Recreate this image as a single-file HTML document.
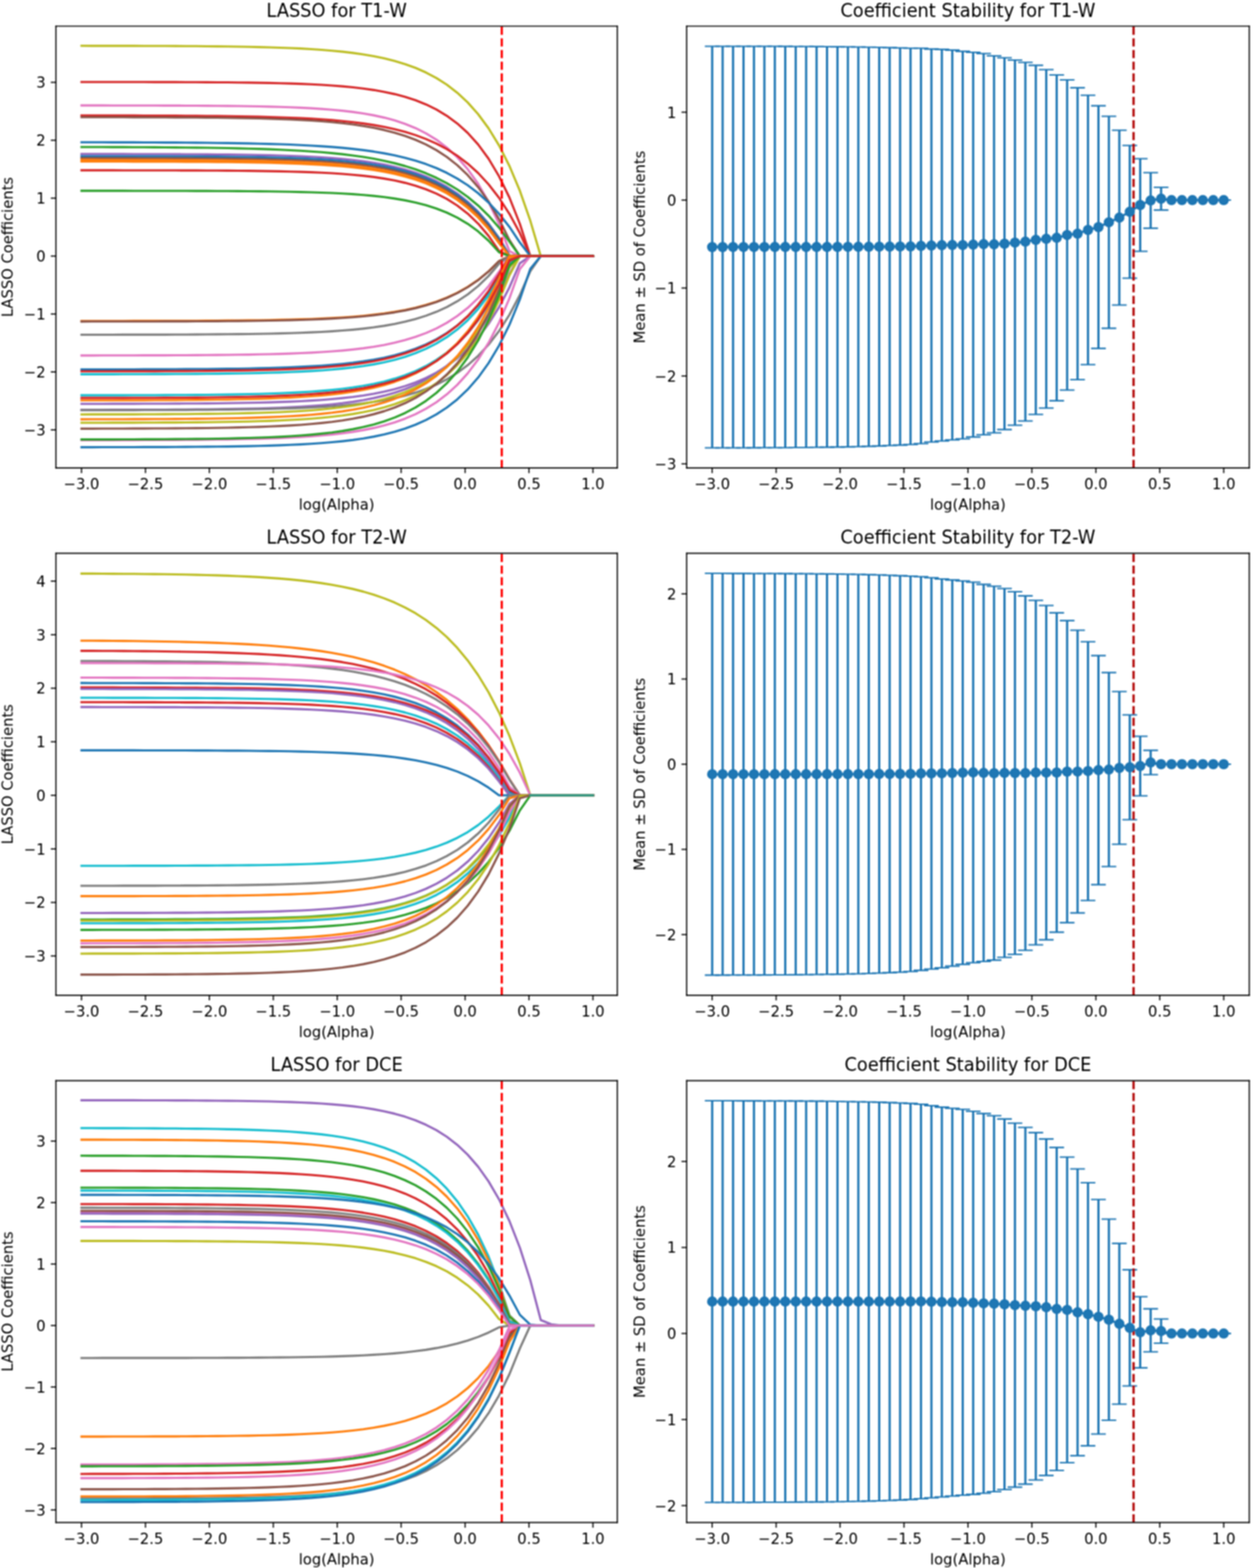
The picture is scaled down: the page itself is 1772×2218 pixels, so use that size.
<!DOCTYPE html>
<html><head><meta charset="utf-8"><title>LASSO coefficient paths</title><style>html,body{margin:0;padding:0;background:#fff;}svg{display:block;}</style></head><body>
<svg xmlns="http://www.w3.org/2000/svg" width="1772" height="2218" viewBox="0 0 1772 2218"><defs><filter id="soft" x="0" y="0" width="1772" height="2218" filterUnits="userSpaceOnUse" color-interpolation-filters="sRGB"><feGaussianBlur in="SourceGraphic" stdDeviation="1" result="b1"/><feGaussianBlur in="SourceGraphic" stdDeviation="1.5" result="b2"/><feComposite in="b1" in2="b2" operator="arithmetic" k1="0" k2="1.6" k3="-0.6" k4="0"/></filter></defs><rect width="1772" height="2218" fill="#ffffff"/><g filter="url(#soft)"><svg x="0" y="0" xmlns:xlink="http://www.w3.org/1999/xlink" width="1772" height="2218" viewBox="0 0 850.56 1064.64" xmlns="http://www.w3.org/2000/svg" version="1.1">
 <defs>
  <style type="text/css">*{stroke-linejoin: round; stroke-linecap: butt}</style>
 </defs>
 <g id="figure_1">
  <g id="patch_1">
   <path d="M 0 1064.64 
L 850.56 1064.64 
L 850.56 0 
L 0 0 
z
" style="fill: #ffffff"/>
  </g>
  <g id="axes_1">
   <g id="patch_2">
    <path d="M 37.99 317.73 
L 419.04 317.73 
L 419.04 17.76 
L 37.99 17.76 
z
" style="fill: #ffffff"/>
   </g>
   <g id="matplotlib.axis_1">
    <g id="xtick_1">
     <g id="line2d_1">
      <defs>
       <path id="m1504cfccaf" d="M 0 0 
L 0 3.5 
" style="stroke: #000000; stroke-width: 0.8"/>
      </defs>
      <g>
       <use xlink:href="#m1504cfccaf" x="55.34" y="317.73" style="stroke: #000000; stroke-width: 0.8"/>
      </g>
     </g>
     <g id="text_1">
      <text style="font-size: 10px; font-family: 'DejaVu Sans', 'Liberation Sans', sans-serif; text-anchor: middle" x="55.34" y="332.33" transform="rotate(-0 55.34 332.33)">−3.0</text>
     </g>
    </g>
    <g id="xtick_2">
     <g id="line2d_2">
      <g>
       <use xlink:href="#m1504cfccaf" x="98.73" y="317.73" style="stroke: #000000; stroke-width: 0.8"/>
      </g>
     </g>
     <g id="text_2">
      <text style="font-size: 10px; font-family: 'DejaVu Sans', 'Liberation Sans', sans-serif; text-anchor: middle" x="98.73" y="332.33" transform="rotate(-0 98.73 332.33)">−2.5</text>
     </g>
    </g>
    <g id="xtick_3">
     <g id="line2d_3">
      <g>
       <use xlink:href="#m1504cfccaf" x="142.13" y="317.73" style="stroke: #000000; stroke-width: 0.8"/>
      </g>
     </g>
     <g id="text_3">
      <text style="font-size: 10px; font-family: 'DejaVu Sans', 'Liberation Sans', sans-serif; text-anchor: middle" x="142.13" y="332.33" transform="rotate(-0 142.13 332.33)">−2.0</text>
     </g>
    </g>
    <g id="xtick_4">
     <g id="line2d_4">
      <g>
       <use xlink:href="#m1504cfccaf" x="185.52" y="317.73" style="stroke: #000000; stroke-width: 0.8"/>
      </g>
     </g>
     <g id="text_4">
      <text style="font-size: 10px; font-family: 'DejaVu Sans', 'Liberation Sans', sans-serif; text-anchor: middle" x="185.52" y="332.33" transform="rotate(-0 185.52 332.33)">−1.5</text>
     </g>
    </g>
    <g id="xtick_5">
     <g id="line2d_5">
      <g>
       <use xlink:href="#m1504cfccaf" x="228.92" y="317.73" style="stroke: #000000; stroke-width: 0.8"/>
      </g>
     </g>
     <g id="text_5">
      <text style="font-size: 10px; font-family: 'DejaVu Sans', 'Liberation Sans', sans-serif; text-anchor: middle" x="228.92" y="332.33" transform="rotate(-0 228.92 332.33)">−1.0</text>
     </g>
    </g>
    <g id="xtick_6">
     <g id="line2d_6">
      <g>
       <use xlink:href="#m1504cfccaf" x="272.31" y="317.73" style="stroke: #000000; stroke-width: 0.8"/>
      </g>
     </g>
     <g id="text_6">
      <text style="font-size: 10px; font-family: 'DejaVu Sans', 'Liberation Sans', sans-serif; text-anchor: middle" x="272.31" y="332.33" transform="rotate(-0 272.31 332.33)">−0.5</text>
     </g>
    </g>
    <g id="xtick_7">
     <g id="line2d_7">
      <g>
       <use xlink:href="#m1504cfccaf" x="315.71" y="317.73" style="stroke: #000000; stroke-width: 0.8"/>
      </g>
     </g>
     <g id="text_7">
      <text style="font-size: 10px; font-family: 'DejaVu Sans', 'Liberation Sans', sans-serif; text-anchor: middle" x="315.71" y="332.33" transform="rotate(-0 315.71 332.33)">0.0</text>
     </g>
    </g>
    <g id="xtick_8">
     <g id="line2d_8">
      <g>
       <use xlink:href="#m1504cfccaf" x="359.10" y="317.73" style="stroke: #000000; stroke-width: 0.8"/>
      </g>
     </g>
     <g id="text_8">
      <text style="font-size: 10px; font-family: 'DejaVu Sans', 'Liberation Sans', sans-serif; text-anchor: middle" x="359.10" y="332.33" transform="rotate(-0 359.10 332.33)">0.5</text>
     </g>
    </g>
    <g id="xtick_9">
     <g id="line2d_9">
      <g>
       <use xlink:href="#m1504cfccaf" x="402.50" y="317.73" style="stroke: #000000; stroke-width: 0.8"/>
      </g>
     </g>
     <g id="text_9">
      <text style="font-size: 10px; font-family: 'DejaVu Sans', 'Liberation Sans', sans-serif; text-anchor: middle" x="402.50" y="332.33" transform="rotate(-0 402.50 332.33)">1.0</text>
     </g>
    </g>
    <g id="text_10">
     <text style="font-size: 10px; font-family: 'DejaVu Sans', 'Liberation Sans', sans-serif; text-anchor: middle" x="228.51" y="346.01" transform="rotate(-0 228.51 346.01)">log(Alpha)</text>
    </g>
   </g>
   <g id="matplotlib.axis_2">
    <g id="ytick_1">
     <g id="line2d_10">
      <defs>
       <path id="m5d545ce8f8" d="M 0 0 
L -3.5 0 
" style="stroke: #000000; stroke-width: 0.8"/>
      </defs>
      <g>
       <use xlink:href="#m5d545ce8f8" x="37.99" y="291.88" style="stroke: #000000; stroke-width: 0.8"/>
      </g>
     </g>
     <g id="text_11">
      <text style="font-size: 10px; font-family: 'DejaVu Sans', 'Liberation Sans', sans-serif; text-anchor: end" x="30.99" y="295.68" transform="rotate(-0 30.99 295.68)">−3</text>
     </g>
    </g>
    <g id="ytick_2">
     <g id="line2d_11">
      <g>
       <use xlink:href="#m5d545ce8f8" x="37.99" y="252.55" style="stroke: #000000; stroke-width: 0.8"/>
      </g>
     </g>
     <g id="text_12">
      <text style="font-size: 10px; font-family: 'DejaVu Sans', 'Liberation Sans', sans-serif; text-anchor: end" x="30.99" y="256.35" transform="rotate(-0 30.99 256.35)">−2</text>
     </g>
    </g>
    <g id="ytick_3">
     <g id="line2d_12">
      <g>
       <use xlink:href="#m5d545ce8f8" x="37.99" y="213.23" style="stroke: #000000; stroke-width: 0.8"/>
      </g>
     </g>
     <g id="text_13">
      <text style="font-size: 10px; font-family: 'DejaVu Sans', 'Liberation Sans', sans-serif; text-anchor: end" x="30.99" y="217.03" transform="rotate(-0 30.99 217.03)">−1</text>
     </g>
    </g>
    <g id="ytick_4">
     <g id="line2d_13">
      <g>
       <use xlink:href="#m5d545ce8f8" x="37.99" y="173.90" style="stroke: #000000; stroke-width: 0.8"/>
      </g>
     </g>
     <g id="text_14">
      <text style="font-size: 10px; font-family: 'DejaVu Sans', 'Liberation Sans', sans-serif; text-anchor: end" x="30.99" y="177.70" transform="rotate(-0 30.99 177.70)">0</text>
     </g>
    </g>
    <g id="ytick_5">
     <g id="line2d_14">
      <g>
       <use xlink:href="#m5d545ce8f8" x="37.99" y="134.57" style="stroke: #000000; stroke-width: 0.8"/>
      </g>
     </g>
     <g id="text_15">
      <text style="font-size: 10px; font-family: 'DejaVu Sans', 'Liberation Sans', sans-serif; text-anchor: end" x="30.99" y="138.37" transform="rotate(-0 30.99 138.37)">1</text>
     </g>
    </g>
    <g id="ytick_6">
     <g id="line2d_15">
      <g>
       <use xlink:href="#m5d545ce8f8" x="37.99" y="95.25" style="stroke: #000000; stroke-width: 0.8"/>
      </g>
     </g>
     <g id="text_16">
      <text style="font-size: 10px; font-family: 'DejaVu Sans', 'Liberation Sans', sans-serif; text-anchor: end" x="30.99" y="99.04" transform="rotate(-0 30.99 99.04)">2</text>
     </g>
    </g>
    <g id="ytick_7">
     <g id="line2d_16">
      <g>
       <use xlink:href="#m5d545ce8f8" x="37.99" y="55.92" style="stroke: #000000; stroke-width: 0.8"/>
      </g>
     </g>
     <g id="text_17">
      <text style="font-size: 10px; font-family: 'DejaVu Sans', 'Liberation Sans', sans-serif; text-anchor: end" x="30.99" y="59.72" transform="rotate(-0 30.99 59.72)">3</text>
     </g>
    </g>
    <g id="text_18">
     <text style="font-size: 10px; font-family: 'DejaVu Sans', 'Liberation Sans', sans-serif; text-anchor: middle" x="8.62" y="167.74" transform="rotate(-90 8.62 167.74)">LASSO Coefficients</text>
    </g>
   </g>
   <g id="line2d_17">
    <path d="M 55.34 31.10 
L 62.42 31.11 
L 69.51 31.12 
L 76.59 31.13 
L 83.68 31.14 
L 90.76 31.16 
L 97.85 31.18 
L 104.93 31.20 
L 112.02 31.23 
L 119.10 31.26 
L 126.19 31.30 
L 133.27 31.35 
L 140.36 31.41 
L 147.44 31.49 
L 154.53 31.57 
L 161.61 31.68 
L 168.70 31.81 
L 175.78 31.96 
L 182.87 32.15 
L 189.95 32.37 
L 197.04 32.64 
L 204.12 32.96 
L 211.21 33.36 
L 218.29 33.83 
L 225.38 34.41 
L 232.46 35.10 
L 239.55 35.93 
L 246.63 36.94 
L 253.72 38.15 
L 260.80 39.62 
L 267.89 41.39 
L 274.97 43.52 
L 282.06 46.10 
L 289.14 49.21 
L 296.23 52.96 
L 303.31 57.49 
L 310.40 62.95 
L 317.48 69.54 
L 324.57 77.50 
L 331.65 87.11 
L 338.73 98.69 
L 345.82 112.68 
L 352.90 129.56 
L 359.99 149.93 
L 367.07 173.90 
L 374.16 173.90 
L 381.24 173.90 
L 388.33 173.90 
L 395.41 173.90 
L 402.50 173.90 
" clip-path="url(#p4a0992211f)" style="fill: none; stroke: #bcbd22; stroke-width: 1.5; stroke-linecap: square"/>
   </g>
   <g id="line2d_18">
    <path d="M 55.34 55.66 
L 62.42 55.66 
L 69.51 55.67 
L 76.59 55.68 
L 83.68 55.68 
L 90.76 55.69 
L 97.85 55.70 
L 104.93 55.72 
L 112.02 55.73 
L 119.10 55.75 
L 126.19 55.78 
L 133.27 55.81 
L 140.36 55.85 
L 147.44 55.90 
L 154.53 55.95 
L 161.61 56.02 
L 168.70 56.11 
L 175.78 56.22 
L 182.87 56.35 
L 189.95 56.51 
L 197.04 56.71 
L 204.12 56.95 
L 211.21 57.24 
L 218.29 57.61 
L 225.38 58.06 
L 232.46 58.60 
L 239.55 59.28 
L 246.63 60.10 
L 253.72 61.12 
L 260.80 62.36 
L 267.89 63.89 
L 274.97 65.77 
L 282.06 68.07 
L 289.14 70.89 
L 296.23 74.36 
L 303.31 78.62 
L 310.40 83.84 
L 317.48 90.25 
L 324.57 98.12 
L 331.65 107.78 
L 338.73 119.63 
L 345.82 134.18 
L 352.90 152.04 
L 359.99 173.90 
L 367.07 173.90 
L 374.16 173.90 
L 381.24 173.90 
L 388.33 173.90 
L 395.41 173.90 
L 402.50 173.90 
" clip-path="url(#p4a0992211f)" style="fill: none; stroke: #d62728; stroke-width: 1.5; stroke-linecap: square"/>
   </g>
   <g id="line2d_19">
    <path d="M 55.34 71.59 
L 62.42 71.60 
L 69.51 71.60 
L 76.59 71.61 
L 83.68 71.62 
L 90.76 71.63 
L 97.85 71.64 
L 104.93 71.66 
L 112.02 71.68 
L 119.10 71.70 
L 126.19 71.73 
L 133.27 71.77 
L 140.36 71.82 
L 147.44 71.87 
L 154.53 71.94 
L 161.61 72.03 
L 168.70 72.13 
L 175.78 72.26 
L 182.87 72.42 
L 189.95 72.62 
L 197.04 72.86 
L 204.12 73.15 
L 211.21 73.52 
L 218.29 73.97 
L 225.38 74.52 
L 232.46 75.19 
L 239.55 76.02 
L 246.63 77.05 
L 253.72 78.30 
L 260.80 79.85 
L 267.89 81.75 
L 274.97 84.09 
L 282.06 86.97 
L 289.14 90.51 
L 296.23 94.85 
L 303.31 100.20 
L 310.40 106.78 
L 317.48 114.87 
L 324.57 124.81 
L 331.65 137.04 
L 338.73 152.08 
L 345.82 170.57 
L 352.90 173.90 
L 359.99 173.90 
L 367.07 173.90 
L 374.16 173.90 
L 381.24 173.90 
L 388.33 173.90 
L 395.41 173.90 
L 402.50 173.90 
" clip-path="url(#p4a0992211f)" style="fill: none; stroke: #e377c2; stroke-width: 1.5; stroke-linecap: square"/>
   </g>
   <g id="line2d_20">
    <path d="M 55.34 78.38 
L 62.42 78.39 
L 69.51 78.40 
L 76.59 78.41 
L 83.68 78.42 
L 90.76 78.44 
L 97.85 78.46 
L 104.93 78.49 
L 112.02 78.52 
L 119.10 78.56 
L 126.19 78.60 
L 133.27 78.65 
L 140.36 78.71 
L 147.44 78.79 
L 154.53 78.87 
L 161.61 78.98 
L 168.70 79.10 
L 175.78 79.26 
L 182.87 79.44 
L 189.95 79.65 
L 197.04 79.91 
L 204.12 80.22 
L 211.21 80.58 
L 218.29 81.02 
L 225.38 81.55 
L 232.46 82.18 
L 239.55 82.93 
L 246.63 83.83 
L 253.72 84.90 
L 260.80 86.18 
L 267.89 87.72 
L 274.97 89.55 
L 282.06 91.74 
L 289.14 94.37 
L 296.23 97.50 
L 303.31 101.25 
L 310.40 105.73 
L 317.48 111.08 
L 324.57 117.49 
L 331.65 125.14 
L 338.73 134.29 
L 345.82 145.23 
L 352.90 158.31 
L 359.99 173.90 
L 367.07 173.90 
L 374.16 173.90 
L 381.24 173.90 
L 388.33 173.90 
L 395.41 173.90 
L 402.50 173.90 
" clip-path="url(#p4a0992211f)" style="fill: none; stroke: #d62728; stroke-width: 1.5; stroke-linecap: square"/>
   </g>
   <g id="line2d_21">
    <path d="M 55.34 79.55 
L 62.42 79.56 
L 69.51 79.57 
L 76.59 79.58 
L 83.68 79.59 
L 90.76 79.61 
L 97.85 79.63 
L 104.93 79.65 
L 112.02 79.68 
L 119.10 79.72 
L 126.19 79.76 
L 133.27 79.81 
L 140.36 79.87 
L 147.44 79.95 
L 154.53 80.04 
L 161.61 80.14 
L 168.70 80.27 
L 175.78 80.43 
L 182.87 80.62 
L 189.95 80.85 
L 197.04 81.13 
L 204.12 81.46 
L 211.21 81.86 
L 218.29 82.35 
L 225.38 82.93 
L 232.46 83.64 
L 239.55 84.50 
L 246.63 85.53 
L 253.72 86.77 
L 260.80 88.27 
L 267.89 90.08 
L 274.97 92.26 
L 282.06 94.90 
L 289.14 98.08 
L 296.23 101.92 
L 303.31 106.56 
L 310.40 112.15 
L 317.48 118.90 
L 324.57 127.04 
L 331.65 136.87 
L 338.73 148.73 
L 345.82 163.04 
L 352.90 173.90 
L 359.99 173.90 
L 367.07 173.90 
L 374.16 173.90 
L 381.24 173.90 
L 388.33 173.90 
L 395.41 173.90 
L 402.50 173.90 
" clip-path="url(#p4a0992211f)" style="fill: none; stroke: #8c564b; stroke-width: 1.5; stroke-linecap: square"/>
   </g>
   <g id="line2d_22">
    <path d="M 55.34 96.60 
L 62.42 96.61 
L 69.51 96.62 
L 76.59 96.64 
L 83.68 96.65 
L 90.76 96.67 
L 97.85 96.70 
L 104.93 96.73 
L 112.02 96.76 
L 119.10 96.80 
L 126.19 96.85 
L 133.27 96.90 
L 140.36 96.97 
L 147.44 97.05 
L 154.53 97.14 
L 161.61 97.25 
L 168.70 97.38 
L 175.78 97.54 
L 182.87 97.72 
L 189.95 97.93 
L 197.04 98.19 
L 204.12 98.49 
L 211.21 98.85 
L 218.29 99.28 
L 225.38 99.78 
L 232.46 100.38 
L 239.55 101.09 
L 246.63 101.93 
L 253.72 102.92 
L 260.80 104.10 
L 267.89 105.49 
L 274.97 107.14 
L 282.06 109.09 
L 289.14 111.40 
L 296.23 114.14 
L 303.31 117.38 
L 310.40 121.23 
L 317.48 125.78 
L 324.57 131.16 
L 331.65 137.54 
L 338.73 145.10 
L 345.82 154.05 
L 352.90 164.65 
L 359.99 173.90 
L 367.07 173.90 
L 374.16 173.90 
L 381.24 173.90 
L 388.33 173.90 
L 395.41 173.90 
L 402.50 173.90 
" clip-path="url(#p4a0992211f)" style="fill: none; stroke: #1f77b4; stroke-width: 1.5; stroke-linecap: square"/>
   </g>
   <g id="line2d_23">
    <path d="M 55.34 99.82 
L 62.42 99.84 
L 69.51 99.86 
L 76.59 99.88 
L 83.68 99.90 
L 90.76 99.93 
L 97.85 99.97 
L 104.93 100.01 
L 112.02 100.06 
L 119.10 100.12 
L 126.19 100.18 
L 133.27 100.26 
L 140.36 100.35 
L 147.44 100.46 
L 154.53 100.59 
L 161.61 100.74 
L 168.70 100.91 
L 175.78 101.12 
L 182.87 101.36 
L 189.95 101.64 
L 197.04 101.97 
L 204.12 102.36 
L 211.21 102.82 
L 218.29 103.35 
L 225.38 103.98 
L 232.46 104.72 
L 239.55 105.58 
L 246.63 106.59 
L 253.72 107.78 
L 260.80 109.18 
L 267.89 110.82 
L 274.97 112.74 
L 282.06 114.99 
L 289.14 117.64 
L 296.23 120.74 
L 303.31 124.38 
L 310.40 128.65 
L 317.48 133.66 
L 324.57 139.54 
L 331.65 146.43 
L 338.73 154.52 
L 345.82 164.02 
L 352.90 173.90 
L 359.99 173.90 
L 367.07 173.90 
L 374.16 173.90 
L 381.24 173.90 
L 388.33 173.90 
L 395.41 173.90 
L 402.50 173.90 
" clip-path="url(#p4a0992211f)" style="fill: none; stroke: #2ca02c; stroke-width: 1.5; stroke-linecap: square"/>
   </g>
   <g id="line2d_24">
    <path d="M 55.34 104.56 
L 62.42 104.56 
L 69.51 104.57 
L 76.59 104.58 
L 83.68 104.59 
L 90.76 104.61 
L 97.85 104.62 
L 104.93 104.64 
L 112.02 104.67 
L 119.10 104.69 
L 126.19 104.73 
L 133.27 104.77 
L 140.36 104.82 
L 147.44 104.88 
L 154.53 104.96 
L 161.61 105.05 
L 168.70 105.15 
L 175.78 105.28 
L 182.87 105.44 
L 189.95 105.63 
L 197.04 105.86 
L 204.12 106.13 
L 211.21 106.46 
L 218.29 106.86 
L 225.38 107.35 
L 232.46 107.93 
L 239.55 108.63 
L 246.63 109.48 
L 253.72 110.51 
L 260.80 111.75 
L 267.89 113.24 
L 274.97 115.04 
L 282.06 117.22 
L 289.14 119.84 
L 296.23 123.01 
L 303.31 126.83 
L 310.40 131.44 
L 317.48 137.01 
L 324.57 143.72 
L 331.65 151.83 
L 338.73 161.61 
L 345.82 173.41 
L 352.90 173.90 
L 359.99 173.90 
L 367.07 173.90 
L 374.16 173.90 
L 381.24 173.90 
L 388.33 173.90 
L 395.41 173.90 
L 402.50 173.90 
" clip-path="url(#p4a0992211f)" style="fill: none; stroke: #9467bd; stroke-width: 1.5; stroke-linecap: square"/>
   </g>
   <g id="line2d_25">
    <path d="M 55.34 106.05 
L 62.42 106.06 
L 69.51 106.07 
L 76.59 106.07 
L 83.68 106.09 
L 90.76 106.10 
L 97.85 106.11 
L 104.93 106.13 
L 112.02 106.16 
L 119.10 106.19 
L 126.19 106.22 
L 133.27 106.26 
L 140.36 106.31 
L 147.44 106.37 
L 154.53 106.44 
L 161.61 106.53 
L 168.70 106.63 
L 175.78 106.76 
L 182.87 106.91 
L 189.95 107.10 
L 197.04 107.32 
L 204.12 107.59 
L 211.21 107.92 
L 218.29 108.31 
L 225.38 108.78 
L 232.46 109.35 
L 239.55 110.04 
L 246.63 110.87 
L 253.72 111.87 
L 260.80 113.09 
L 267.89 114.55 
L 274.97 116.31 
L 282.06 118.44 
L 289.14 121.00 
L 296.23 124.10 
L 303.31 127.84 
L 310.40 132.35 
L 317.48 137.80 
L 324.57 144.37 
L 331.65 152.30 
L 338.73 161.87 
L 345.82 173.42 
L 352.90 173.90 
L 359.99 173.90 
L 367.07 173.90 
L 374.16 173.90 
L 381.24 173.90 
L 388.33 173.90 
L 395.41 173.90 
L 402.50 173.90 
" clip-path="url(#p4a0992211f)" style="fill: none; stroke: #1f77b4; stroke-width: 1.5; stroke-linecap: square"/>
   </g>
   <g id="line2d_26">
    <path d="M 55.34 107.31 
L 62.42 107.32 
L 69.51 107.32 
L 76.59 107.33 
L 83.68 107.34 
L 90.76 107.36 
L 97.85 107.37 
L 104.93 107.39 
L 112.02 107.42 
L 119.10 107.44 
L 126.19 107.48 
L 133.27 107.52 
L 140.36 107.57 
L 147.44 107.63 
L 154.53 107.70 
L 161.61 107.79 
L 168.70 107.90 
L 175.78 108.02 
L 182.87 108.18 
L 189.95 108.36 
L 197.04 108.59 
L 204.12 108.86 
L 211.21 109.18 
L 218.29 109.58 
L 225.38 110.05 
L 232.46 110.62 
L 239.55 111.32 
L 246.63 112.15 
L 253.72 113.16 
L 260.80 114.37 
L 267.89 115.84 
L 274.97 117.61 
L 282.06 119.75 
L 289.14 122.33 
L 296.23 125.44 
L 303.31 129.19 
L 310.40 133.73 
L 317.48 139.20 
L 324.57 145.80 
L 331.65 153.76 
L 338.73 163.37 
L 345.82 173.90 
L 352.90 173.90 
L 359.99 173.90 
L 367.07 173.90 
L 374.16 173.90 
L 381.24 173.90 
L 388.33 173.90 
L 395.41 173.90 
L 402.50 173.90 
" clip-path="url(#p4a0992211f)" style="fill: none; stroke: #8c564b; stroke-width: 1.5; stroke-linecap: square"/>
   </g>
   <g id="line2d_27">
    <path d="M 55.34 108.57 
L 62.42 108.57 
L 69.51 108.58 
L 76.59 108.59 
L 83.68 108.60 
L 90.76 108.62 
L 97.85 108.63 
L 104.93 108.65 
L 112.02 108.68 
L 119.10 108.70 
L 126.19 108.74 
L 133.27 108.78 
L 140.36 108.83 
L 147.44 108.89 
L 154.53 108.96 
L 161.61 109.05 
L 168.70 109.16 
L 175.78 109.28 
L 182.87 109.44 
L 189.95 109.63 
L 197.04 109.85 
L 204.12 110.12 
L 211.21 110.45 
L 218.29 110.84 
L 225.38 111.32 
L 232.46 111.90 
L 239.55 112.59 
L 246.63 113.43 
L 253.72 114.44 
L 260.80 115.66 
L 267.89 117.13 
L 274.97 118.91 
L 282.06 121.06 
L 289.14 123.65 
L 296.23 126.77 
L 303.31 130.54 
L 310.40 135.09 
L 317.48 140.58 
L 324.57 147.21 
L 331.65 155.20 
L 338.73 164.85 
L 345.82 173.90 
L 352.90 173.90 
L 359.99 173.90 
L 367.07 173.90 
L 374.16 173.90 
L 381.24 173.90 
L 388.33 173.90 
L 395.41 173.90 
L 402.50 173.90 
" clip-path="url(#p4a0992211f)" style="fill: none; stroke: #ff7f0e; stroke-width: 1.5; stroke-linecap: square"/>
   </g>
   <g id="line2d_28">
    <path d="M 55.34 109.67 
L 62.42 109.68 
L 69.51 109.68 
L 76.59 109.69 
L 83.68 109.70 
L 90.76 109.72 
L 97.85 109.73 
L 104.93 109.75 
L 112.02 109.77 
L 119.10 109.80 
L 126.19 109.84 
L 133.27 109.88 
L 140.36 109.93 
L 147.44 109.99 
L 154.53 110.06 
L 161.61 110.14 
L 168.70 110.25 
L 175.78 110.37 
L 182.87 110.52 
L 189.95 110.71 
L 197.04 110.93 
L 204.12 111.20 
L 211.21 111.52 
L 218.29 111.91 
L 225.38 112.38 
L 232.46 112.94 
L 239.55 113.62 
L 246.63 114.45 
L 253.72 115.44 
L 260.80 116.64 
L 267.89 118.09 
L 274.97 119.84 
L 282.06 121.95 
L 289.14 124.49 
L 296.23 127.56 
L 303.31 131.27 
L 310.40 135.74 
L 317.48 141.14 
L 324.57 147.66 
L 331.65 155.52 
L 338.73 165.01 
L 345.82 173.90 
L 352.90 173.90 
L 359.99 173.90 
L 367.07 173.90 
L 374.16 173.90 
L 381.24 173.90 
L 388.33 173.90 
L 395.41 173.90 
L 402.50 173.90 
" clip-path="url(#p4a0992211f)" style="fill: none; stroke: #ff7f0e; stroke-width: 1.5; stroke-linecap: square"/>
   </g>
   <g id="line2d_29">
    <path d="M 55.34 115.63 
L 62.42 115.63 
L 69.51 115.64 
L 76.59 115.64 
L 83.68 115.65 
L 90.76 115.66 
L 97.85 115.67 
L 104.93 115.68 
L 112.02 115.69 
L 119.10 115.71 
L 126.19 115.73 
L 133.27 115.75 
L 140.36 115.78 
L 147.44 115.82 
L 154.53 115.87 
L 161.61 115.93 
L 168.70 116.00 
L 175.78 116.09 
L 182.87 116.20 
L 189.95 116.33 
L 197.04 116.49 
L 204.12 116.69 
L 211.21 116.94 
L 218.29 117.25 
L 225.38 117.62 
L 232.46 118.08 
L 239.55 118.65 
L 246.63 119.34 
L 253.72 120.20 
L 260.80 121.25 
L 267.89 122.54 
L 274.97 124.13 
L 282.06 126.09 
L 289.14 128.49 
L 296.23 131.45 
L 303.31 135.09 
L 310.40 139.56 
L 317.48 145.06 
L 324.57 151.82 
L 331.65 160.14 
L 338.73 170.37 
L 345.82 173.90 
L 352.90 173.90 
L 359.99 173.90 
L 367.07 173.90 
L 374.16 173.90 
L 381.24 173.90 
L 388.33 173.90 
L 395.41 173.90 
L 402.50 173.90 
" clip-path="url(#p4a0992211f)" style="fill: none; stroke: #d62728; stroke-width: 1.5; stroke-linecap: square"/>
   </g>
   <g id="line2d_30">
    <path d="M 55.34 129.55 
L 62.42 129.55 
L 69.51 129.55 
L 76.59 129.56 
L 83.68 129.56 
L 90.76 129.57 
L 97.85 129.58 
L 104.93 129.58 
L 112.02 129.59 
L 119.10 129.61 
L 126.19 129.62 
L 133.27 129.64 
L 140.36 129.67 
L 147.44 129.70 
L 154.53 129.73 
L 161.61 129.78 
L 168.70 129.83 
L 175.78 129.90 
L 182.87 129.98 
L 189.95 130.08 
L 197.04 130.21 
L 204.12 130.36 
L 211.21 130.55 
L 218.29 130.78 
L 225.38 131.06 
L 232.46 131.41 
L 239.55 131.84 
L 246.63 132.37 
L 253.72 133.02 
L 260.80 133.82 
L 267.89 134.81 
L 274.97 136.02 
L 282.06 137.51 
L 289.14 139.34 
L 296.23 141.59 
L 303.31 144.36 
L 310.40 147.76 
L 317.48 151.95 
L 324.57 157.10 
L 331.65 163.43 
L 338.73 171.21 
L 345.82 173.90 
L 352.90 173.90 
L 359.99 173.90 
L 367.07 173.90 
L 374.16 173.90 
L 381.24 173.90 
L 388.33 173.90 
L 395.41 173.90 
L 402.50 173.90 
" clip-path="url(#p4a0992211f)" style="fill: none; stroke: #2ca02c; stroke-width: 1.5; stroke-linecap: square"/>
   </g>
   <g id="line2d_31">
    <path d="M 55.34 217.92 
L 62.42 217.92 
L 69.51 217.91 
L 76.59 217.91 
L 83.68 217.90 
L 90.76 217.89 
L 97.85 217.88 
L 104.93 217.86 
L 112.02 217.85 
L 119.10 217.83 
L 126.19 217.80 
L 133.27 217.77 
L 140.36 217.74 
L 147.44 217.69 
L 154.53 217.64 
L 161.61 217.58 
L 168.70 217.50 
L 175.78 217.41 
L 182.87 217.30 
L 189.95 217.16 
L 197.04 217.00 
L 204.12 216.80 
L 211.21 216.57 
L 218.29 216.28 
L 225.38 215.94 
L 232.46 215.52 
L 239.55 215.02 
L 246.63 214.41 
L 253.72 213.68 
L 260.80 212.80 
L 267.89 211.74 
L 274.97 210.46 
L 282.06 208.91 
L 289.14 207.04 
L 296.23 204.78 
L 303.31 202.06 
L 310.40 198.77 
L 317.48 194.81 
L 324.57 190.02 
L 331.65 184.25 
L 338.73 177.28 
L 345.82 173.90 
L 352.90 173.90 
L 359.99 173.90 
L 367.07 173.90 
L 374.16 173.90 
L 381.24 173.90 
L 388.33 173.90 
L 395.41 173.90 
L 402.50 173.90 
" clip-path="url(#p4a0992211f)" style="fill: none; stroke: #ff7f0e; stroke-width: 1.5; stroke-linecap: square"/>
   </g>
   <g id="line2d_32">
    <path d="M 55.34 218.32 
L 62.42 218.31 
L 69.51 218.31 
L 76.59 218.30 
L 83.68 218.29 
L 90.76 218.28 
L 97.85 218.27 
L 104.93 218.26 
L 112.02 218.24 
L 119.10 218.22 
L 126.19 218.19 
L 133.27 218.16 
L 140.36 218.13 
L 147.44 218.08 
L 154.53 218.03 
L 161.61 217.97 
L 168.70 217.89 
L 175.78 217.80 
L 182.87 217.68 
L 189.95 217.55 
L 197.04 217.38 
L 204.12 217.19 
L 211.21 216.95 
L 218.29 216.66 
L 225.38 216.31 
L 232.46 215.89 
L 239.55 215.39 
L 246.63 214.78 
L 253.72 214.04 
L 260.80 213.15 
L 267.89 212.08 
L 274.97 210.78 
L 282.06 209.22 
L 289.14 207.33 
L 296.23 205.06 
L 303.31 202.31 
L 310.40 199.00 
L 317.48 195.00 
L 324.57 190.17 
L 331.65 184.34 
L 338.73 177.31 
L 345.82 173.90 
L 352.90 173.90 
L 359.99 173.90 
L 367.07 173.90 
L 374.16 173.90 
L 381.24 173.90 
L 388.33 173.90 
L 395.41 173.90 
L 402.50 173.90 
" clip-path="url(#p4a0992211f)" style="fill: none; stroke: #8c564b; stroke-width: 1.5; stroke-linecap: square"/>
   </g>
   <g id="line2d_33">
    <path d="M 55.34 227.28 
L 62.42 227.27 
L 69.51 227.27 
L 76.59 227.26 
L 83.68 227.25 
L 90.76 227.24 
L 97.85 227.23 
L 104.93 227.21 
L 112.02 227.19 
L 119.10 227.16 
L 126.19 227.13 
L 133.27 227.10 
L 140.36 227.06 
L 147.44 227.00 
L 154.53 226.94 
L 161.61 226.87 
L 168.70 226.78 
L 175.78 226.67 
L 182.87 226.54 
L 189.95 226.38 
L 197.04 226.18 
L 204.12 225.95 
L 211.21 225.67 
L 218.29 225.33 
L 225.38 224.92 
L 232.46 224.43 
L 239.55 223.84 
L 246.63 223.12 
L 253.72 222.26 
L 260.80 221.21 
L 267.89 219.95 
L 274.97 218.43 
L 282.06 216.59 
L 289.14 214.38 
L 296.23 211.71 
L 303.31 208.48 
L 310.40 204.59 
L 317.48 199.89 
L 324.57 194.22 
L 331.65 187.38 
L 338.73 179.12 
L 345.82 173.90 
L 352.90 173.90 
L 359.99 173.90 
L 367.07 173.90 
L 374.16 173.90 
L 381.24 173.90 
L 388.33 173.90 
L 395.41 173.90 
L 402.50 173.90 
" clip-path="url(#p4a0992211f)" style="fill: none; stroke: #7f7f7f; stroke-width: 1.5; stroke-linecap: square"/>
   </g>
   <g id="line2d_34">
    <path d="M 55.34 241.35 
L 62.42 241.35 
L 69.51 241.34 
L 76.59 241.33 
L 83.68 241.32 
L 90.76 241.31 
L 97.85 241.29 
L 104.93 241.27 
L 112.02 241.25 
L 119.10 241.22 
L 126.19 241.18 
L 133.27 241.14 
L 140.36 241.09 
L 147.44 241.03 
L 154.53 240.96 
L 161.61 240.87 
L 168.70 240.76 
L 175.78 240.63 
L 182.87 240.48 
L 189.95 240.29 
L 197.04 240.06 
L 204.12 239.79 
L 211.21 239.46 
L 218.29 239.06 
L 225.38 238.58 
L 232.46 238.00 
L 239.55 237.30 
L 246.63 236.45 
L 253.72 235.43 
L 260.80 234.20 
L 267.89 232.71 
L 274.97 230.92 
L 282.06 228.75 
L 289.14 226.14 
L 296.23 222.99 
L 303.31 219.19 
L 310.40 214.59 
L 317.48 209.05 
L 324.57 202.37 
L 331.65 194.30 
L 338.73 184.56 
L 345.82 173.90 
L 352.90 173.90 
L 359.99 173.90 
L 367.07 173.90 
L 374.16 173.90 
L 381.24 173.90 
L 388.33 173.90 
L 395.41 173.90 
L 402.50 173.90 
" clip-path="url(#p4a0992211f)" style="fill: none; stroke: #e377c2; stroke-width: 1.5; stroke-linecap: square"/>
   </g>
   <g id="line2d_35">
    <path d="M 55.34 250.83 
L 62.42 250.82 
L 69.51 250.81 
L 76.59 250.80 
L 83.68 250.79 
L 90.76 250.77 
L 97.85 250.76 
L 104.93 250.73 
L 112.02 250.71 
L 119.10 250.68 
L 126.19 250.64 
L 133.27 250.59 
L 140.36 250.53 
L 147.44 250.47 
L 154.53 250.39 
L 161.61 250.29 
L 168.70 250.17 
L 175.78 250.02 
L 182.87 249.85 
L 189.95 249.64 
L 197.04 249.39 
L 204.12 249.08 
L 211.21 248.71 
L 218.29 248.27 
L 225.38 247.73 
L 232.46 247.09 
L 239.55 246.31 
L 246.63 245.36 
L 253.72 244.23 
L 260.80 242.85 
L 267.89 241.20 
L 274.97 239.20 
L 282.06 236.79 
L 289.14 233.87 
L 296.23 230.36 
L 303.31 226.12 
L 310.40 221.01 
L 317.48 214.83 
L 324.57 207.38 
L 331.65 198.39 
L 338.73 187.54 
L 345.82 174.44 
L 352.90 173.90 
L 359.99 173.90 
L 367.07 173.90 
L 374.16 173.90 
L 381.24 173.90 
L 388.33 173.90 
L 395.41 173.90 
L 402.50 173.90 
" clip-path="url(#p4a0992211f)" style="fill: none; stroke: #1f77b4; stroke-width: 1.5; stroke-linecap: square"/>
   </g>
   <g id="line2d_36">
    <path d="M 55.34 252.13 
L 62.42 252.12 
L 69.51 252.11 
L 76.59 252.10 
L 83.68 252.08 
L 90.76 252.07 
L 97.85 252.05 
L 104.93 252.03 
L 112.02 252.00 
L 119.10 251.97 
L 126.19 251.93 
L 133.27 251.88 
L 140.36 251.82 
L 147.44 251.75 
L 154.53 251.66 
L 161.61 251.56 
L 168.70 251.44 
L 175.78 251.29 
L 182.87 251.11 
L 189.95 250.89 
L 197.04 250.63 
L 204.12 250.31 
L 211.21 249.92 
L 218.29 249.46 
L 225.38 248.90 
L 232.46 248.23 
L 239.55 247.42 
L 246.63 246.44 
L 253.72 245.25 
L 260.80 243.83 
L 267.89 242.10 
L 274.97 240.02 
L 282.06 237.51 
L 289.14 234.48 
L 296.23 230.83 
L 303.31 226.42 
L 310.40 221.09 
L 317.48 214.67 
L 324.57 206.91 
L 331.65 197.56 
L 338.73 186.27 
L 345.82 173.90 
L 352.90 173.90 
L 359.99 173.90 
L 367.07 173.90 
L 374.16 173.90 
L 381.24 173.90 
L 388.33 173.90 
L 395.41 173.90 
L 402.50 173.90 
" clip-path="url(#p4a0992211f)" style="fill: none; stroke: #d62728; stroke-width: 1.5; stroke-linecap: square"/>
   </g>
   <g id="line2d_37">
    <path d="M 55.34 254.09 
L 62.42 254.08 
L 69.51 254.08 
L 76.59 254.07 
L 83.68 254.05 
L 90.76 254.04 
L 97.85 254.02 
L 104.93 254.00 
L 112.02 253.97 
L 119.10 253.94 
L 126.19 253.90 
L 133.27 253.85 
L 140.36 253.79 
L 147.44 253.72 
L 154.53 253.64 
L 161.61 253.54 
L 168.70 253.42 
L 175.78 253.27 
L 182.87 253.10 
L 189.95 252.88 
L 197.04 252.62 
L 204.12 252.31 
L 211.21 251.94 
L 218.29 251.49 
L 225.38 250.94 
L 232.46 250.28 
L 239.55 249.48 
L 246.63 248.52 
L 253.72 247.37 
L 260.80 245.97 
L 267.89 244.28 
L 274.97 242.24 
L 282.06 239.79 
L 289.14 236.82 
L 296.23 233.24 
L 303.31 228.92 
L 310.40 223.71 
L 317.48 217.42 
L 324.57 209.83 
L 331.65 200.67 
L 338.73 189.62 
L 345.82 176.28 
L 352.90 173.90 
L 359.99 173.90 
L 367.07 173.90 
L 374.16 173.90 
L 381.24 173.90 
L 388.33 173.90 
L 395.41 173.90 
L 402.50 173.90 
" clip-path="url(#p4a0992211f)" style="fill: none; stroke: #17becf; stroke-width: 1.5; stroke-linecap: square"/>
   </g>
   <g id="line2d_38">
    <path d="M 55.34 268.40 
L 62.42 268.39 
L 69.51 268.38 
L 76.59 268.37 
L 83.68 268.36 
L 90.76 268.34 
L 97.85 268.32 
L 104.93 268.29 
L 112.02 268.26 
L 119.10 268.22 
L 126.19 268.18 
L 133.27 268.12 
L 140.36 268.06 
L 147.44 267.98 
L 154.53 267.88 
L 161.61 267.77 
L 168.70 267.63 
L 175.78 267.46 
L 182.87 267.25 
L 189.95 267.01 
L 197.04 266.71 
L 204.12 266.35 
L 211.21 265.92 
L 218.29 265.40 
L 225.38 264.77 
L 232.46 264.01 
L 239.55 263.10 
L 246.63 261.99 
L 253.72 260.66 
L 260.80 259.05 
L 267.89 257.10 
L 274.97 254.76 
L 282.06 251.93 
L 289.14 248.51 
L 296.23 244.39 
L 303.31 239.42 
L 310.40 233.42 
L 317.48 226.17 
L 324.57 217.43 
L 331.65 206.88 
L 338.73 194.15 
L 345.82 178.79 
L 352.90 173.90 
L 359.99 173.90 
L 367.07 173.90 
L 374.16 173.90 
L 381.24 173.90 
L 388.33 173.90 
L 395.41 173.90 
L 402.50 173.90 
" clip-path="url(#p4a0992211f)" style="fill: none; stroke: #17becf; stroke-width: 1.5; stroke-linecap: square"/>
   </g>
   <g id="line2d_39">
    <path d="M 55.34 271.82 
L 62.42 271.81 
L 69.51 271.80 
L 76.59 271.79 
L 83.68 271.77 
L 90.76 271.75 
L 97.85 271.73 
L 104.93 271.70 
L 112.02 271.66 
L 119.10 271.62 
L 126.19 271.57 
L 133.27 271.51 
L 140.36 271.44 
L 147.44 271.35 
L 154.53 271.24 
L 161.61 271.11 
L 168.70 270.96 
L 175.78 270.77 
L 182.87 270.54 
L 189.95 270.27 
L 197.04 269.94 
L 204.12 269.54 
L 211.21 269.06 
L 218.29 268.49 
L 225.38 267.79 
L 232.46 266.94 
L 239.55 265.93 
L 246.63 264.70 
L 253.72 263.22 
L 260.80 261.43 
L 267.89 259.27 
L 274.97 256.67 
L 282.06 253.53 
L 289.14 249.74 
L 296.23 245.16 
L 303.31 239.64 
L 310.40 232.97 
L 317.48 224.93 
L 324.57 215.23 
L 331.65 203.51 
L 338.73 189.38 
L 345.82 173.90 
L 352.90 173.90 
L 359.99 173.90 
L 367.07 173.90 
L 374.16 173.90 
L 381.24 173.90 
L 388.33 173.90 
L 395.41 173.90 
L 402.50 173.90 
" clip-path="url(#p4a0992211f)" style="fill: none; stroke: #ff7f0e; stroke-width: 1.5; stroke-linecap: square"/>
   </g>
   <g id="line2d_40">
    <path d="M 55.34 274.19 
L 62.42 274.18 
L 69.51 274.17 
L 76.59 274.16 
L 83.68 274.15 
L 90.76 274.13 
L 97.85 274.11 
L 104.93 274.09 
L 112.02 274.06 
L 119.10 274.03 
L 126.19 273.99 
L 133.27 273.94 
L 140.36 273.88 
L 147.44 273.81 
L 154.53 273.73 
L 161.61 273.63 
L 168.70 273.50 
L 175.78 273.35 
L 182.87 273.17 
L 189.95 272.96 
L 197.04 272.70 
L 204.12 272.38 
L 211.21 272.00 
L 218.29 271.54 
L 225.38 270.98 
L 232.46 270.31 
L 239.55 269.50 
L 246.63 268.53 
L 253.72 267.35 
L 260.80 265.93 
L 267.89 264.21 
L 274.97 262.14 
L 282.06 259.65 
L 289.14 256.63 
L 296.23 253.00 
L 303.31 248.61 
L 310.40 243.31 
L 317.48 236.91 
L 324.57 229.20 
L 331.65 219.89 
L 338.73 208.65 
L 345.82 195.09 
L 352.90 178.73 
L 359.99 173.90 
L 367.07 173.90 
L 374.16 173.90 
L 381.24 173.90 
L 388.33 173.90 
L 395.41 173.90 
L 402.50 173.90 
" clip-path="url(#p4a0992211f)" style="fill: none; stroke: #9467bd; stroke-width: 1.5; stroke-linecap: square"/>
   </g>
   <g id="line2d_41">
    <path d="M 55.34 278.27 
L 62.42 278.26 
L 69.51 278.25 
L 76.59 278.24 
L 83.68 278.23 
L 90.76 278.21 
L 97.85 278.18 
L 104.93 278.16 
L 112.02 278.13 
L 119.10 278.09 
L 126.19 278.04 
L 133.27 277.98 
L 140.36 277.92 
L 147.44 277.83 
L 154.53 277.74 
L 161.61 277.62 
L 168.70 277.47 
L 175.78 277.30 
L 182.87 277.09 
L 189.95 276.84 
L 197.04 276.53 
L 204.12 276.16 
L 211.21 275.72 
L 218.29 275.18 
L 225.38 274.53 
L 232.46 273.75 
L 239.55 272.80 
L 246.63 271.66 
L 253.72 270.29 
L 260.80 268.63 
L 267.89 266.63 
L 274.97 264.21 
L 282.06 261.29 
L 289.14 257.77 
L 296.23 253.52 
L 303.31 248.40 
L 310.40 242.21 
L 317.48 234.75 
L 324.57 225.74 
L 331.65 214.86 
L 338.73 201.74 
L 345.82 185.91 
L 352.90 173.90 
L 359.99 173.90 
L 367.07 173.90 
L 374.16 173.90 
L 381.24 173.90 
L 388.33 173.90 
L 395.41 173.90 
L 402.50 173.90 
" clip-path="url(#p4a0992211f)" style="fill: none; stroke: #9467bd; stroke-width: 1.5; stroke-linecap: square"/>
   </g>
   <g id="line2d_42">
    <path d="M 55.34 278.48 
L 62.42 278.47 
L 69.51 278.47 
L 76.59 278.46 
L 83.68 278.45 
L 90.76 278.44 
L 97.85 278.42 
L 104.93 278.40 
L 112.02 278.38 
L 119.10 278.35 
L 126.19 278.32 
L 133.27 278.28 
L 140.36 278.23 
L 147.44 278.17 
L 154.53 278.11 
L 161.61 278.02 
L 168.70 277.92 
L 175.78 277.80 
L 182.87 277.65 
L 189.95 277.47 
L 197.04 277.26 
L 204.12 277.00 
L 211.21 276.69 
L 218.29 276.31 
L 225.38 275.86 
L 232.46 275.31 
L 239.55 274.65 
L 246.63 273.85 
L 253.72 272.88 
L 260.80 271.72 
L 267.89 270.31 
L 274.97 268.62 
L 282.06 266.58 
L 289.14 264.11 
L 296.23 261.13 
L 303.31 257.53 
L 310.40 253.20 
L 317.48 247.96 
L 324.57 241.64 
L 331.65 234.02 
L 338.73 224.82 
L 345.82 213.72 
L 352.90 200.32 
L 359.99 184.15 
L 367.07 173.90 
L 374.16 173.90 
L 381.24 173.90 
L 388.33 173.90 
L 395.41 173.90 
L 402.50 173.90 
" clip-path="url(#p4a0992211f)" style="fill: none; stroke: #7f7f7f; stroke-width: 1.5; stroke-linecap: square"/>
   </g>
   <g id="line2d_43">
    <path d="M 55.34 281.38 
L 62.42 281.37 
L 69.51 281.35 
L 76.59 281.34 
L 83.68 281.33 
L 90.76 281.31 
L 97.85 281.28 
L 104.93 281.25 
L 112.02 281.22 
L 119.10 281.18 
L 126.19 281.13 
L 133.27 281.07 
L 140.36 280.99 
L 147.44 280.90 
L 154.53 280.80 
L 161.61 280.67 
L 168.70 280.51 
L 175.78 280.33 
L 182.87 280.10 
L 189.95 279.83 
L 197.04 279.50 
L 204.12 279.10 
L 211.21 278.62 
L 218.29 278.04 
L 225.38 277.34 
L 232.46 276.50 
L 239.55 275.48 
L 246.63 274.25 
L 253.72 272.77 
L 260.80 270.98 
L 267.89 268.82 
L 274.97 266.21 
L 282.06 263.07 
L 289.14 259.27 
L 296.23 254.69 
L 303.31 249.16 
L 310.40 242.49 
L 317.48 234.44 
L 324.57 224.73 
L 331.65 213.00 
L 338.73 198.85 
L 345.82 181.78 
L 352.90 173.90 
L 359.99 173.90 
L 367.07 173.90 
L 374.16 173.90 
L 381.24 173.90 
L 388.33 173.90 
L 395.41 173.90 
L 402.50 173.90 
" clip-path="url(#p4a0992211f)" style="fill: none; stroke: #bcbd22; stroke-width: 1.5; stroke-linecap: square"/>
   </g>
   <g id="line2d_44">
    <path d="M 55.34 284.67 
L 62.42 284.66 
L 69.51 284.65 
L 76.59 284.64 
L 83.68 284.62 
L 90.76 284.60 
L 97.85 284.57 
L 104.93 284.54 
L 112.02 284.50 
L 119.10 284.45 
L 126.19 284.40 
L 133.27 284.33 
L 140.36 284.25 
L 147.44 284.15 
L 154.53 284.04 
L 161.61 283.89 
L 168.70 283.72 
L 175.78 283.51 
L 182.87 283.26 
L 189.95 282.96 
L 197.04 282.60 
L 204.12 282.16 
L 211.21 281.63 
L 218.29 280.99 
L 225.38 280.22 
L 232.46 279.29 
L 239.55 278.16 
L 246.63 276.80 
L 253.72 275.17 
L 260.80 273.19 
L 267.89 270.80 
L 274.97 267.93 
L 282.06 264.45 
L 289.14 260.26 
L 296.23 255.20 
L 303.31 249.10 
L 310.40 241.73 
L 317.48 232.84 
L 324.57 222.11 
L 331.65 209.16 
L 338.73 193.54 
L 345.82 174.68 
L 352.90 173.90 
L 359.99 173.90 
L 367.07 173.90 
L 374.16 173.90 
L 381.24 173.90 
L 388.33 173.90 
L 395.41 173.90 
L 402.50 173.90 
" clip-path="url(#p4a0992211f)" style="fill: none; stroke: #ff7f0e; stroke-width: 1.5; stroke-linecap: square"/>
   </g>
   <g id="line2d_45">
    <path d="M 55.34 287.04 
L 62.42 287.03 
L 69.51 287.02 
L 76.59 287.00 
L 83.68 286.99 
L 90.76 286.97 
L 97.85 286.94 
L 104.93 286.92 
L 112.02 286.88 
L 119.10 286.84 
L 126.19 286.79 
L 133.27 286.73 
L 140.36 286.65 
L 147.44 286.56 
L 154.53 286.46 
L 161.61 286.33 
L 168.70 286.17 
L 175.78 285.98 
L 182.87 285.76 
L 189.95 285.48 
L 197.04 285.15 
L 204.12 284.75 
L 211.21 284.27 
L 218.29 283.68 
L 225.38 282.98 
L 232.46 282.13 
L 239.55 281.11 
L 246.63 279.87 
L 253.72 278.38 
L 260.80 276.58 
L 267.89 274.41 
L 274.97 271.79 
L 282.06 268.63 
L 289.14 264.82 
L 296.23 260.21 
L 303.31 254.65 
L 310.40 247.95 
L 317.48 239.86 
L 324.57 230.09 
L 331.65 218.30 
L 338.73 204.08 
L 345.82 186.92 
L 352.90 173.90 
L 359.99 173.90 
L 367.07 173.90 
L 374.16 173.90 
L 381.24 173.90 
L 388.33 173.90 
L 395.41 173.90 
L 402.50 173.90 
" clip-path="url(#p4a0992211f)" style="fill: none; stroke: #bcbd22; stroke-width: 1.5; stroke-linecap: square"/>
   </g>
   <g id="line2d_46">
    <path d="M 55.34 291.04 
L 62.42 291.03 
L 69.51 291.02 
L 76.59 291.00 
L 83.68 290.99 
L 90.76 290.96 
L 97.85 290.94 
L 104.93 290.90 
L 112.02 290.86 
L 119.10 290.82 
L 126.19 290.76 
L 133.27 290.69 
L 140.36 290.61 
L 147.44 290.51 
L 154.53 290.38 
L 161.61 290.24 
L 168.70 290.06 
L 175.78 289.85 
L 182.87 289.59 
L 189.95 289.28 
L 197.04 288.90 
L 204.12 288.45 
L 211.21 287.90 
L 218.29 287.24 
L 225.38 286.44 
L 232.46 285.47 
L 239.55 284.31 
L 246.63 282.91 
L 253.72 281.22 
L 260.80 279.18 
L 267.89 276.71 
L 274.97 273.74 
L 282.06 270.15 
L 289.14 265.81 
L 296.23 260.59 
L 303.31 254.28 
L 310.40 246.66 
L 317.48 237.48 
L 324.57 226.39 
L 331.65 213.01 
L 338.73 196.86 
L 345.82 177.37 
L 352.90 173.90 
L 359.99 173.90 
L 367.07 173.90 
L 374.16 173.90 
L 381.24 173.90 
L 388.33 173.90 
L 395.41 173.90 
L 402.50 173.90 
" clip-path="url(#p4a0992211f)" style="fill: none; stroke: #8c564b; stroke-width: 1.5; stroke-linecap: square"/>
   </g>
   <g id="line2d_47">
    <path d="M 55.34 298.92 
L 62.42 298.91 
L 69.51 298.90 
L 76.59 298.88 
L 83.68 298.87 
L 90.76 298.85 
L 97.85 298.83 
L 104.93 298.80 
L 112.02 298.77 
L 119.10 298.72 
L 126.19 298.68 
L 133.27 298.62 
L 140.36 298.55 
L 147.44 298.46 
L 154.53 298.36 
L 161.61 298.23 
L 168.70 298.08 
L 175.78 297.90 
L 182.87 297.68 
L 189.95 297.42 
L 197.04 297.10 
L 204.12 296.71 
L 211.21 296.25 
L 218.29 295.69 
L 225.38 295.01 
L 232.46 294.20 
L 239.55 293.21 
L 246.63 292.02 
L 253.72 290.59 
L 260.80 288.86 
L 267.89 286.77 
L 274.97 284.25 
L 282.06 281.20 
L 289.14 277.53 
L 296.23 273.10 
L 303.31 267.75 
L 310.40 261.30 
L 317.48 253.51 
L 324.57 244.11 
L 331.65 232.77 
L 338.73 219.08 
L 345.82 202.56 
L 352.90 182.63 
L 359.99 173.90 
L 367.07 173.90 
L 374.16 173.90 
L 381.24 173.90 
L 388.33 173.90 
L 395.41 173.90 
L 402.50 173.90 
" clip-path="url(#p4a0992211f)" style="fill: none; stroke: #e377c2; stroke-width: 1.5; stroke-linecap: square"/>
   </g>
   <g id="line2d_48">
    <path d="M 55.34 298.40 
L 62.42 298.38 
L 69.51 298.37 
L 76.59 298.36 
L 83.68 298.34 
L 90.76 298.31 
L 97.85 298.28 
L 104.93 298.25 
L 112.02 298.21 
L 119.10 298.16 
L 126.19 298.10 
L 133.27 298.03 
L 140.36 297.94 
L 147.44 297.84 
L 154.53 297.71 
L 161.61 297.56 
L 168.70 297.37 
L 175.78 297.15 
L 182.87 296.88 
L 189.95 296.56 
L 197.04 296.17 
L 204.12 295.70 
L 211.21 295.13 
L 218.29 294.44 
L 225.38 293.61 
L 232.46 292.61 
L 239.55 291.41 
L 246.63 289.95 
L 253.72 288.19 
L 260.80 286.07 
L 267.89 283.51 
L 274.97 280.42 
L 282.06 276.69 
L 289.14 272.19 
L 296.23 266.76 
L 303.31 260.21 
L 310.40 252.30 
L 317.48 242.76 
L 324.57 231.25 
L 331.65 217.35 
L 338.73 200.58 
L 345.82 180.34 
L 352.90 173.90 
L 359.99 173.90 
L 367.07 173.90 
L 374.16 173.90 
L 381.24 173.90 
L 388.33 173.90 
L 395.41 173.90 
L 402.50 173.90 
" clip-path="url(#p4a0992211f)" style="fill: none; stroke: #2ca02c; stroke-width: 1.5; stroke-linecap: square"/>
   </g>
   <g id="line2d_49">
    <path d="M 55.34 303.64 
L 62.42 303.63 
L 69.51 303.62 
L 76.59 303.61 
L 83.68 303.60 
L 90.76 303.58 
L 97.85 303.56 
L 104.93 303.54 
L 112.02 303.51 
L 119.10 303.48 
L 126.19 303.43 
L 133.27 303.38 
L 140.36 303.32 
L 147.44 303.25 
L 154.53 303.16 
L 161.61 303.05 
L 168.70 302.92 
L 175.78 302.77 
L 182.87 302.58 
L 189.95 302.35 
L 197.04 302.07 
L 204.12 301.74 
L 211.21 301.34 
L 218.29 300.86 
L 225.38 300.27 
L 232.46 299.57 
L 239.55 298.72 
L 246.63 297.69 
L 253.72 296.45 
L 260.80 294.96 
L 267.89 293.16 
L 274.97 290.98 
L 282.06 288.35 
L 289.14 285.18 
L 296.23 281.36 
L 303.31 276.74 
L 310.40 271.17 
L 317.48 264.45 
L 324.57 256.34 
L 331.65 246.55 
L 338.73 234.73 
L 345.82 220.48 
L 352.90 203.27 
L 359.99 182.50 
L 367.07 173.90 
L 374.16 173.90 
L 381.24 173.90 
L 388.33 173.90 
L 395.41 173.90 
L 402.50 173.90 
" clip-path="url(#p4a0992211f)" style="fill: none; stroke: #1f77b4; stroke-width: 1.5; stroke-linecap: square"/>
   </g>
   <g id="line2d_50">
    <path d="M 55.34 270.21 
L 62.42 270.20 
L 69.51 270.19 
L 76.59 270.18 
L 83.68 270.16 
L 90.76 270.14 
L 97.85 270.12 
L 104.93 270.09 
L 112.02 270.06 
L 119.10 270.02 
L 126.19 269.98 
L 133.27 269.92 
L 140.36 269.85 
L 147.44 269.77 
L 154.53 269.67 
L 161.61 269.55 
L 168.70 269.40 
L 175.78 269.22 
L 182.87 269.01 
L 189.95 268.76 
L 197.04 268.45 
L 204.12 268.07 
L 211.21 267.62 
L 218.29 267.08 
L 225.38 266.42 
L 232.46 265.63 
L 239.55 264.68 
L 246.63 263.52 
L 253.72 262.13 
L 260.80 260.45 
L 267.89 258.43 
L 274.97 255.98 
L 282.06 253.03 
L 289.14 249.47 
L 296.23 245.17 
L 303.31 239.98 
L 310.40 233.72 
L 317.48 226.17 
L 324.57 217.05 
L 331.65 206.05 
L 338.73 192.78 
L 345.82 176.75 
L 352.90 173.90 
L 359.99 173.90 
L 367.07 173.90 
L 374.16 173.90 
L 381.24 173.90 
L 388.33 173.90 
L 395.41 173.90 
L 402.50 173.90 
" clip-path="url(#p4a0992211f)" style="fill: none; stroke: #d62728; stroke-width: 1.5; stroke-linecap: square"/>
   </g>
   <g id="line2d_51">
    <path d="M 340.62 317.73 
L 340.62 17.76 
" clip-path="url(#p4a0992211f)" style="fill: none; stroke-dasharray: 5.55,2.4; stroke-dashoffset: 0; stroke: #ff0000; stroke-width: 1.5"/>
   </g>
   <g id="patch_3">
    <path d="M 37.99 317.73 
L 37.99 17.76 
" style="fill: none; stroke: #000000; stroke-width: 0.8; stroke-linejoin: miter; stroke-linecap: square"/>
   </g>
   <g id="patch_4">
    <path d="M 419.04 317.73 
L 419.04 17.76 
" style="fill: none; stroke: #000000; stroke-width: 0.8; stroke-linejoin: miter; stroke-linecap: square"/>
   </g>
   <g id="patch_5">
    <path d="M 37.99 317.73 
L 419.04 317.73 
" style="fill: none; stroke: #000000; stroke-width: 0.8; stroke-linejoin: miter; stroke-linecap: square"/>
   </g>
   <g id="patch_6">
    <path d="M 37.99 17.76 
L 419.04 17.76 
" style="fill: none; stroke: #000000; stroke-width: 0.8; stroke-linejoin: miter; stroke-linecap: square"/>
   </g>
   <g id="text_19">
    <text style="font-size: 12px; font-family: 'DejaVu Sans', 'Liberation Sans', sans-serif; text-anchor: middle" x="228.51" y="11.76" transform="matrix(1.0070 0 0 1.0600 -1.600 -1.138)">LASSO for T1-W</text>
   </g>
  </g>
  <g id="axes_2">
   <g id="patch_7">
    <path d="M 466.12 317.73 
L 848.01 317.73 
L 848.01 17.76 
L 466.12 17.76 
z
" style="fill: #ffffff"/>
   </g>
   <g id="matplotlib.axis_3">
    <g id="xtick_10">
     <g id="line2d_52">
      <g>
       <use xlink:href="#m1504cfccaf" x="483.45" y="317.73" style="stroke: #000000; stroke-width: 0.8"/>
      </g>
     </g>
     <g id="text_20">
      <text style="font-size: 10px; font-family: 'DejaVu Sans', 'Liberation Sans', sans-serif; text-anchor: middle" x="483.45" y="332.33" transform="rotate(-0 483.45 332.33)">−3.0</text>
     </g>
    </g>
    <g id="xtick_11">
     <g id="line2d_53">
      <g>
       <use xlink:href="#m1504cfccaf" x="526.85" y="317.73" style="stroke: #000000; stroke-width: 0.8"/>
      </g>
     </g>
     <g id="text_21">
      <text style="font-size: 10px; font-family: 'DejaVu Sans', 'Liberation Sans', sans-serif; text-anchor: middle" x="526.85" y="332.33" transform="rotate(-0 526.85 332.33)">−2.5</text>
     </g>
    </g>
    <g id="xtick_12">
     <g id="line2d_54">
      <g>
       <use xlink:href="#m1504cfccaf" x="570.26" y="317.73" style="stroke: #000000; stroke-width: 0.8"/>
      </g>
     </g>
     <g id="text_22">
      <text style="font-size: 10px; font-family: 'DejaVu Sans', 'Liberation Sans', sans-serif; text-anchor: middle" x="570.26" y="332.33" transform="rotate(-0 570.26 332.33)">−2.0</text>
     </g>
    </g>
    <g id="xtick_13">
     <g id="line2d_55">
      <g>
       <use xlink:href="#m1504cfccaf" x="613.66" y="317.73" style="stroke: #000000; stroke-width: 0.8"/>
      </g>
     </g>
     <g id="text_23">
      <text style="font-size: 10px; font-family: 'DejaVu Sans', 'Liberation Sans', sans-serif; text-anchor: middle" x="613.66" y="332.33" transform="rotate(-0 613.66 332.33)">−1.5</text>
     </g>
    </g>
    <g id="xtick_14">
     <g id="line2d_56">
      <g>
       <use xlink:href="#m1504cfccaf" x="657.07" y="317.73" style="stroke: #000000; stroke-width: 0.8"/>
      </g>
     </g>
     <g id="text_24">
      <text style="font-size: 10px; font-family: 'DejaVu Sans', 'Liberation Sans', sans-serif; text-anchor: middle" x="657.07" y="332.33" transform="rotate(-0 657.07 332.33)">−1.0</text>
     </g>
    </g>
    <g id="xtick_15">
     <g id="line2d_57">
      <g>
       <use xlink:href="#m1504cfccaf" x="700.47" y="317.73" style="stroke: #000000; stroke-width: 0.8"/>
      </g>
     </g>
     <g id="text_25">
      <text style="font-size: 10px; font-family: 'DejaVu Sans', 'Liberation Sans', sans-serif; text-anchor: middle" x="700.47" y="332.33" transform="rotate(-0 700.47 332.33)">−0.5</text>
     </g>
    </g>
    <g id="xtick_16">
     <g id="line2d_58">
      <g>
       <use xlink:href="#m1504cfccaf" x="743.88" y="317.73" style="stroke: #000000; stroke-width: 0.8"/>
      </g>
     </g>
     <g id="text_26">
      <text style="font-size: 10px; font-family: 'DejaVu Sans', 'Liberation Sans', sans-serif; text-anchor: middle" x="743.88" y="332.33" transform="rotate(-0 743.88 332.33)">0.0</text>
     </g>
    </g>
    <g id="xtick_17">
     <g id="line2d_59">
      <g>
       <use xlink:href="#m1504cfccaf" x="787.28" y="317.73" style="stroke: #000000; stroke-width: 0.8"/>
      </g>
     </g>
     <g id="text_27">
      <text style="font-size: 10px; font-family: 'DejaVu Sans', 'Liberation Sans', sans-serif; text-anchor: middle" x="787.28" y="332.33" transform="rotate(-0 787.28 332.33)">0.5</text>
     </g>
    </g>
    <g id="xtick_18">
     <g id="line2d_60">
      <g>
       <use xlink:href="#m1504cfccaf" x="830.68" y="317.73" style="stroke: #000000; stroke-width: 0.8"/>
      </g>
     </g>
     <g id="text_28">
      <text style="font-size: 10px; font-family: 'DejaVu Sans', 'Liberation Sans', sans-serif; text-anchor: middle" x="830.68" y="332.33" transform="rotate(-0 830.68 332.33)">1.0</text>
     </g>
    </g>
    <g id="text_29">
     <text style="font-size: 10px; font-family: 'DejaVu Sans', 'Liberation Sans', sans-serif; text-anchor: middle" x="657.07" y="346.01" transform="rotate(-0 657.07 346.01)">log(Alpha)</text>
    </g>
   </g>
   <g id="matplotlib.axis_4">
    <g id="ytick_8">
     <g id="line2d_61">
      <g>
       <use xlink:href="#m5d545ce8f8" x="466.12" y="314.97" style="stroke: #000000; stroke-width: 0.8"/>
      </g>
     </g>
     <g id="text_30">
      <text style="font-size: 10px; font-family: 'DejaVu Sans', 'Liberation Sans', sans-serif; text-anchor: end" x="459.12" y="318.77" transform="rotate(-0 459.12 318.77)">−3</text>
     </g>
    </g>
    <g id="ytick_9">
     <g id="line2d_62">
      <g>
       <use xlink:href="#m5d545ce8f8" x="466.12" y="255.27" style="stroke: #000000; stroke-width: 0.8"/>
      </g>
     </g>
     <g id="text_31">
      <text style="font-size: 10px; font-family: 'DejaVu Sans', 'Liberation Sans', sans-serif; text-anchor: end" x="459.12" y="259.07" transform="rotate(-0 459.12 259.07)">−2</text>
     </g>
    </g>
    <g id="ytick_10">
     <g id="line2d_63">
      <g>
       <use xlink:href="#m5d545ce8f8" x="466.12" y="195.57" style="stroke: #000000; stroke-width: 0.8"/>
      </g>
     </g>
     <g id="text_32">
      <text style="font-size: 10px; font-family: 'DejaVu Sans', 'Liberation Sans', sans-serif; text-anchor: end" x="459.12" y="199.37" transform="rotate(-0 459.12 199.37)">−1</text>
     </g>
    </g>
    <g id="ytick_11">
     <g id="line2d_64">
      <g>
       <use xlink:href="#m5d545ce8f8" x="466.12" y="135.87" style="stroke: #000000; stroke-width: 0.8"/>
      </g>
     </g>
     <g id="text_33">
      <text style="font-size: 10px; font-family: 'DejaVu Sans', 'Liberation Sans', sans-serif; text-anchor: end" x="459.12" y="139.67" transform="rotate(-0 459.12 139.67)">0</text>
     </g>
    </g>
    <g id="ytick_12">
     <g id="line2d_65">
      <g>
       <use xlink:href="#m5d545ce8f8" x="466.12" y="76.17" style="stroke: #000000; stroke-width: 0.8"/>
      </g>
     </g>
     <g id="text_34">
      <text style="font-size: 10px; font-family: 'DejaVu Sans', 'Liberation Sans', sans-serif; text-anchor: end" x="459.12" y="79.97" transform="rotate(-0 459.12 79.97)">1</text>
     </g>
    </g>
    <g id="text_35">
     <text style="font-size: 10px; font-family: 'DejaVu Sans', 'Liberation Sans', sans-serif; text-anchor: middle" x="437.63" y="167.74" transform="rotate(-90 437.63 167.74)">Mean ± SD of Coefficients</text>
    </g>
   </g>
   <g id="LineCollection_1">
    <path d="M 483.45 304.10 
L 483.45 31.40 
" clip-path="url(#pb48d941c94)" style="fill: none; stroke: #1f77b4; stroke-width: 1.5"/>
    <path d="M 490.54 304.09 
L 490.54 31.40 
" clip-path="url(#pb48d941c94)" style="fill: none; stroke: #1f77b4; stroke-width: 1.5"/>
    <path d="M 497.62 304.07 
L 497.62 31.41 
" clip-path="url(#pb48d941c94)" style="fill: none; stroke: #1f77b4; stroke-width: 1.5"/>
    <path d="M 504.71 304.05 
L 504.71 31.43 
" clip-path="url(#pb48d941c94)" style="fill: none; stroke: #1f77b4; stroke-width: 1.5"/>
    <path d="M 511.80 304.03 
L 511.80 31.44 
" clip-path="url(#pb48d941c94)" style="fill: none; stroke: #1f77b4; stroke-width: 1.5"/>
    <path d="M 518.88 304.00 
L 518.88 31.46 
" clip-path="url(#pb48d941c94)" style="fill: none; stroke: #1f77b4; stroke-width: 1.5"/>
    <path d="M 525.97 303.96 
L 525.97 31.48 
" clip-path="url(#pb48d941c94)" style="fill: none; stroke: #1f77b4; stroke-width: 1.5"/>
    <path d="M 533.05 303.92 
L 533.05 31.50 
" clip-path="url(#pb48d941c94)" style="fill: none; stroke: #1f77b4; stroke-width: 1.5"/>
    <path d="M 540.14 303.87 
L 540.14 31.54 
" clip-path="url(#pb48d941c94)" style="fill: none; stroke: #1f77b4; stroke-width: 1.5"/>
    <path d="M 547.23 303.81 
L 547.23 31.57 
" clip-path="url(#pb48d941c94)" style="fill: none; stroke: #1f77b4; stroke-width: 1.5"/>
    <path d="M 554.31 303.74 
L 554.31 31.62 
" clip-path="url(#pb48d941c94)" style="fill: none; stroke: #1f77b4; stroke-width: 1.5"/>
    <path d="M 561.40 303.65 
L 561.40 31.67 
" clip-path="url(#pb48d941c94)" style="fill: none; stroke: #1f77b4; stroke-width: 1.5"/>
    <path d="M 568.49 303.54 
L 568.49 31.74 
" clip-path="url(#pb48d941c94)" style="fill: none; stroke: #1f77b4; stroke-width: 1.5"/>
    <path d="M 575.57 303.41 
L 575.57 31.81 
" clip-path="url(#pb48d941c94)" style="fill: none; stroke: #1f77b4; stroke-width: 1.5"/>
    <path d="M 582.66 303.26 
L 582.66 31.91 
" clip-path="url(#pb48d941c94)" style="fill: none; stroke: #1f77b4; stroke-width: 1.5"/>
    <path d="M 589.75 303.07 
L 589.75 32.02 
" clip-path="url(#pb48d941c94)" style="fill: none; stroke: #1f77b4; stroke-width: 1.5"/>
    <path d="M 596.83 302.84 
L 596.83 32.16 
" clip-path="url(#pb48d941c94)" style="fill: none; stroke: #1f77b4; stroke-width: 1.5"/>
    <path d="M 603.92 302.56 
L 603.92 32.33 
" clip-path="url(#pb48d941c94)" style="fill: none; stroke: #1f77b4; stroke-width: 1.5"/>
    <path d="M 611.01 302.23 
L 611.01 32.53 
" clip-path="url(#pb48d941c94)" style="fill: none; stroke: #1f77b4; stroke-width: 1.5"/>
    <path d="M 618.09 301.83 
L 618.09 32.77 
" clip-path="url(#pb48d941c94)" style="fill: none; stroke: #1f77b4; stroke-width: 1.5"/>
    <path d="M 625.18 301.24 
L 625.18 32.77 
" clip-path="url(#pb48d941c94)" style="fill: none; stroke: #1f77b4; stroke-width: 1.5"/>
    <path d="M 632.26 300.16 
L 632.26 33.31 
" clip-path="url(#pb48d941c94)" style="fill: none; stroke: #1f77b4; stroke-width: 1.5"/>
    <path d="M 639.35 299.39 
L 639.35 33.55 
" clip-path="url(#pb48d941c94)" style="fill: none; stroke: #1f77b4; stroke-width: 1.5"/>
    <path d="M 646.44 298.67 
L 646.44 34.02 
" clip-path="url(#pb48d941c94)" style="fill: none; stroke: #1f77b4; stroke-width: 1.5"/>
    <path d="M 653.52 297.95 
L 653.52 34.86 
" clip-path="url(#pb48d941c94)" style="fill: none; stroke: #1f77b4; stroke-width: 1.5"/>
    <path d="M 660.61 296.70 
L 660.61 35.52 
" clip-path="url(#pb48d941c94)" style="fill: none; stroke: #1f77b4; stroke-width: 1.5"/>
    <path d="M 667.70 295.21 
L 667.70 36.35 
" clip-path="url(#pb48d941c94)" style="fill: none; stroke: #1f77b4; stroke-width: 1.5"/>
    <path d="M 674.78 293.89 
L 674.78 37.90 
" clip-path="url(#pb48d941c94)" style="fill: none; stroke: #1f77b4; stroke-width: 1.5"/>
    <path d="M 681.87 291.68 
L 681.87 39.28 
" clip-path="url(#pb48d941c94)" style="fill: none; stroke: #1f77b4; stroke-width: 1.5"/>
    <path d="M 688.96 288.70 
L 688.96 40.77 
" clip-path="url(#pb48d941c94)" style="fill: none; stroke: #1f77b4; stroke-width: 1.5"/>
    <path d="M 696.04 285.83 
L 696.04 42.32 
" clip-path="url(#pb48d941c94)" style="fill: none; stroke: #1f77b4; stroke-width: 1.5"/>
    <path d="M 703.13 281.42 
L 703.13 44.35 
" clip-path="url(#pb48d941c94)" style="fill: none; stroke: #1f77b4; stroke-width: 1.5"/>
    <path d="M 710.22 277.12 
L 710.22 47.28 
" clip-path="url(#pb48d941c94)" style="fill: none; stroke: #1f77b4; stroke-width: 1.5"/>
    <path d="M 717.30 272.10 
L 717.30 50.86 
" clip-path="url(#pb48d941c94)" style="fill: none; stroke: #1f77b4; stroke-width: 1.5"/>
    <path d="M 724.39 264.88 
L 724.39 54.26 
" clip-path="url(#pb48d941c94)" style="fill: none; stroke: #1f77b4; stroke-width: 1.5"/>
    <path d="M 731.47 257.78 
L 731.47 59.57 
" clip-path="url(#pb48d941c94)" style="fill: none; stroke: #1f77b4; stroke-width: 1.5"/>
    <path d="M 738.56 247.57 
L 738.56 64.65 
" clip-path="url(#pb48d941c94)" style="fill: none; stroke: #1f77b4; stroke-width: 1.5"/>
    <path d="M 745.65 236.58 
L 745.65 71.81 
" clip-path="url(#pb48d941c94)" style="fill: none; stroke: #1f77b4; stroke-width: 1.5"/>
    <path d="M 752.73 222.91 
L 752.73 78.98 
" clip-path="url(#pb48d941c94)" style="fill: none; stroke: #1f77b4; stroke-width: 1.5"/>
    <path d="M 759.82 207.09 
L 759.82 88.47 
" clip-path="url(#pb48d941c94)" style="fill: none; stroke: #1f77b4; stroke-width: 1.5"/>
    <path d="M 766.91 188.88 
L 766.91 98.74 
" clip-path="url(#pb48d941c94)" style="fill: none; stroke: #1f77b4; stroke-width: 1.5"/>
    <path d="M 773.99 170.67 
L 773.99 107.75 
" clip-path="url(#pb48d941c94)" style="fill: none; stroke: #1f77b4; stroke-width: 1.5"/>
    <path d="M 781.08 154.97 
L 781.08 117.24 
" clip-path="url(#pb48d941c94)" style="fill: none; stroke: #1f77b4; stroke-width: 1.5"/>
    <path d="M 788.17 142.62 
L 788.17 127.21 
" clip-path="url(#pb48d941c94)" style="fill: none; stroke: #1f77b4; stroke-width: 1.5"/>
    <path d="M 795.25 135.87 
L 795.25 135.87 
" clip-path="url(#pb48d941c94)" style="fill: none; stroke: #1f77b4; stroke-width: 1.5"/>
    <path d="M 802.34 135.87 
L 802.34 135.87 
" clip-path="url(#pb48d941c94)" style="fill: none; stroke: #1f77b4; stroke-width: 1.5"/>
    <path d="M 809.42 135.87 
L 809.42 135.87 
" clip-path="url(#pb48d941c94)" style="fill: none; stroke: #1f77b4; stroke-width: 1.5"/>
    <path d="M 816.51 135.87 
L 816.51 135.87 
" clip-path="url(#pb48d941c94)" style="fill: none; stroke: #1f77b4; stroke-width: 1.5"/>
    <path d="M 823.60 135.87 
L 823.60 135.87 
" clip-path="url(#pb48d941c94)" style="fill: none; stroke: #1f77b4; stroke-width: 1.5"/>
    <path d="M 830.68 135.87 
L 830.68 135.87 
" clip-path="url(#pb48d941c94)" style="fill: none; stroke: #1f77b4; stroke-width: 1.5"/>
   </g>
   <g id="line2d_66">
    <defs>
     <path id="mc7c5441340" d="M 5 0 
L -5 -0 
" style="stroke: #1f77b4"/>
    </defs>
    <g clip-path="url(#pb48d941c94)">
     <use xlink:href="#mc7c5441340" x="483.45" y="304.10" style="fill: #1f77b4; stroke: #1f77b4"/>
     <use xlink:href="#mc7c5441340" x="490.54" y="304.09" style="fill: #1f77b4; stroke: #1f77b4"/>
     <use xlink:href="#mc7c5441340" x="497.62" y="304.07" style="fill: #1f77b4; stroke: #1f77b4"/>
     <use xlink:href="#mc7c5441340" x="504.71" y="304.05" style="fill: #1f77b4; stroke: #1f77b4"/>
     <use xlink:href="#mc7c5441340" x="511.80" y="304.03" style="fill: #1f77b4; stroke: #1f77b4"/>
     <use xlink:href="#mc7c5441340" x="518.88" y="304.00" style="fill: #1f77b4; stroke: #1f77b4"/>
     <use xlink:href="#mc7c5441340" x="525.97" y="303.96" style="fill: #1f77b4; stroke: #1f77b4"/>
     <use xlink:href="#mc7c5441340" x="533.05" y="303.92" style="fill: #1f77b4; stroke: #1f77b4"/>
     <use xlink:href="#mc7c5441340" x="540.14" y="303.87" style="fill: #1f77b4; stroke: #1f77b4"/>
     <use xlink:href="#mc7c5441340" x="547.23" y="303.81" style="fill: #1f77b4; stroke: #1f77b4"/>
     <use xlink:href="#mc7c5441340" x="554.31" y="303.74" style="fill: #1f77b4; stroke: #1f77b4"/>
     <use xlink:href="#mc7c5441340" x="561.40" y="303.65" style="fill: #1f77b4; stroke: #1f77b4"/>
     <use xlink:href="#mc7c5441340" x="568.49" y="303.54" style="fill: #1f77b4; stroke: #1f77b4"/>
     <use xlink:href="#mc7c5441340" x="575.57" y="303.41" style="fill: #1f77b4; stroke: #1f77b4"/>
     <use xlink:href="#mc7c5441340" x="582.66" y="303.26" style="fill: #1f77b4; stroke: #1f77b4"/>
     <use xlink:href="#mc7c5441340" x="589.75" y="303.07" style="fill: #1f77b4; stroke: #1f77b4"/>
     <use xlink:href="#mc7c5441340" x="596.83" y="302.84" style="fill: #1f77b4; stroke: #1f77b4"/>
     <use xlink:href="#mc7c5441340" x="603.92" y="302.56" style="fill: #1f77b4; stroke: #1f77b4"/>
     <use xlink:href="#mc7c5441340" x="611.01" y="302.23" style="fill: #1f77b4; stroke: #1f77b4"/>
     <use xlink:href="#mc7c5441340" x="618.09" y="301.83" style="fill: #1f77b4; stroke: #1f77b4"/>
     <use xlink:href="#mc7c5441340" x="625.18" y="301.24" style="fill: #1f77b4; stroke: #1f77b4"/>
     <use xlink:href="#mc7c5441340" x="632.26" y="300.16" style="fill: #1f77b4; stroke: #1f77b4"/>
     <use xlink:href="#mc7c5441340" x="639.35" y="299.39" style="fill: #1f77b4; stroke: #1f77b4"/>
     <use xlink:href="#mc7c5441340" x="646.44" y="298.67" style="fill: #1f77b4; stroke: #1f77b4"/>
     <use xlink:href="#mc7c5441340" x="653.52" y="297.95" style="fill: #1f77b4; stroke: #1f77b4"/>
     <use xlink:href="#mc7c5441340" x="660.61" y="296.70" style="fill: #1f77b4; stroke: #1f77b4"/>
     <use xlink:href="#mc7c5441340" x="667.70" y="295.21" style="fill: #1f77b4; stroke: #1f77b4"/>
     <use xlink:href="#mc7c5441340" x="674.78" y="293.89" style="fill: #1f77b4; stroke: #1f77b4"/>
     <use xlink:href="#mc7c5441340" x="681.87" y="291.68" style="fill: #1f77b4; stroke: #1f77b4"/>
     <use xlink:href="#mc7c5441340" x="688.96" y="288.70" style="fill: #1f77b4; stroke: #1f77b4"/>
     <use xlink:href="#mc7c5441340" x="696.04" y="285.83" style="fill: #1f77b4; stroke: #1f77b4"/>
     <use xlink:href="#mc7c5441340" x="703.13" y="281.42" style="fill: #1f77b4; stroke: #1f77b4"/>
     <use xlink:href="#mc7c5441340" x="710.22" y="277.12" style="fill: #1f77b4; stroke: #1f77b4"/>
     <use xlink:href="#mc7c5441340" x="717.30" y="272.10" style="fill: #1f77b4; stroke: #1f77b4"/>
     <use xlink:href="#mc7c5441340" x="724.39" y="264.88" style="fill: #1f77b4; stroke: #1f77b4"/>
     <use xlink:href="#mc7c5441340" x="731.47" y="257.78" style="fill: #1f77b4; stroke: #1f77b4"/>
     <use xlink:href="#mc7c5441340" x="738.56" y="247.57" style="fill: #1f77b4; stroke: #1f77b4"/>
     <use xlink:href="#mc7c5441340" x="745.65" y="236.58" style="fill: #1f77b4; stroke: #1f77b4"/>
     <use xlink:href="#mc7c5441340" x="752.73" y="222.91" style="fill: #1f77b4; stroke: #1f77b4"/>
     <use xlink:href="#mc7c5441340" x="759.82" y="207.09" style="fill: #1f77b4; stroke: #1f77b4"/>
     <use xlink:href="#mc7c5441340" x="766.91" y="188.88" style="fill: #1f77b4; stroke: #1f77b4"/>
     <use xlink:href="#mc7c5441340" x="773.99" y="170.67" style="fill: #1f77b4; stroke: #1f77b4"/>
     <use xlink:href="#mc7c5441340" x="781.08" y="154.97" style="fill: #1f77b4; stroke: #1f77b4"/>
     <use xlink:href="#mc7c5441340" x="788.17" y="142.62" style="fill: #1f77b4; stroke: #1f77b4"/>
     <use xlink:href="#mc7c5441340" x="795.25" y="135.87" style="fill: #1f77b4; stroke: #1f77b4"/>
     <use xlink:href="#mc7c5441340" x="802.34" y="135.87" style="fill: #1f77b4; stroke: #1f77b4"/>
     <use xlink:href="#mc7c5441340" x="809.42" y="135.87" style="fill: #1f77b4; stroke: #1f77b4"/>
     <use xlink:href="#mc7c5441340" x="816.51" y="135.87" style="fill: #1f77b4; stroke: #1f77b4"/>
     <use xlink:href="#mc7c5441340" x="823.60" y="135.87" style="fill: #1f77b4; stroke: #1f77b4"/>
     <use xlink:href="#mc7c5441340" x="830.68" y="135.87" style="fill: #1f77b4; stroke: #1f77b4"/>
    </g>
   </g>
   <g id="line2d_67">
    <g clip-path="url(#pb48d941c94)">
     <use xlink:href="#mc7c5441340" x="483.45" y="31.40" style="fill: #1f77b4; stroke: #1f77b4"/>
     <use xlink:href="#mc7c5441340" x="490.54" y="31.40" style="fill: #1f77b4; stroke: #1f77b4"/>
     <use xlink:href="#mc7c5441340" x="497.62" y="31.41" style="fill: #1f77b4; stroke: #1f77b4"/>
     <use xlink:href="#mc7c5441340" x="504.71" y="31.43" style="fill: #1f77b4; stroke: #1f77b4"/>
     <use xlink:href="#mc7c5441340" x="511.80" y="31.44" style="fill: #1f77b4; stroke: #1f77b4"/>
     <use xlink:href="#mc7c5441340" x="518.88" y="31.46" style="fill: #1f77b4; stroke: #1f77b4"/>
     <use xlink:href="#mc7c5441340" x="525.97" y="31.48" style="fill: #1f77b4; stroke: #1f77b4"/>
     <use xlink:href="#mc7c5441340" x="533.05" y="31.50" style="fill: #1f77b4; stroke: #1f77b4"/>
     <use xlink:href="#mc7c5441340" x="540.14" y="31.54" style="fill: #1f77b4; stroke: #1f77b4"/>
     <use xlink:href="#mc7c5441340" x="547.23" y="31.57" style="fill: #1f77b4; stroke: #1f77b4"/>
     <use xlink:href="#mc7c5441340" x="554.31" y="31.62" style="fill: #1f77b4; stroke: #1f77b4"/>
     <use xlink:href="#mc7c5441340" x="561.40" y="31.67" style="fill: #1f77b4; stroke: #1f77b4"/>
     <use xlink:href="#mc7c5441340" x="568.49" y="31.74" style="fill: #1f77b4; stroke: #1f77b4"/>
     <use xlink:href="#mc7c5441340" x="575.57" y="31.81" style="fill: #1f77b4; stroke: #1f77b4"/>
     <use xlink:href="#mc7c5441340" x="582.66" y="31.91" style="fill: #1f77b4; stroke: #1f77b4"/>
     <use xlink:href="#mc7c5441340" x="589.75" y="32.02" style="fill: #1f77b4; stroke: #1f77b4"/>
     <use xlink:href="#mc7c5441340" x="596.83" y="32.16" style="fill: #1f77b4; stroke: #1f77b4"/>
     <use xlink:href="#mc7c5441340" x="603.92" y="32.33" style="fill: #1f77b4; stroke: #1f77b4"/>
     <use xlink:href="#mc7c5441340" x="611.01" y="32.53" style="fill: #1f77b4; stroke: #1f77b4"/>
     <use xlink:href="#mc7c5441340" x="618.09" y="32.77" style="fill: #1f77b4; stroke: #1f77b4"/>
     <use xlink:href="#mc7c5441340" x="625.18" y="32.77" style="fill: #1f77b4; stroke: #1f77b4"/>
     <use xlink:href="#mc7c5441340" x="632.26" y="33.31" style="fill: #1f77b4; stroke: #1f77b4"/>
     <use xlink:href="#mc7c5441340" x="639.35" y="33.55" style="fill: #1f77b4; stroke: #1f77b4"/>
     <use xlink:href="#mc7c5441340" x="646.44" y="34.02" style="fill: #1f77b4; stroke: #1f77b4"/>
     <use xlink:href="#mc7c5441340" x="653.52" y="34.86" style="fill: #1f77b4; stroke: #1f77b4"/>
     <use xlink:href="#mc7c5441340" x="660.61" y="35.52" style="fill: #1f77b4; stroke: #1f77b4"/>
     <use xlink:href="#mc7c5441340" x="667.70" y="36.35" style="fill: #1f77b4; stroke: #1f77b4"/>
     <use xlink:href="#mc7c5441340" x="674.78" y="37.90" style="fill: #1f77b4; stroke: #1f77b4"/>
     <use xlink:href="#mc7c5441340" x="681.87" y="39.28" style="fill: #1f77b4; stroke: #1f77b4"/>
     <use xlink:href="#mc7c5441340" x="688.96" y="40.77" style="fill: #1f77b4; stroke: #1f77b4"/>
     <use xlink:href="#mc7c5441340" x="696.04" y="42.32" style="fill: #1f77b4; stroke: #1f77b4"/>
     <use xlink:href="#mc7c5441340" x="703.13" y="44.35" style="fill: #1f77b4; stroke: #1f77b4"/>
     <use xlink:href="#mc7c5441340" x="710.22" y="47.28" style="fill: #1f77b4; stroke: #1f77b4"/>
     <use xlink:href="#mc7c5441340" x="717.30" y="50.86" style="fill: #1f77b4; stroke: #1f77b4"/>
     <use xlink:href="#mc7c5441340" x="724.39" y="54.26" style="fill: #1f77b4; stroke: #1f77b4"/>
     <use xlink:href="#mc7c5441340" x="731.47" y="59.57" style="fill: #1f77b4; stroke: #1f77b4"/>
     <use xlink:href="#mc7c5441340" x="738.56" y="64.65" style="fill: #1f77b4; stroke: #1f77b4"/>
     <use xlink:href="#mc7c5441340" x="745.65" y="71.81" style="fill: #1f77b4; stroke: #1f77b4"/>
     <use xlink:href="#mc7c5441340" x="752.73" y="78.98" style="fill: #1f77b4; stroke: #1f77b4"/>
     <use xlink:href="#mc7c5441340" x="759.82" y="88.47" style="fill: #1f77b4; stroke: #1f77b4"/>
     <use xlink:href="#mc7c5441340" x="766.91" y="98.74" style="fill: #1f77b4; stroke: #1f77b4"/>
     <use xlink:href="#mc7c5441340" x="773.99" y="107.75" style="fill: #1f77b4; stroke: #1f77b4"/>
     <use xlink:href="#mc7c5441340" x="781.08" y="117.24" style="fill: #1f77b4; stroke: #1f77b4"/>
     <use xlink:href="#mc7c5441340" x="788.17" y="127.21" style="fill: #1f77b4; stroke: #1f77b4"/>
     <use xlink:href="#mc7c5441340" x="795.25" y="135.87" style="fill: #1f77b4; stroke: #1f77b4"/>
     <use xlink:href="#mc7c5441340" x="802.34" y="135.87" style="fill: #1f77b4; stroke: #1f77b4"/>
     <use xlink:href="#mc7c5441340" x="809.42" y="135.87" style="fill: #1f77b4; stroke: #1f77b4"/>
     <use xlink:href="#mc7c5441340" x="816.51" y="135.87" style="fill: #1f77b4; stroke: #1f77b4"/>
     <use xlink:href="#mc7c5441340" x="823.60" y="135.87" style="fill: #1f77b4; stroke: #1f77b4"/>
     <use xlink:href="#mc7c5441340" x="830.68" y="135.87" style="fill: #1f77b4; stroke: #1f77b4"/>
    </g>
   </g>
   <g id="line2d_68">
    <path d="M 769.48 317.73 
L 769.48 17.76 
" clip-path="url(#pb48d941c94)" style="fill: none; stroke-dasharray: 5.55,2.4; stroke-dashoffset: 0; stroke: #b00000; stroke-width: 1.5"/>
   </g>
   <g id="line2d_69">
    <path d="M 483.45 167.75 
L 490.54 167.75 
L 497.62 167.74 
L 504.71 167.74 
L 511.80 167.73 
L 518.88 167.73 
L 525.97 167.72 
L 533.05 167.71 
L 540.14 167.70 
L 547.23 167.69 
L 554.31 167.68 
L 561.40 167.66 
L 568.49 167.64 
L 575.57 167.61 
L 582.66 167.58 
L 589.75 167.54 
L 596.83 167.50 
L 603.92 167.45 
L 611.01 167.38 
L 618.09 167.30 
L 625.18 167.00 
L 632.26 166.73 
L 639.35 166.47 
L 646.44 166.35 
L 653.52 166.41 
L 660.61 166.11 
L 667.70 165.78 
L 674.78 165.90 
L 681.87 165.48 
L 688.96 164.73 
L 696.04 164.08 
L 703.13 162.88 
L 710.22 162.20 
L 717.30 161.48 
L 724.39 159.57 
L 731.47 158.67 
L 738.56 156.11 
L 745.65 154.20 
L 752.73 150.94 
L 759.82 147.78 
L 766.91 143.81 
L 773.99 139.21 
L 781.08 136.11 
L 788.17 134.91 
L 795.25 135.87 
L 802.34 135.87 
L 809.42 135.87 
L 816.51 135.87 
L 823.60 135.87 
L 830.68 135.87 
" clip-path="url(#pb48d941c94)" style="fill: none; stroke: #1f77b4; stroke-width: 1.5; stroke-linecap: square"/>
    <defs>
     <path id="mf14c53ed57" d="M 0 3 
C 0.79 3 1.55 2.68 2.12 2.12 
C 2.68 1.55 3 0.79 3 0 
C 3 -0.79 2.68 -1.55 2.12 -2.12 
C 1.55 -2.68 0.79 -3 0 -3 
C -0.79 -3 -1.55 -2.68 -2.12 -2.12 
C -2.68 -1.55 -3 -0.79 -3 0 
C -3 0.79 -2.68 1.55 -2.12 2.12 
C -1.55 2.68 -0.79 3 0 3 
z
" style="stroke: #1f77b4"/>
    </defs>
    <g clip-path="url(#pb48d941c94)">
     <use xlink:href="#mf14c53ed57" x="483.45" y="167.75" style="fill: #1f77b4; stroke: #1f77b4"/>
     <use xlink:href="#mf14c53ed57" x="490.54" y="167.75" style="fill: #1f77b4; stroke: #1f77b4"/>
     <use xlink:href="#mf14c53ed57" x="497.62" y="167.74" style="fill: #1f77b4; stroke: #1f77b4"/>
     <use xlink:href="#mf14c53ed57" x="504.71" y="167.74" style="fill: #1f77b4; stroke: #1f77b4"/>
     <use xlink:href="#mf14c53ed57" x="511.80" y="167.73" style="fill: #1f77b4; stroke: #1f77b4"/>
     <use xlink:href="#mf14c53ed57" x="518.88" y="167.73" style="fill: #1f77b4; stroke: #1f77b4"/>
     <use xlink:href="#mf14c53ed57" x="525.97" y="167.72" style="fill: #1f77b4; stroke: #1f77b4"/>
     <use xlink:href="#mf14c53ed57" x="533.05" y="167.71" style="fill: #1f77b4; stroke: #1f77b4"/>
     <use xlink:href="#mf14c53ed57" x="540.14" y="167.70" style="fill: #1f77b4; stroke: #1f77b4"/>
     <use xlink:href="#mf14c53ed57" x="547.23" y="167.69" style="fill: #1f77b4; stroke: #1f77b4"/>
     <use xlink:href="#mf14c53ed57" x="554.31" y="167.68" style="fill: #1f77b4; stroke: #1f77b4"/>
     <use xlink:href="#mf14c53ed57" x="561.40" y="167.66" style="fill: #1f77b4; stroke: #1f77b4"/>
     <use xlink:href="#mf14c53ed57" x="568.49" y="167.64" style="fill: #1f77b4; stroke: #1f77b4"/>
     <use xlink:href="#mf14c53ed57" x="575.57" y="167.61" style="fill: #1f77b4; stroke: #1f77b4"/>
     <use xlink:href="#mf14c53ed57" x="582.66" y="167.58" style="fill: #1f77b4; stroke: #1f77b4"/>
     <use xlink:href="#mf14c53ed57" x="589.75" y="167.54" style="fill: #1f77b4; stroke: #1f77b4"/>
     <use xlink:href="#mf14c53ed57" x="596.83" y="167.50" style="fill: #1f77b4; stroke: #1f77b4"/>
     <use xlink:href="#mf14c53ed57" x="603.92" y="167.45" style="fill: #1f77b4; stroke: #1f77b4"/>
     <use xlink:href="#mf14c53ed57" x="611.01" y="167.38" style="fill: #1f77b4; stroke: #1f77b4"/>
     <use xlink:href="#mf14c53ed57" x="618.09" y="167.30" style="fill: #1f77b4; stroke: #1f77b4"/>
     <use xlink:href="#mf14c53ed57" x="625.18" y="167.00" style="fill: #1f77b4; stroke: #1f77b4"/>
     <use xlink:href="#mf14c53ed57" x="632.26" y="166.73" style="fill: #1f77b4; stroke: #1f77b4"/>
     <use xlink:href="#mf14c53ed57" x="639.35" y="166.47" style="fill: #1f77b4; stroke: #1f77b4"/>
     <use xlink:href="#mf14c53ed57" x="646.44" y="166.35" style="fill: #1f77b4; stroke: #1f77b4"/>
     <use xlink:href="#mf14c53ed57" x="653.52" y="166.41" style="fill: #1f77b4; stroke: #1f77b4"/>
     <use xlink:href="#mf14c53ed57" x="660.61" y="166.11" style="fill: #1f77b4; stroke: #1f77b4"/>
     <use xlink:href="#mf14c53ed57" x="667.70" y="165.78" style="fill: #1f77b4; stroke: #1f77b4"/>
     <use xlink:href="#mf14c53ed57" x="674.78" y="165.90" style="fill: #1f77b4; stroke: #1f77b4"/>
     <use xlink:href="#mf14c53ed57" x="681.87" y="165.48" style="fill: #1f77b4; stroke: #1f77b4"/>
     <use xlink:href="#mf14c53ed57" x="688.96" y="164.73" style="fill: #1f77b4; stroke: #1f77b4"/>
     <use xlink:href="#mf14c53ed57" x="696.04" y="164.08" style="fill: #1f77b4; stroke: #1f77b4"/>
     <use xlink:href="#mf14c53ed57" x="703.13" y="162.88" style="fill: #1f77b4; stroke: #1f77b4"/>
     <use xlink:href="#mf14c53ed57" x="710.22" y="162.20" style="fill: #1f77b4; stroke: #1f77b4"/>
     <use xlink:href="#mf14c53ed57" x="717.30" y="161.48" style="fill: #1f77b4; stroke: #1f77b4"/>
     <use xlink:href="#mf14c53ed57" x="724.39" y="159.57" style="fill: #1f77b4; stroke: #1f77b4"/>
     <use xlink:href="#mf14c53ed57" x="731.47" y="158.67" style="fill: #1f77b4; stroke: #1f77b4"/>
     <use xlink:href="#mf14c53ed57" x="738.56" y="156.11" style="fill: #1f77b4; stroke: #1f77b4"/>
     <use xlink:href="#mf14c53ed57" x="745.65" y="154.20" style="fill: #1f77b4; stroke: #1f77b4"/>
     <use xlink:href="#mf14c53ed57" x="752.73" y="150.94" style="fill: #1f77b4; stroke: #1f77b4"/>
     <use xlink:href="#mf14c53ed57" x="759.82" y="147.78" style="fill: #1f77b4; stroke: #1f77b4"/>
     <use xlink:href="#mf14c53ed57" x="766.91" y="143.81" style="fill: #1f77b4; stroke: #1f77b4"/>
     <use xlink:href="#mf14c53ed57" x="773.99" y="139.21" style="fill: #1f77b4; stroke: #1f77b4"/>
     <use xlink:href="#mf14c53ed57" x="781.08" y="136.11" style="fill: #1f77b4; stroke: #1f77b4"/>
     <use xlink:href="#mf14c53ed57" x="788.17" y="134.91" style="fill: #1f77b4; stroke: #1f77b4"/>
     <use xlink:href="#mf14c53ed57" x="795.25" y="135.87" style="fill: #1f77b4; stroke: #1f77b4"/>
     <use xlink:href="#mf14c53ed57" x="802.34" y="135.87" style="fill: #1f77b4; stroke: #1f77b4"/>
     <use xlink:href="#mf14c53ed57" x="809.42" y="135.87" style="fill: #1f77b4; stroke: #1f77b4"/>
     <use xlink:href="#mf14c53ed57" x="816.51" y="135.87" style="fill: #1f77b4; stroke: #1f77b4"/>
     <use xlink:href="#mf14c53ed57" x="823.60" y="135.87" style="fill: #1f77b4; stroke: #1f77b4"/>
     <use xlink:href="#mf14c53ed57" x="830.68" y="135.87" style="fill: #1f77b4; stroke: #1f77b4"/>
    </g>
   </g>
   <g id="patch_8">
    <path d="M 466.12 317.73 
L 466.12 17.76 
" style="fill: none; stroke: #000000; stroke-width: 0.8; stroke-linejoin: miter; stroke-linecap: square"/>
   </g>
   <g id="patch_9">
    <path d="M 848.01 317.73 
L 848.01 17.76 
" style="fill: none; stroke: #000000; stroke-width: 0.8; stroke-linejoin: miter; stroke-linecap: square"/>
   </g>
   <g id="patch_10">
    <path d="M 466.12 317.73 
L 848.01 317.73 
" style="fill: none; stroke: #000000; stroke-width: 0.8; stroke-linejoin: miter; stroke-linecap: square"/>
   </g>
   <g id="patch_11">
    <path d="M 466.12 17.76 
L 848.01 17.76 
" style="fill: none; stroke: #000000; stroke-width: 0.8; stroke-linejoin: miter; stroke-linecap: square"/>
   </g>
   <g id="text_36">
    <text style="font-size: 12px; font-family: 'DejaVu Sans', 'Liberation Sans', sans-serif; text-anchor: middle" x="657.07" y="11.76" transform="matrix(1.0070 0 0 1.0600 -4.599 -1.138)">Coefficient Stability for T1-W</text>
   </g>
  </g>
  <g id="axes_3">
   <g id="patch_12">
    <path d="M 37.99 675.74 
L 419.04 675.74 
L 419.04 375.67 
L 37.99 375.67 
z
" style="fill: #ffffff"/>
   </g>
   <g id="matplotlib.axis_5">
    <g id="xtick_19">
     <g id="line2d_70">
      <g>
       <use xlink:href="#m1504cfccaf" x="55.34" y="675.74" style="stroke: #000000; stroke-width: 0.8"/>
      </g>
     </g>
     <g id="text_37">
      <text style="font-size: 10px; font-family: 'DejaVu Sans', 'Liberation Sans', sans-serif; text-anchor: middle" x="55.34" y="690.34" transform="rotate(-0 55.34 690.34)">−3.0</text>
     </g>
    </g>
    <g id="xtick_20">
     <g id="line2d_71">
      <g>
       <use xlink:href="#m1504cfccaf" x="98.73" y="675.74" style="stroke: #000000; stroke-width: 0.8"/>
      </g>
     </g>
     <g id="text_38">
      <text style="font-size: 10px; font-family: 'DejaVu Sans', 'Liberation Sans', sans-serif; text-anchor: middle" x="98.73" y="690.34" transform="rotate(-0 98.73 690.34)">−2.5</text>
     </g>
    </g>
    <g id="xtick_21">
     <g id="line2d_72">
      <g>
       <use xlink:href="#m1504cfccaf" x="142.13" y="675.74" style="stroke: #000000; stroke-width: 0.8"/>
      </g>
     </g>
     <g id="text_39">
      <text style="font-size: 10px; font-family: 'DejaVu Sans', 'Liberation Sans', sans-serif; text-anchor: middle" x="142.13" y="690.34" transform="rotate(-0 142.13 690.34)">−2.0</text>
     </g>
    </g>
    <g id="xtick_22">
     <g id="line2d_73">
      <g>
       <use xlink:href="#m1504cfccaf" x="185.52" y="675.74" style="stroke: #000000; stroke-width: 0.8"/>
      </g>
     </g>
     <g id="text_40">
      <text style="font-size: 10px; font-family: 'DejaVu Sans', 'Liberation Sans', sans-serif; text-anchor: middle" x="185.52" y="690.34" transform="rotate(-0 185.52 690.34)">−1.5</text>
     </g>
    </g>
    <g id="xtick_23">
     <g id="line2d_74">
      <g>
       <use xlink:href="#m1504cfccaf" x="228.92" y="675.74" style="stroke: #000000; stroke-width: 0.8"/>
      </g>
     </g>
     <g id="text_41">
      <text style="font-size: 10px; font-family: 'DejaVu Sans', 'Liberation Sans', sans-serif; text-anchor: middle" x="228.92" y="690.34" transform="rotate(-0 228.92 690.34)">−1.0</text>
     </g>
    </g>
    <g id="xtick_24">
     <g id="line2d_75">
      <g>
       <use xlink:href="#m1504cfccaf" x="272.31" y="675.74" style="stroke: #000000; stroke-width: 0.8"/>
      </g>
     </g>
     <g id="text_42">
      <text style="font-size: 10px; font-family: 'DejaVu Sans', 'Liberation Sans', sans-serif; text-anchor: middle" x="272.31" y="690.34" transform="rotate(-0 272.31 690.34)">−0.5</text>
     </g>
    </g>
    <g id="xtick_25">
     <g id="line2d_76">
      <g>
       <use xlink:href="#m1504cfccaf" x="315.71" y="675.74" style="stroke: #000000; stroke-width: 0.8"/>
      </g>
     </g>
     <g id="text_43">
      <text style="font-size: 10px; font-family: 'DejaVu Sans', 'Liberation Sans', sans-serif; text-anchor: middle" x="315.71" y="690.34" transform="rotate(-0 315.71 690.34)">0.0</text>
     </g>
    </g>
    <g id="xtick_26">
     <g id="line2d_77">
      <g>
       <use xlink:href="#m1504cfccaf" x="359.10" y="675.74" style="stroke: #000000; stroke-width: 0.8"/>
      </g>
     </g>
     <g id="text_44">
      <text style="font-size: 10px; font-family: 'DejaVu Sans', 'Liberation Sans', sans-serif; text-anchor: middle" x="359.10" y="690.34" transform="rotate(-0 359.10 690.34)">0.5</text>
     </g>
    </g>
    <g id="xtick_27">
     <g id="line2d_78">
      <g>
       <use xlink:href="#m1504cfccaf" x="402.50" y="675.74" style="stroke: #000000; stroke-width: 0.8"/>
      </g>
     </g>
     <g id="text_45">
      <text style="font-size: 10px; font-family: 'DejaVu Sans', 'Liberation Sans', sans-serif; text-anchor: middle" x="402.50" y="690.34" transform="rotate(-0 402.50 690.34)">1.0</text>
     </g>
    </g>
    <g id="text_46">
     <text style="font-size: 10px; font-family: 'DejaVu Sans', 'Liberation Sans', sans-serif; text-anchor: middle" x="228.51" y="704.02" transform="rotate(-0 228.51 704.02)">log(Alpha)</text>
    </g>
   </g>
   <g id="matplotlib.axis_6">
    <g id="ytick_13">
     <g id="line2d_79">
      <g>
       <use xlink:href="#m5d545ce8f8" x="37.99" y="649.10" style="stroke: #000000; stroke-width: 0.8"/>
      </g>
     </g>
     <g id="text_47">
      <text style="font-size: 10px; font-family: 'DejaVu Sans', 'Liberation Sans', sans-serif; text-anchor: end" x="30.99" y="652.90" transform="rotate(-0 30.99 652.90)">−3</text>
     </g>
    </g>
    <g id="ytick_14">
     <g id="line2d_80">
      <g>
       <use xlink:href="#m5d545ce8f8" x="37.99" y="612.74" style="stroke: #000000; stroke-width: 0.8"/>
      </g>
     </g>
     <g id="text_48">
      <text style="font-size: 10px; font-family: 'DejaVu Sans', 'Liberation Sans', sans-serif; text-anchor: end" x="30.99" y="616.54" transform="rotate(-0 30.99 616.54)">−2</text>
     </g>
    </g>
    <g id="ytick_15">
     <g id="line2d_81">
      <g>
       <use xlink:href="#m5d545ce8f8" x="37.99" y="576.38" style="stroke: #000000; stroke-width: 0.8"/>
      </g>
     </g>
     <g id="text_49">
      <text style="font-size: 10px; font-family: 'DejaVu Sans', 'Liberation Sans', sans-serif; text-anchor: end" x="30.99" y="580.18" transform="rotate(-0 30.99 580.18)">−1</text>
     </g>
    </g>
    <g id="ytick_16">
     <g id="line2d_82">
      <g>
       <use xlink:href="#m5d545ce8f8" x="37.99" y="540.02" style="stroke: #000000; stroke-width: 0.8"/>
      </g>
     </g>
     <g id="text_50">
      <text style="font-size: 10px; font-family: 'DejaVu Sans', 'Liberation Sans', sans-serif; text-anchor: end" x="30.99" y="543.82" transform="rotate(-0 30.99 543.82)">0</text>
     </g>
    </g>
    <g id="ytick_17">
     <g id="line2d_83">
      <g>
       <use xlink:href="#m5d545ce8f8" x="37.99" y="503.66" style="stroke: #000000; stroke-width: 0.8"/>
      </g>
     </g>
     <g id="text_51">
      <text style="font-size: 10px; font-family: 'DejaVu Sans', 'Liberation Sans', sans-serif; text-anchor: end" x="30.99" y="507.46" transform="rotate(-0 30.99 507.46)">1</text>
     </g>
    </g>
    <g id="ytick_18">
     <g id="line2d_84">
      <g>
       <use xlink:href="#m5d545ce8f8" x="37.99" y="467.30" style="stroke: #000000; stroke-width: 0.8"/>
      </g>
     </g>
     <g id="text_52">
      <text style="font-size: 10px; font-family: 'DejaVu Sans', 'Liberation Sans', sans-serif; text-anchor: end" x="30.99" y="471.10" transform="rotate(-0 30.99 471.10)">2</text>
     </g>
    </g>
    <g id="ytick_19">
     <g id="line2d_85">
      <g>
       <use xlink:href="#m5d545ce8f8" x="37.99" y="430.94" style="stroke: #000000; stroke-width: 0.8"/>
      </g>
     </g>
     <g id="text_53">
      <text style="font-size: 10px; font-family: 'DejaVu Sans', 'Liberation Sans', sans-serif; text-anchor: end" x="30.99" y="434.74" transform="rotate(-0 30.99 434.74)">3</text>
     </g>
    </g>
    <g id="ytick_20">
     <g id="line2d_86">
      <g>
       <use xlink:href="#m5d545ce8f8" x="37.99" y="394.58" style="stroke: #000000; stroke-width: 0.8"/>
      </g>
     </g>
     <g id="text_54">
      <text style="font-size: 10px; font-family: 'DejaVu Sans', 'Liberation Sans', sans-serif; text-anchor: end" x="30.99" y="398.38" transform="rotate(-0 30.99 398.38)">4</text>
     </g>
    </g>
    <g id="text_55">
     <text style="font-size: 10px; font-family: 'DejaVu Sans', 'Liberation Sans', sans-serif; text-anchor: middle" x="8.62" y="525.70" transform="rotate(-90 8.62 525.70)">LASSO Coefficients</text>
    </g>
   </g>
   <g id="line2d_87">
    <path d="M 55.34 389.45 
L 62.42 389.48 
L 69.51 389.52 
L 76.59 389.56 
L 83.68 389.61 
L 90.76 389.67 
L 97.85 389.74 
L 104.93 389.82 
L 112.02 389.91 
L 119.10 390.02 
L 126.19 390.15 
L 133.27 390.29 
L 140.36 390.47 
L 147.44 390.67 
L 154.53 390.90 
L 161.61 391.18 
L 168.70 391.50 
L 175.78 391.88 
L 182.87 392.32 
L 189.95 392.84 
L 197.04 393.44 
L 204.12 394.14 
L 211.21 394.97 
L 218.29 395.93 
L 225.38 397.05 
L 232.46 398.37 
L 239.55 399.90 
L 246.63 401.70 
L 253.72 403.79 
L 260.80 406.25 
L 267.89 409.11 
L 274.97 412.46 
L 282.06 416.38 
L 289.14 420.96 
L 296.23 426.31 
L 303.31 432.56 
L 310.40 439.87 
L 317.48 448.41 
L 324.57 458.40 
L 331.65 470.07 
L 338.73 483.71 
L 345.82 499.66 
L 352.90 518.29 
L 359.99 540.02 
L 367.07 540.02 
L 374.16 540.02 
L 381.24 540.02 
L 388.33 540.02 
L 395.41 540.02 
L 402.50 540.02 
" clip-path="url(#p260a30c363)" style="fill: none; stroke: #bcbd22; stroke-width: 1.5; stroke-linecap: square"/>
   </g>
   <g id="line2d_88">
    <path d="M 55.34 434.98 
L 62.42 435.02 
L 69.51 435.07 
L 76.59 435.13 
L 83.68 435.20 
L 90.76 435.27 
L 97.85 435.36 
L 104.93 435.47 
L 112.02 435.58 
L 119.10 435.72 
L 126.19 435.88 
L 133.27 436.06 
L 140.36 436.27 
L 147.44 436.51 
L 154.53 436.78 
L 161.61 437.10 
L 168.70 437.47 
L 175.78 437.89 
L 182.87 438.37 
L 189.95 438.93 
L 197.04 439.58 
L 204.12 440.32 
L 211.21 441.17 
L 218.29 442.15 
L 225.38 443.28 
L 232.46 444.58 
L 239.55 446.08 
L 246.63 447.81 
L 253.72 449.80 
L 260.80 452.09 
L 267.89 454.72 
L 274.97 457.75 
L 282.06 461.25 
L 289.14 465.27 
L 296.23 469.90 
L 303.31 475.23 
L 310.40 481.37 
L 317.48 488.43 
L 324.57 496.57 
L 331.65 505.94 
L 338.73 516.73 
L 345.82 529.15 
L 352.90 540.02 
L 359.99 540.02 
L 367.07 540.02 
L 374.16 540.02 
L 381.24 540.02 
L 388.33 540.02 
L 395.41 540.02 
L 402.50 540.02 
" clip-path="url(#p260a30c363)" style="fill: none; stroke: #ff7f0e; stroke-width: 1.5; stroke-linecap: square"/>
   </g>
   <g id="line2d_89">
    <path d="M 55.34 441.89 
L 62.42 441.92 
L 69.51 441.95 
L 76.59 441.99 
L 83.68 442.04 
L 90.76 442.09 
L 97.85 442.15 
L 104.93 442.23 
L 112.02 442.31 
L 119.10 442.41 
L 126.19 442.53 
L 133.27 442.66 
L 140.36 442.82 
L 147.44 443.00 
L 154.53 443.21 
L 161.61 443.46 
L 168.70 443.74 
L 175.78 444.07 
L 182.87 444.46 
L 189.95 444.90 
L 197.04 445.42 
L 204.12 446.03 
L 211.21 446.73 
L 218.29 447.54 
L 225.38 448.49 
L 232.46 449.60 
L 239.55 450.88 
L 246.63 452.36 
L 253.72 454.10 
L 260.80 456.11 
L 267.89 458.44 
L 274.97 461.16 
L 282.06 464.32 
L 289.14 467.99 
L 296.23 472.25 
L 303.31 477.21 
L 310.40 482.97 
L 317.48 489.67 
L 324.57 497.45 
L 331.65 506.50 
L 338.73 517.02 
L 345.82 529.24 
L 352.90 540.02 
L 359.99 540.02 
L 367.07 540.02 
L 374.16 540.02 
L 381.24 540.02 
L 388.33 540.02 
L 395.41 540.02 
L 402.50 540.02 
" clip-path="url(#p260a30c363)" style="fill: none; stroke: #d62728; stroke-width: 1.5; stroke-linecap: square"/>
   </g>
   <g id="line2d_90">
    <path d="M 55.34 448.80 
L 62.42 448.82 
L 69.51 448.84 
L 76.59 448.87 
L 83.68 448.90 
L 90.76 448.94 
L 97.85 448.98 
L 104.93 449.04 
L 112.02 449.10 
L 119.10 449.17 
L 126.19 449.25 
L 133.27 449.35 
L 140.36 449.47 
L 147.44 449.60 
L 154.53 449.76 
L 161.61 449.95 
L 168.70 450.17 
L 175.78 450.43 
L 182.87 450.73 
L 189.95 451.08 
L 197.04 451.50 
L 204.12 451.99 
L 211.21 452.56 
L 218.29 453.23 
L 225.38 454.02 
L 232.46 454.95 
L 239.55 456.03 
L 246.63 457.30 
L 253.72 458.80 
L 260.80 460.55 
L 267.89 462.61 
L 274.97 465.02 
L 282.06 467.85 
L 289.14 471.17 
L 296.23 475.07 
L 303.31 479.64 
L 310.40 485.00 
L 317.48 491.29 
L 324.57 498.67 
L 331.65 507.33 
L 338.73 517.49 
L 345.82 529.41 
L 352.90 540.02 
L 359.99 540.02 
L 367.07 540.02 
L 374.16 540.02 
L 381.24 540.02 
L 388.33 540.02 
L 395.41 540.02 
L 402.50 540.02 
" clip-path="url(#p260a30c363)" style="fill: none; stroke: #7f7f7f; stroke-width: 1.5; stroke-linecap: square"/>
   </g>
   <g id="line2d_91">
    <path d="M 55.34 450.20 
L 62.42 450.21 
L 69.51 450.21 
L 76.59 450.22 
L 83.68 450.23 
L 90.76 450.24 
L 97.85 450.26 
L 104.93 450.28 
L 112.02 450.30 
L 119.10 450.32 
L 126.19 450.36 
L 133.27 450.39 
L 140.36 450.44 
L 147.44 450.49 
L 154.53 450.56 
L 161.61 450.64 
L 168.70 450.74 
L 175.78 450.85 
L 182.87 450.99 
L 189.95 451.16 
L 197.04 451.36 
L 204.12 451.61 
L 211.21 451.91 
L 218.29 452.27 
L 225.38 452.70 
L 232.46 453.22 
L 239.55 453.85 
L 246.63 454.62 
L 253.72 455.53 
L 260.80 456.64 
L 267.89 457.98 
L 274.97 459.59 
L 282.06 461.54 
L 289.14 463.89 
L 296.23 466.73 
L 303.31 470.16 
L 310.40 474.29 
L 317.48 479.27 
L 324.57 485.29 
L 331.65 492.55 
L 338.73 501.32 
L 345.82 511.90 
L 352.90 524.66 
L 359.99 540.02 
L 367.07 540.02 
L 374.16 540.02 
L 381.24 540.02 
L 388.33 540.02 
L 395.41 540.02 
L 402.50 540.02 
" clip-path="url(#p260a30c363)" style="fill: none; stroke: #e377c2; stroke-width: 1.5; stroke-linecap: square"/>
   </g>
   <g id="line2d_92">
    <path d="M 55.34 460.10 
L 62.42 460.10 
L 69.51 460.11 
L 76.59 460.12 
L 83.68 460.13 
L 90.76 460.15 
L 97.85 460.17 
L 104.93 460.19 
L 112.02 460.21 
L 119.10 460.24 
L 126.19 460.28 
L 133.27 460.33 
L 140.36 460.38 
L 147.44 460.45 
L 154.53 460.53 
L 161.61 460.62 
L 168.70 460.74 
L 175.78 460.88 
L 182.87 461.05 
L 189.95 461.25 
L 197.04 461.49 
L 204.12 461.79 
L 211.21 462.15 
L 218.29 462.58 
L 225.38 463.10 
L 232.46 463.72 
L 239.55 464.48 
L 246.63 465.40 
L 253.72 466.50 
L 260.80 467.83 
L 267.89 469.44 
L 274.97 471.37 
L 282.06 473.71 
L 289.14 476.53 
L 296.23 479.94 
L 303.31 484.05 
L 310.40 489.01 
L 317.48 495.00 
L 324.57 502.22 
L 331.65 510.94 
L 338.73 521.46 
L 345.82 534.16 
L 352.90 540.02 
L 359.99 540.02 
L 367.07 540.02 
L 374.16 540.02 
L 381.24 540.02 
L 388.33 540.02 
L 395.41 540.02 
L 402.50 540.02 
" clip-path="url(#p260a30c363)" style="fill: none; stroke: #e377c2; stroke-width: 1.5; stroke-linecap: square"/>
   </g>
   <g id="line2d_93">
    <path d="M 55.34 463.77 
L 62.42 463.78 
L 69.51 463.78 
L 76.59 463.79 
L 83.68 463.81 
L 90.76 463.82 
L 97.85 463.84 
L 104.93 463.86 
L 112.02 463.89 
L 119.10 463.92 
L 126.19 463.95 
L 133.27 464.00 
L 140.36 464.05 
L 147.44 464.12 
L 154.53 464.20 
L 161.61 464.29 
L 168.70 464.41 
L 175.78 464.55 
L 182.87 464.72 
L 189.95 464.92 
L 197.04 465.16 
L 204.12 465.46 
L 211.21 465.82 
L 218.29 466.25 
L 225.38 466.77 
L 232.46 467.39 
L 239.55 468.15 
L 246.63 469.06 
L 253.72 470.16 
L 260.80 471.49 
L 267.89 473.10 
L 274.97 475.03 
L 282.06 477.37 
L 289.14 480.19 
L 296.23 483.59 
L 303.31 487.70 
L 310.40 492.66 
L 317.48 498.64 
L 324.57 505.85 
L 331.65 514.56 
L 338.73 525.08 
L 345.82 537.76 
L 352.90 540.02 
L 359.99 540.02 
L 367.07 540.02 
L 374.16 540.02 
L 381.24 540.02 
L 388.33 540.02 
L 395.41 540.02 
L 402.50 540.02 
" clip-path="url(#p260a30c363)" style="fill: none; stroke: #1f77b4; stroke-width: 1.5; stroke-linecap: square"/>
   </g>
   <g id="line2d_94">
    <path d="M 55.34 466.75 
L 62.42 466.75 
L 69.51 466.76 
L 76.59 466.77 
L 83.68 466.78 
L 90.76 466.80 
L 97.85 466.81 
L 104.93 466.83 
L 112.02 466.86 
L 119.10 466.89 
L 126.19 466.92 
L 133.27 466.96 
L 140.36 467.02 
L 147.44 467.08 
L 154.53 467.15 
L 161.61 467.24 
L 168.70 467.35 
L 175.78 467.48 
L 182.87 467.64 
L 189.95 467.83 
L 197.04 468.06 
L 204.12 468.34 
L 211.21 468.67 
L 218.29 469.08 
L 225.38 469.56 
L 232.46 470.15 
L 239.55 470.86 
L 246.63 471.72 
L 253.72 472.75 
L 260.80 474.00 
L 267.89 475.51 
L 274.97 477.33 
L 282.06 479.52 
L 289.14 482.17 
L 296.23 485.37 
L 303.31 489.22 
L 310.40 493.88 
L 317.48 499.49 
L 324.57 506.27 
L 331.65 514.45 
L 338.73 524.32 
L 345.82 536.23 
L 352.90 540.02 
L 359.99 540.02 
L 367.07 540.02 
L 374.16 540.02 
L 381.24 540.02 
L 388.33 540.02 
L 395.41 540.02 
L 402.50 540.02 
" clip-path="url(#p260a30c363)" style="fill: none; stroke: #d62728; stroke-width: 1.5; stroke-linecap: square"/>
   </g>
   <g id="line2d_95">
    <path d="M 55.34 467.77 
L 62.42 467.77 
L 69.51 467.78 
L 76.59 467.79 
L 83.68 467.80 
L 90.76 467.82 
L 97.85 467.84 
L 104.93 467.86 
L 112.02 467.88 
L 119.10 467.91 
L 126.19 467.95 
L 133.27 467.99 
L 140.36 468.04 
L 147.44 468.11 
L 154.53 468.18 
L 161.61 468.28 
L 168.70 468.39 
L 175.78 468.52 
L 182.87 468.69 
L 189.95 468.88 
L 197.04 469.12 
L 204.12 469.41 
L 211.21 469.75 
L 218.29 470.17 
L 225.38 470.67 
L 232.46 471.28 
L 239.55 472.02 
L 246.63 472.90 
L 253.72 473.97 
L 260.80 475.26 
L 267.89 476.81 
L 274.97 478.69 
L 282.06 480.96 
L 289.14 483.69 
L 296.23 486.99 
L 303.31 490.97 
L 310.40 495.78 
L 317.48 501.58 
L 324.57 508.58 
L 331.65 517.02 
L 338.73 527.21 
L 345.82 539.51 
L 352.90 540.02 
L 359.99 540.02 
L 367.07 540.02 
L 374.16 540.02 
L 381.24 540.02 
L 388.33 540.02 
L 395.41 540.02 
L 402.50 540.02 
" clip-path="url(#p260a30c363)" style="fill: none; stroke: #9467bd; stroke-width: 1.5; stroke-linecap: square"/>
   </g>
   <g id="line2d_96">
    <path d="M 55.34 473.76 
L 62.42 473.77 
L 69.51 473.78 
L 76.59 473.79 
L 83.68 473.80 
L 90.76 473.81 
L 97.85 473.83 
L 104.93 473.85 
L 112.02 473.87 
L 119.10 473.90 
L 126.19 473.93 
L 133.27 473.97 
L 140.36 474.02 
L 147.44 474.08 
L 154.53 474.15 
L 161.61 474.23 
L 168.70 474.33 
L 175.78 474.46 
L 182.87 474.61 
L 189.95 474.79 
L 197.04 475.01 
L 204.12 475.27 
L 211.21 475.59 
L 218.29 475.97 
L 225.38 476.43 
L 232.46 476.99 
L 239.55 477.66 
L 246.63 478.47 
L 253.72 479.45 
L 260.80 480.63 
L 267.89 482.06 
L 274.97 483.78 
L 282.06 485.86 
L 289.14 488.37 
L 296.23 491.39 
L 303.31 495.04 
L 310.40 499.45 
L 317.48 504.77 
L 324.57 511.19 
L 331.65 518.93 
L 338.73 528.28 
L 345.82 539.55 
L 352.90 540.02 
L 359.99 540.02 
L 367.07 540.02 
L 374.16 540.02 
L 381.24 540.02 
L 388.33 540.02 
L 395.41 540.02 
L 402.50 540.02 
" clip-path="url(#p260a30c363)" style="fill: none; stroke: #17becf; stroke-width: 1.5; stroke-linecap: square"/>
   </g>
   <g id="line2d_97">
    <path d="M 55.34 476.75 
L 62.42 476.75 
L 69.51 476.76 
L 76.59 476.77 
L 83.68 476.78 
L 90.76 476.79 
L 97.85 476.81 
L 104.93 476.82 
L 112.02 476.85 
L 119.10 476.87 
L 126.19 476.91 
L 133.27 476.95 
L 140.36 476.99 
L 147.44 477.05 
L 154.53 477.12 
L 161.61 477.20 
L 168.70 477.30 
L 175.78 477.42 
L 182.87 477.57 
L 189.95 477.75 
L 197.04 477.96 
L 204.12 478.22 
L 211.21 478.52 
L 218.29 478.90 
L 225.38 479.35 
L 232.46 479.90 
L 239.55 480.55 
L 246.63 481.35 
L 253.72 482.30 
L 260.80 483.46 
L 267.89 484.85 
L 274.97 486.53 
L 282.06 488.57 
L 289.14 491.02 
L 296.23 493.97 
L 303.31 497.54 
L 310.40 501.85 
L 317.48 507.04 
L 324.57 513.32 
L 331.65 520.88 
L 338.73 530.02 
L 345.82 540.02 
L 352.90 540.02 
L 359.99 540.02 
L 367.07 540.02 
L 374.16 540.02 
L 381.24 540.02 
L 388.33 540.02 
L 395.41 540.02 
L 402.50 540.02 
" clip-path="url(#p260a30c363)" style="fill: none; stroke: #d62728; stroke-width: 1.5; stroke-linecap: square"/>
   </g>
   <g id="line2d_98">
    <path d="M 55.34 480.09 
L 62.42 480.09 
L 69.51 480.10 
L 76.59 480.11 
L 83.68 480.12 
L 90.76 480.13 
L 97.85 480.15 
L 104.93 480.16 
L 112.02 480.18 
L 119.10 480.21 
L 126.19 480.24 
L 133.27 480.28 
L 140.36 480.32 
L 147.44 480.38 
L 154.53 480.44 
L 161.61 480.52 
L 168.70 480.62 
L 175.78 480.73 
L 182.87 480.87 
L 189.95 481.04 
L 197.04 481.24 
L 204.12 481.48 
L 211.21 481.77 
L 218.29 482.13 
L 225.38 482.56 
L 232.46 483.07 
L 239.55 483.69 
L 246.63 484.45 
L 253.72 485.35 
L 260.80 486.45 
L 267.89 487.77 
L 274.97 489.36 
L 282.06 491.28 
L 289.14 493.60 
L 296.23 496.41 
L 303.31 499.79 
L 310.40 503.86 
L 317.48 508.79 
L 324.57 514.73 
L 331.65 521.89 
L 338.73 530.55 
L 345.82 540.02 
L 352.90 540.02 
L 359.99 540.02 
L 367.07 540.02 
L 374.16 540.02 
L 381.24 540.02 
L 388.33 540.02 
L 395.41 540.02 
L 402.50 540.02 
" clip-path="url(#p260a30c363)" style="fill: none; stroke: #9467bd; stroke-width: 1.5; stroke-linecap: square"/>
   </g>
   <g id="line2d_99">
    <path d="M 55.34 509.46 
L 62.42 509.46 
L 69.51 509.46 
L 76.59 509.47 
L 83.68 509.48 
L 90.76 509.48 
L 97.85 509.49 
L 104.93 509.50 
L 112.02 509.52 
L 119.10 509.53 
L 126.19 509.55 
L 133.27 509.57 
L 140.36 509.60 
L 147.44 509.63 
L 154.53 509.67 
L 161.61 509.72 
L 168.70 509.78 
L 175.78 509.85 
L 182.87 509.93 
L 189.95 510.03 
L 197.04 510.15 
L 204.12 510.30 
L 211.21 510.48 
L 218.29 510.69 
L 225.38 510.95 
L 232.46 511.27 
L 239.55 511.64 
L 246.63 512.10 
L 253.72 512.65 
L 260.80 513.31 
L 267.89 514.11 
L 274.97 515.08 
L 282.06 516.24 
L 289.14 517.65 
L 296.23 519.35 
L 303.31 521.40 
L 310.40 523.87 
L 317.48 526.85 
L 324.57 530.45 
L 331.65 534.80 
L 338.73 540.02 
L 345.82 540.02 
L 352.90 540.02 
L 359.99 540.02 
L 367.07 540.02 
L 374.16 540.02 
L 381.24 540.02 
L 388.33 540.02 
L 395.41 540.02 
L 402.50 540.02 
" clip-path="url(#p260a30c363)" style="fill: none; stroke: #1f77b4; stroke-width: 1.5; stroke-linecap: square"/>
   </g>
   <g id="line2d_100">
    <path d="M 55.34 587.88 
L 62.42 587.88 
L 69.51 587.87 
L 76.59 587.87 
L 83.68 587.86 
L 90.76 587.85 
L 97.85 587.84 
L 104.93 587.83 
L 112.02 587.81 
L 119.10 587.79 
L 126.19 587.76 
L 133.27 587.73 
L 140.36 587.70 
L 147.44 587.65 
L 154.53 587.60 
L 161.61 587.54 
L 168.70 587.46 
L 175.78 587.37 
L 182.87 587.26 
L 189.95 587.13 
L 197.04 586.97 
L 204.12 586.77 
L 211.21 586.54 
L 218.29 586.26 
L 225.38 585.91 
L 232.46 585.50 
L 239.55 585.00 
L 246.63 584.40 
L 253.72 583.68 
L 260.80 582.81 
L 267.89 581.75 
L 274.97 580.48 
L 282.06 578.94 
L 289.14 577.09 
L 296.23 574.85 
L 303.31 572.15 
L 310.40 568.90 
L 317.48 564.97 
L 324.57 560.22 
L 331.65 554.50 
L 338.73 547.59 
L 345.82 540.02 
L 352.90 540.02 
L 359.99 540.02 
L 367.07 540.02 
L 374.16 540.02 
L 381.24 540.02 
L 388.33 540.02 
L 395.41 540.02 
L 402.50 540.02 
" clip-path="url(#p260a30c363)" style="fill: none; stroke: #17becf; stroke-width: 1.5; stroke-linecap: square"/>
   </g>
   <g id="line2d_101">
    <path d="M 55.34 601.44 
L 62.42 601.44 
L 69.51 601.43 
L 76.59 601.42 
L 83.68 601.41 
L 90.76 601.40 
L 97.85 601.38 
L 104.93 601.36 
L 112.02 601.34 
L 119.10 601.32 
L 126.19 601.29 
L 133.27 601.25 
L 140.36 601.20 
L 147.44 601.15 
L 154.53 601.08 
L 161.61 601.00 
L 168.70 600.90 
L 175.78 600.78 
L 182.87 600.64 
L 189.95 600.47 
L 197.04 600.26 
L 204.12 600.01 
L 211.21 599.71 
L 218.29 599.35 
L 225.38 598.91 
L 232.46 598.38 
L 239.55 597.75 
L 246.63 596.98 
L 253.72 596.05 
L 260.80 594.92 
L 267.89 593.57 
L 274.97 591.94 
L 282.06 589.97 
L 289.14 587.59 
L 296.23 584.72 
L 303.31 581.25 
L 310.40 577.07 
L 317.48 572.03 
L 324.57 565.94 
L 331.65 558.60 
L 338.73 549.73 
L 345.82 540.02 
L 352.90 540.02 
L 359.99 540.02 
L 367.07 540.02 
L 374.16 540.02 
L 381.24 540.02 
L 388.33 540.02 
L 395.41 540.02 
L 402.50 540.02 
" clip-path="url(#p260a30c363)" style="fill: none; stroke: #7f7f7f; stroke-width: 1.5; stroke-linecap: square"/>
   </g>
   <g id="line2d_102">
    <path d="M 55.34 608.49 
L 62.42 608.49 
L 69.51 608.48 
L 76.59 608.47 
L 83.68 608.46 
L 90.76 608.45 
L 97.85 608.43 
L 104.93 608.41 
L 112.02 608.39 
L 119.10 608.36 
L 126.19 608.33 
L 133.27 608.29 
L 140.36 608.24 
L 147.44 608.18 
L 154.53 608.11 
L 161.61 608.02 
L 168.70 607.92 
L 175.78 607.79 
L 182.87 607.64 
L 189.95 607.46 
L 197.04 607.24 
L 204.12 606.97 
L 211.21 606.65 
L 218.29 606.27 
L 225.38 605.80 
L 232.46 605.24 
L 239.55 604.56 
L 246.63 603.74 
L 253.72 602.75 
L 260.80 601.56 
L 267.89 600.12 
L 274.97 598.38 
L 282.06 596.28 
L 289.14 593.75 
L 296.23 590.69 
L 303.31 587.00 
L 310.40 582.55 
L 317.48 577.18 
L 324.57 570.70 
L 331.65 562.88 
L 338.73 553.44 
L 345.82 542.05 
L 352.90 540.02 
L 359.99 540.02 
L 367.07 540.02 
L 374.16 540.02 
L 381.24 540.02 
L 388.33 540.02 
L 395.41 540.02 
L 402.50 540.02 
" clip-path="url(#p260a30c363)" style="fill: none; stroke: #ff7f0e; stroke-width: 1.5; stroke-linecap: square"/>
   </g>
   <g id="line2d_103">
    <path d="M 55.34 619.91 
L 62.42 619.90 
L 69.51 619.89 
L 76.59 619.88 
L 83.68 619.87 
L 90.76 619.85 
L 97.85 619.84 
L 104.93 619.82 
L 112.02 619.79 
L 119.10 619.76 
L 126.19 619.72 
L 133.27 619.68 
L 140.36 619.62 
L 147.44 619.56 
L 154.53 619.48 
L 161.61 619.38 
L 168.70 619.27 
L 175.78 619.13 
L 182.87 618.96 
L 189.95 618.76 
L 197.04 618.51 
L 204.12 618.21 
L 211.21 617.86 
L 218.29 617.43 
L 225.38 616.91 
L 232.46 616.28 
L 239.55 615.52 
L 246.63 614.61 
L 253.72 613.51 
L 260.80 612.18 
L 267.89 610.57 
L 274.97 608.64 
L 282.06 606.30 
L 289.14 603.48 
L 296.23 600.07 
L 303.31 595.96 
L 310.40 591.00 
L 317.48 585.02 
L 324.57 577.80 
L 331.65 569.09 
L 338.73 558.57 
L 345.82 545.88 
L 352.90 540.02 
L 359.99 540.02 
L 367.07 540.02 
L 374.16 540.02 
L 381.24 540.02 
L 388.33 540.02 
L 395.41 540.02 
L 402.50 540.02 
" clip-path="url(#p260a30c363)" style="fill: none; stroke: #9467bd; stroke-width: 1.5; stroke-linecap: square"/>
   </g>
   <g id="line2d_104">
    <path d="M 55.34 624.34 
L 62.42 624.34 
L 69.51 624.33 
L 76.59 624.32 
L 83.68 624.31 
L 90.76 624.29 
L 97.85 624.27 
L 104.93 624.25 
L 112.02 624.23 
L 119.10 624.20 
L 126.19 624.16 
L 133.27 624.12 
L 140.36 624.06 
L 147.44 624.00 
L 154.53 623.92 
L 161.61 623.83 
L 168.70 623.71 
L 175.78 623.57 
L 182.87 623.41 
L 189.95 623.21 
L 197.04 622.97 
L 204.12 622.68 
L 211.21 622.32 
L 218.29 621.90 
L 225.38 621.39 
L 232.46 620.77 
L 239.55 620.03 
L 246.63 619.13 
L 253.72 618.04 
L 260.80 616.73 
L 267.89 615.15 
L 274.97 613.24 
L 282.06 610.94 
L 289.14 608.16 
L 296.23 604.80 
L 303.31 600.76 
L 310.40 595.87 
L 317.48 589.98 
L 324.57 582.87 
L 331.65 574.28 
L 338.73 563.92 
L 345.82 551.42 
L 352.90 540.02 
L 359.99 540.02 
L 367.07 540.02 
L 374.16 540.02 
L 381.24 540.02 
L 388.33 540.02 
L 395.41 540.02 
L 402.50 540.02 
" clip-path="url(#p260a30c363)" style="fill: none; stroke: #2ca02c; stroke-width: 1.5; stroke-linecap: square"/>
   </g>
   <g id="line2d_105">
    <path d="M 55.34 625.07 
L 62.42 625.06 
L 69.51 625.05 
L 76.59 625.04 
L 83.68 625.03 
L 90.76 625.02 
L 97.85 625.00 
L 104.93 624.98 
L 112.02 624.95 
L 119.10 624.92 
L 126.19 624.88 
L 133.27 624.84 
L 140.36 624.78 
L 147.44 624.71 
L 154.53 624.63 
L 161.61 624.54 
L 168.70 624.42 
L 175.78 624.28 
L 182.87 624.11 
L 189.95 623.90 
L 197.04 623.65 
L 204.12 623.35 
L 211.21 622.99 
L 218.29 622.55 
L 225.38 622.02 
L 232.46 621.38 
L 239.55 620.61 
L 246.63 619.68 
L 253.72 618.56 
L 260.80 617.21 
L 267.89 615.58 
L 274.97 613.61 
L 282.06 611.23 
L 289.14 608.36 
L 296.23 604.90 
L 303.31 600.73 
L 310.40 595.68 
L 317.48 589.60 
L 324.57 582.26 
L 331.65 573.40 
L 338.73 562.71 
L 345.82 549.81 
L 352.90 540.02 
L 359.99 540.02 
L 367.07 540.02 
L 374.16 540.02 
L 381.24 540.02 
L 388.33 540.02 
L 395.41 540.02 
L 402.50 540.02 
" clip-path="url(#p260a30c363)" style="fill: none; stroke: #bcbd22; stroke-width: 1.5; stroke-linecap: square"/>
   </g>
   <g id="line2d_106">
    <path d="M 55.34 626.89 
L 62.42 626.88 
L 69.51 626.87 
L 76.59 626.86 
L 83.68 626.85 
L 90.76 626.84 
L 97.85 626.82 
L 104.93 626.80 
L 112.02 626.78 
L 119.10 626.75 
L 126.19 626.71 
L 133.27 626.67 
L 140.36 626.61 
L 147.44 626.55 
L 154.53 626.47 
L 161.61 626.38 
L 168.70 626.27 
L 175.78 626.13 
L 182.87 625.97 
L 189.95 625.77 
L 197.04 625.54 
L 204.12 625.25 
L 211.21 624.90 
L 218.29 624.49 
L 225.38 623.98 
L 232.46 623.37 
L 239.55 622.64 
L 246.63 621.76 
L 253.72 620.69 
L 260.80 619.40 
L 267.89 617.84 
L 274.97 615.97 
L 282.06 613.70 
L 289.14 610.97 
L 296.23 607.67 
L 303.31 603.68 
L 310.40 598.88 
L 317.48 593.08 
L 324.57 586.08 
L 331.65 577.64 
L 338.73 567.45 
L 345.82 555.15 
L 352.90 540.31 
L 359.99 540.02 
L 367.07 540.02 
L 374.16 540.02 
L 381.24 540.02 
L 388.33 540.02 
L 395.41 540.02 
L 402.50 540.02 
" clip-path="url(#p260a30c363)" style="fill: none; stroke: #17becf; stroke-width: 1.5; stroke-linecap: square"/>
   </g>
   <g id="line2d_107">
    <path d="M 55.34 631.36 
L 62.42 631.36 
L 69.51 631.35 
L 76.59 631.34 
L 83.68 631.33 
L 90.76 631.32 
L 97.85 631.30 
L 104.93 631.28 
L 112.02 631.26 
L 119.10 631.23 
L 126.19 631.20 
L 133.27 631.15 
L 140.36 631.11 
L 147.44 631.05 
L 154.53 630.97 
L 161.61 630.89 
L 168.70 630.78 
L 175.78 630.65 
L 182.87 630.50 
L 189.95 630.32 
L 197.04 630.10 
L 204.12 629.83 
L 211.21 629.50 
L 218.29 629.11 
L 225.38 628.64 
L 232.46 628.07 
L 239.55 627.38 
L 246.63 626.55 
L 253.72 625.55 
L 260.80 624.34 
L 267.89 622.89 
L 274.97 621.13 
L 282.06 619.00 
L 289.14 616.44 
L 296.23 613.35 
L 303.31 609.62 
L 310.40 605.12 
L 317.48 599.68 
L 324.57 593.12 
L 331.65 585.21 
L 338.73 575.66 
L 345.82 564.13 
L 352.90 550.22 
L 359.99 540.02 
L 367.07 540.02 
L 374.16 540.02 
L 381.24 540.02 
L 388.33 540.02 
L 395.41 540.02 
L 402.50 540.02 
" clip-path="url(#p260a30c363)" style="fill: none; stroke: #2ca02c; stroke-width: 1.5; stroke-linecap: square"/>
   </g>
   <g id="line2d_108">
    <path d="M 55.34 638.62 
L 62.42 638.62 
L 69.51 638.61 
L 76.59 638.59 
L 83.68 638.58 
L 90.76 638.56 
L 97.85 638.54 
L 104.93 638.51 
L 112.02 638.48 
L 119.10 638.44 
L 126.19 638.40 
L 133.27 638.34 
L 140.36 638.27 
L 147.44 638.19 
L 154.53 638.09 
L 161.61 637.98 
L 168.70 637.83 
L 175.78 637.66 
L 182.87 637.45 
L 189.95 637.20 
L 197.04 636.90 
L 204.12 636.54 
L 211.21 636.10 
L 218.29 635.56 
L 225.38 634.92 
L 232.46 634.15 
L 239.55 633.21 
L 246.63 632.09 
L 253.72 630.73 
L 260.80 629.08 
L 267.89 627.10 
L 274.97 624.71 
L 282.06 621.83 
L 289.14 618.34 
L 296.23 614.14 
L 303.31 609.07 
L 310.40 602.95 
L 317.48 595.56 
L 324.57 586.65 
L 331.65 575.90 
L 338.73 562.92 
L 345.82 547.25 
L 352.90 540.02 
L 359.99 540.02 
L 367.07 540.02 
L 374.16 540.02 
L 381.24 540.02 
L 388.33 540.02 
L 395.41 540.02 
L 402.50 540.02 
" clip-path="url(#p260a30c363)" style="fill: none; stroke: #ff7f0e; stroke-width: 1.5; stroke-linecap: square"/>
   </g>
   <g id="line2d_109">
    <path d="M 55.34 640.48 
L 62.42 640.47 
L 69.51 640.46 
L 76.59 640.45 
L 83.68 640.44 
L 90.76 640.42 
L 97.85 640.40 
L 104.93 640.37 
L 112.02 640.34 
L 119.10 640.30 
L 126.19 640.26 
L 133.27 640.20 
L 140.36 640.14 
L 147.44 640.06 
L 154.53 639.96 
L 161.61 639.85 
L 168.70 639.71 
L 175.78 639.54 
L 182.87 639.34 
L 189.95 639.10 
L 197.04 638.80 
L 204.12 638.45 
L 211.21 638.02 
L 218.29 637.50 
L 225.38 636.88 
L 232.46 636.13 
L 239.55 635.22 
L 246.63 634.12 
L 253.72 632.80 
L 260.80 631.20 
L 267.89 629.27 
L 274.97 626.94 
L 282.06 624.14 
L 289.14 620.75 
L 296.23 616.66 
L 303.31 611.73 
L 310.40 605.77 
L 317.48 598.59 
L 324.57 589.91 
L 331.65 579.45 
L 338.73 566.82 
L 345.82 551.58 
L 352.90 540.02 
L 359.99 540.02 
L 367.07 540.02 
L 374.16 540.02 
L 381.24 540.02 
L 388.33 540.02 
L 395.41 540.02 
L 402.50 540.02 
" clip-path="url(#p260a30c363)" style="fill: none; stroke: #e377c2; stroke-width: 1.5; stroke-linecap: square"/>
   </g>
   <g id="line2d_110">
    <path d="M 55.34 643.02 
L 62.42 643.01 
L 69.51 643.00 
L 76.59 642.99 
L 83.68 642.97 
L 90.76 642.96 
L 97.85 642.93 
L 104.93 642.91 
L 112.02 642.87 
L 119.10 642.83 
L 126.19 642.78 
L 133.27 642.73 
L 140.36 642.66 
L 147.44 642.57 
L 154.53 642.47 
L 161.61 642.35 
L 168.70 642.20 
L 175.78 642.02 
L 182.87 641.80 
L 189.95 641.54 
L 197.04 641.22 
L 204.12 640.84 
L 211.21 640.38 
L 218.29 639.83 
L 225.38 639.16 
L 232.46 638.35 
L 239.55 637.37 
L 246.63 636.19 
L 253.72 634.77 
L 260.80 633.06 
L 267.89 630.99 
L 274.97 628.49 
L 282.06 625.48 
L 289.14 621.84 
L 296.23 617.45 
L 303.31 612.15 
L 310.40 605.76 
L 317.48 598.04 
L 324.57 588.73 
L 331.65 577.50 
L 338.73 563.94 
L 345.82 547.57 
L 352.90 540.02 
L 359.99 540.02 
L 367.07 540.02 
L 374.16 540.02 
L 381.24 540.02 
L 388.33 540.02 
L 395.41 540.02 
L 402.50 540.02 
" clip-path="url(#p260a30c363)" style="fill: none; stroke: #8c564b; stroke-width: 1.5; stroke-linecap: square"/>
   </g>
   <g id="line2d_111">
    <path d="M 55.34 647.50 
L 62.42 647.49 
L 69.51 647.48 
L 76.59 647.47 
L 83.68 647.45 
L 90.76 647.44 
L 97.85 647.41 
L 104.93 647.39 
L 112.02 647.36 
L 119.10 647.32 
L 126.19 647.28 
L 133.27 647.22 
L 140.36 647.16 
L 147.44 647.08 
L 154.53 646.98 
L 161.61 646.87 
L 168.70 646.73 
L 175.78 646.56 
L 182.87 646.36 
L 189.95 646.12 
L 197.04 645.82 
L 204.12 645.47 
L 211.21 645.04 
L 218.29 644.52 
L 225.38 643.90 
L 232.46 643.15 
L 239.55 642.24 
L 246.63 641.15 
L 253.72 639.83 
L 260.80 638.23 
L 267.89 636.31 
L 274.97 633.98 
L 282.06 631.18 
L 289.14 627.80 
L 296.23 623.72 
L 303.31 618.79 
L 310.40 612.84 
L 317.48 605.67 
L 324.57 597.01 
L 331.65 586.56 
L 338.73 573.95 
L 345.82 558.74 
L 352.90 540.37 
L 359.99 540.02 
L 367.07 540.02 
L 374.16 540.02 
L 381.24 540.02 
L 388.33 540.02 
L 395.41 540.02 
L 402.50 540.02 
" clip-path="url(#p260a30c363)" style="fill: none; stroke: #bcbd22; stroke-width: 1.5; stroke-linecap: square"/>
   </g>
   <g id="line2d_112">
    <path d="M 55.34 661.75 
L 62.42 661.74 
L 69.51 661.73 
L 76.59 661.71 
L 83.68 661.70 
L 90.76 661.68 
L 97.85 661.65 
L 104.93 661.62 
L 112.02 661.59 
L 119.10 661.55 
L 126.19 661.50 
L 133.27 661.44 
L 140.36 661.37 
L 147.44 661.28 
L 154.53 661.17 
L 161.61 661.04 
L 168.70 660.89 
L 175.78 660.70 
L 182.87 660.48 
L 189.95 660.20 
L 197.04 659.88 
L 204.12 659.48 
L 211.21 659.00 
L 218.29 658.43 
L 225.38 657.73 
L 232.46 656.89 
L 239.55 655.88 
L 246.63 654.65 
L 253.72 653.18 
L 260.80 651.39 
L 267.89 649.24 
L 274.97 646.65 
L 282.06 643.52 
L 289.14 639.74 
L 296.23 635.18 
L 303.31 629.68 
L 310.40 623.04 
L 317.48 615.02 
L 324.57 605.35 
L 331.65 593.68 
L 338.73 579.60 
L 345.82 562.60 
L 352.90 542.09 
L 359.99 540.02 
L 367.07 540.02 
L 374.16 540.02 
L 381.24 540.02 
L 388.33 540.02 
L 395.41 540.02 
L 402.50 540.02 
" clip-path="url(#p260a30c363)" style="fill: none; stroke: #8c564b; stroke-width: 1.5; stroke-linecap: square"/>
   </g>
   <g id="line2d_113">
    <path d="M 359.99 540.02 
L 402.50 540.02 
" clip-path="url(#p260a30c363)" style="fill: none; stroke: #2a9f8e; stroke-width: 1.5; stroke-linecap: square"/>
   </g>
   <g id="line2d_114">
    <path d="M 340.62 675.74 
L 340.62 375.67 
" clip-path="url(#p260a30c363)" style="fill: none; stroke-dasharray: 5.55,2.4; stroke-dashoffset: 0; stroke: #ff0000; stroke-width: 1.5"/>
   </g>
   <g id="patch_13">
    <path d="M 37.99 675.74 
L 37.99 375.67 
" style="fill: none; stroke: #000000; stroke-width: 0.8; stroke-linejoin: miter; stroke-linecap: square"/>
   </g>
   <g id="patch_14">
    <path d="M 419.04 675.74 
L 419.04 375.67 
" style="fill: none; stroke: #000000; stroke-width: 0.8; stroke-linejoin: miter; stroke-linecap: square"/>
   </g>
   <g id="patch_15">
    <path d="M 37.99 675.74 
L 419.04 675.74 
" style="fill: none; stroke: #000000; stroke-width: 0.8; stroke-linejoin: miter; stroke-linecap: square"/>
   </g>
   <g id="patch_16">
    <path d="M 37.99 375.67 
L 419.04 375.67 
" style="fill: none; stroke: #000000; stroke-width: 0.8; stroke-linejoin: miter; stroke-linecap: square"/>
   </g>
   <g id="text_56">
    <text style="font-size: 12px; font-family: 'DejaVu Sans', 'Liberation Sans', sans-serif; text-anchor: middle" x="228.51" y="369.67" transform="matrix(1.0070 0 0 1.0600 -1.600 -22.612)">LASSO for T2-W</text>
   </g>
  </g>
  <g id="axes_4">
   <g id="patch_17">
    <path d="M 466.12 675.74 
L 848.01 675.74 
L 848.01 375.67 
L 466.12 375.67 
z
" style="fill: #ffffff"/>
   </g>
   <g id="matplotlib.axis_7">
    <g id="xtick_28">
     <g id="line2d_115">
      <g>
       <use xlink:href="#m1504cfccaf" x="483.45" y="675.74" style="stroke: #000000; stroke-width: 0.8"/>
      </g>
     </g>
     <g id="text_57">
      <text style="font-size: 10px; font-family: 'DejaVu Sans', 'Liberation Sans', sans-serif; text-anchor: middle" x="483.45" y="690.34" transform="rotate(-0 483.45 690.34)">−3.0</text>
     </g>
    </g>
    <g id="xtick_29">
     <g id="line2d_116">
      <g>
       <use xlink:href="#m1504cfccaf" x="526.85" y="675.74" style="stroke: #000000; stroke-width: 0.8"/>
      </g>
     </g>
     <g id="text_58">
      <text style="font-size: 10px; font-family: 'DejaVu Sans', 'Liberation Sans', sans-serif; text-anchor: middle" x="526.85" y="690.34" transform="rotate(-0 526.85 690.34)">−2.5</text>
     </g>
    </g>
    <g id="xtick_30">
     <g id="line2d_117">
      <g>
       <use xlink:href="#m1504cfccaf" x="570.26" y="675.74" style="stroke: #000000; stroke-width: 0.8"/>
      </g>
     </g>
     <g id="text_59">
      <text style="font-size: 10px; font-family: 'DejaVu Sans', 'Liberation Sans', sans-serif; text-anchor: middle" x="570.26" y="690.34" transform="rotate(-0 570.26 690.34)">−2.0</text>
     </g>
    </g>
    <g id="xtick_31">
     <g id="line2d_118">
      <g>
       <use xlink:href="#m1504cfccaf" x="613.66" y="675.74" style="stroke: #000000; stroke-width: 0.8"/>
      </g>
     </g>
     <g id="text_60">
      <text style="font-size: 10px; font-family: 'DejaVu Sans', 'Liberation Sans', sans-serif; text-anchor: middle" x="613.66" y="690.34" transform="rotate(-0 613.66 690.34)">−1.5</text>
     </g>
    </g>
    <g id="xtick_32">
     <g id="line2d_119">
      <g>
       <use xlink:href="#m1504cfccaf" x="657.07" y="675.74" style="stroke: #000000; stroke-width: 0.8"/>
      </g>
     </g>
     <g id="text_61">
      <text style="font-size: 10px; font-family: 'DejaVu Sans', 'Liberation Sans', sans-serif; text-anchor: middle" x="657.07" y="690.34" transform="rotate(-0 657.07 690.34)">−1.0</text>
     </g>
    </g>
    <g id="xtick_33">
     <g id="line2d_120">
      <g>
       <use xlink:href="#m1504cfccaf" x="700.47" y="675.74" style="stroke: #000000; stroke-width: 0.8"/>
      </g>
     </g>
     <g id="text_62">
      <text style="font-size: 10px; font-family: 'DejaVu Sans', 'Liberation Sans', sans-serif; text-anchor: middle" x="700.47" y="690.34" transform="rotate(-0 700.47 690.34)">−0.5</text>
     </g>
    </g>
    <g id="xtick_34">
     <g id="line2d_121">
      <g>
       <use xlink:href="#m1504cfccaf" x="743.88" y="675.74" style="stroke: #000000; stroke-width: 0.8"/>
      </g>
     </g>
     <g id="text_63">
      <text style="font-size: 10px; font-family: 'DejaVu Sans', 'Liberation Sans', sans-serif; text-anchor: middle" x="743.88" y="690.34" transform="rotate(-0 743.88 690.34)">0.0</text>
     </g>
    </g>
    <g id="xtick_35">
     <g id="line2d_122">
      <g>
       <use xlink:href="#m1504cfccaf" x="787.28" y="675.74" style="stroke: #000000; stroke-width: 0.8"/>
      </g>
     </g>
     <g id="text_64">
      <text style="font-size: 10px; font-family: 'DejaVu Sans', 'Liberation Sans', sans-serif; text-anchor: middle" x="787.28" y="690.34" transform="rotate(-0 787.28 690.34)">0.5</text>
     </g>
    </g>
    <g id="xtick_36">
     <g id="line2d_123">
      <g>
       <use xlink:href="#m1504cfccaf" x="830.68" y="675.74" style="stroke: #000000; stroke-width: 0.8"/>
      </g>
     </g>
     <g id="text_65">
      <text style="font-size: 10px; font-family: 'DejaVu Sans', 'Liberation Sans', sans-serif; text-anchor: middle" x="830.68" y="690.34" transform="rotate(-0 830.68 690.34)">1.0</text>
     </g>
    </g>
    <g id="text_66">
     <text style="font-size: 10px; font-family: 'DejaVu Sans', 'Liberation Sans', sans-serif; text-anchor: middle" x="657.07" y="704.02" transform="rotate(-0 657.07 704.02)">log(Alpha)</text>
    </g>
   </g>
   <g id="matplotlib.axis_8">
    <g id="ytick_21">
     <g id="line2d_124">
      <g>
       <use xlink:href="#m5d545ce8f8" x="466.12" y="634.56" style="stroke: #000000; stroke-width: 0.8"/>
      </g>
     </g>
     <g id="text_67">
      <text style="font-size: 10px; font-family: 'DejaVu Sans', 'Liberation Sans', sans-serif; text-anchor: end" x="459.12" y="638.36" transform="rotate(-0 459.12 638.36)">−2</text>
     </g>
    </g>
    <g id="ytick_22">
     <g id="line2d_125">
      <g>
       <use xlink:href="#m5d545ce8f8" x="466.12" y="576.72" style="stroke: #000000; stroke-width: 0.8"/>
      </g>
     </g>
     <g id="text_68">
      <text style="font-size: 10px; font-family: 'DejaVu Sans', 'Liberation Sans', sans-serif; text-anchor: end" x="459.12" y="580.52" transform="rotate(-0 459.12 580.52)">−1</text>
     </g>
    </g>
    <g id="ytick_23">
     <g id="line2d_126">
      <g>
       <use xlink:href="#m5d545ce8f8" x="466.12" y="518.89" style="stroke: #000000; stroke-width: 0.8"/>
      </g>
     </g>
     <g id="text_69">
      <text style="font-size: 10px; font-family: 'DejaVu Sans', 'Liberation Sans', sans-serif; text-anchor: end" x="459.12" y="522.69" transform="rotate(-0 459.12 522.69)">0</text>
     </g>
    </g>
    <g id="ytick_24">
     <g id="line2d_127">
      <g>
       <use xlink:href="#m5d545ce8f8" x="466.12" y="461.05" style="stroke: #000000; stroke-width: 0.8"/>
      </g>
     </g>
     <g id="text_70">
      <text style="font-size: 10px; font-family: 'DejaVu Sans', 'Liberation Sans', sans-serif; text-anchor: end" x="459.12" y="464.85" transform="rotate(-0 459.12 464.85)">1</text>
     </g>
    </g>
    <g id="ytick_25">
     <g id="line2d_128">
      <g>
       <use xlink:href="#m5d545ce8f8" x="466.12" y="403.21" style="stroke: #000000; stroke-width: 0.8"/>
      </g>
     </g>
     <g id="text_71">
      <text style="font-size: 10px; font-family: 'DejaVu Sans', 'Liberation Sans', sans-serif; text-anchor: end" x="459.12" y="407.01" transform="rotate(-0 459.12 407.01)">2</text>
     </g>
    </g>
    <g id="text_72">
     <text style="font-size: 10px; font-family: 'DejaVu Sans', 'Liberation Sans', sans-serif; text-anchor: middle" x="437.63" y="525.70" transform="rotate(-90 437.63 525.70)">Mean ± SD of Coefficients</text>
    </g>
   </g>
   <g id="LineCollection_2">
    <path d="M 483.45 662.09 
L 483.45 389.30 
" clip-path="url(#p46c99e5010)" style="fill: none; stroke: #1f77b4; stroke-width: 1.5"/>
    <path d="M 490.54 662.08 
L 490.54 389.32 
" clip-path="url(#p46c99e5010)" style="fill: none; stroke: #1f77b4; stroke-width: 1.5"/>
    <path d="M 497.62 662.06 
L 497.62 389.33 
" clip-path="url(#p46c99e5010)" style="fill: none; stroke: #1f77b4; stroke-width: 1.5"/>
    <path d="M 504.71 662.04 
L 504.71 389.35 
" clip-path="url(#p46c99e5010)" style="fill: none; stroke: #1f77b4; stroke-width: 1.5"/>
    <path d="M 511.80 662.01 
L 511.80 389.37 
" clip-path="url(#p46c99e5010)" style="fill: none; stroke: #1f77b4; stroke-width: 1.5"/>
    <path d="M 518.88 661.98 
L 518.88 389.39 
" clip-path="url(#p46c99e5010)" style="fill: none; stroke: #1f77b4; stroke-width: 1.5"/>
    <path d="M 525.97 661.94 
L 525.97 389.42 
" clip-path="url(#p46c99e5010)" style="fill: none; stroke: #1f77b4; stroke-width: 1.5"/>
    <path d="M 533.05 661.90 
L 533.05 389.46 
" clip-path="url(#p46c99e5010)" style="fill: none; stroke: #1f77b4; stroke-width: 1.5"/>
    <path d="M 540.14 661.84 
L 540.14 389.50 
" clip-path="url(#p46c99e5010)" style="fill: none; stroke: #1f77b4; stroke-width: 1.5"/>
    <path d="M 547.23 661.78 
L 547.23 389.55 
" clip-path="url(#p46c99e5010)" style="fill: none; stroke: #1f77b4; stroke-width: 1.5"/>
    <path d="M 554.31 661.70 
L 554.31 389.62 
" clip-path="url(#p46c99e5010)" style="fill: none; stroke: #1f77b4; stroke-width: 1.5"/>
    <path d="M 561.40 661.60 
L 561.40 389.69 
" clip-path="url(#p46c99e5010)" style="fill: none; stroke: #1f77b4; stroke-width: 1.5"/>
    <path d="M 568.49 661.49 
L 568.49 389.78 
" clip-path="url(#p46c99e5010)" style="fill: none; stroke: #1f77b4; stroke-width: 1.5"/>
    <path d="M 575.57 661.35 
L 575.57 389.89 
" clip-path="url(#p46c99e5010)" style="fill: none; stroke: #1f77b4; stroke-width: 1.5"/>
    <path d="M 582.66 661.18 
L 582.66 390.03 
" clip-path="url(#p46c99e5010)" style="fill: none; stroke: #1f77b4; stroke-width: 1.5"/>
    <path d="M 589.75 660.98 
L 589.75 390.19 
" clip-path="url(#p46c99e5010)" style="fill: none; stroke: #1f77b4; stroke-width: 1.5"/>
    <path d="M 596.83 660.74 
L 596.83 390.38 
" clip-path="url(#p46c99e5010)" style="fill: none; stroke: #1f77b4; stroke-width: 1.5"/>
    <path d="M 603.92 660.44 
L 603.92 390.62 
" clip-path="url(#p46c99e5010)" style="fill: none; stroke: #1f77b4; stroke-width: 1.5"/>
    <path d="M 611.01 660.09 
L 611.01 390.90 
" clip-path="url(#p46c99e5010)" style="fill: none; stroke: #1f77b4; stroke-width: 1.5"/>
    <path d="M 618.09 659.66 
L 618.09 391.24 
" clip-path="url(#p46c99e5010)" style="fill: none; stroke: #1f77b4; stroke-width: 1.5"/>
    <path d="M 625.18 658.85 
L 625.18 391.53 
" clip-path="url(#p46c99e5010)" style="fill: none; stroke: #1f77b4; stroke-width: 1.5"/>
    <path d="M 632.26 657.98 
L 632.26 392.28 
" clip-path="url(#p46c99e5010)" style="fill: none; stroke: #1f77b4; stroke-width: 1.5"/>
    <path d="M 639.35 657.12 
L 639.35 393.09 
" clip-path="url(#p46c99e5010)" style="fill: none; stroke: #1f77b4; stroke-width: 1.5"/>
    <path d="M 646.44 655.96 
L 646.44 393.79 
" clip-path="url(#p46c99e5010)" style="fill: none; stroke: #1f77b4; stroke-width: 1.5"/>
    <path d="M 653.52 654.80 
L 653.52 394.48 
" clip-path="url(#p46c99e5010)" style="fill: none; stroke: #1f77b4; stroke-width: 1.5"/>
    <path d="M 660.61 653.65 
L 660.61 395.29 
" clip-path="url(#p46c99e5010)" style="fill: none; stroke: #1f77b4; stroke-width: 1.5"/>
    <path d="M 667.70 652.78 
L 667.70 396.79 
" clip-path="url(#p46c99e5010)" style="fill: none; stroke: #1f77b4; stroke-width: 1.5"/>
    <path d="M 674.78 651.91 
L 674.78 398.07 
" clip-path="url(#p46c99e5010)" style="fill: none; stroke: #1f77b4; stroke-width: 1.5"/>
    <path d="M 681.87 650.06 
L 681.87 399.57 
" clip-path="url(#p46c99e5010)" style="fill: none; stroke: #1f77b4; stroke-width: 1.5"/>
    <path d="M 688.96 647.98 
L 688.96 401.77 
" clip-path="url(#p46c99e5010)" style="fill: none; stroke: #1f77b4; stroke-width: 1.5"/>
    <path d="M 696.04 645.26 
L 696.04 404.60 
" clip-path="url(#p46c99e5010)" style="fill: none; stroke: #1f77b4; stroke-width: 1.5"/>
    <path d="M 703.13 641.56 
L 703.13 407.61 
" clip-path="url(#p46c99e5010)" style="fill: none; stroke: #1f77b4; stroke-width: 1.5"/>
    <path d="M 710.22 638.09 
L 710.22 411.14 
" clip-path="url(#p46c99e5010)" style="fill: none; stroke: #1f77b4; stroke-width: 1.5"/>
    <path d="M 717.30 632.94 
L 717.30 416.11 
" clip-path="url(#p46c99e5010)" style="fill: none; stroke: #1f77b4; stroke-width: 1.5"/>
    <path d="M 724.39 626.46 
L 724.39 421.38 
" clip-path="url(#p46c99e5010)" style="fill: none; stroke: #1f77b4; stroke-width: 1.5"/>
    <path d="M 731.47 619.87 
L 731.47 427.91 
" clip-path="url(#p46c99e5010)" style="fill: none; stroke: #1f77b4; stroke-width: 1.5"/>
    <path d="M 738.56 611.37 
L 738.56 435.72 
" clip-path="url(#p46c99e5010)" style="fill: none; stroke: #1f77b4; stroke-width: 1.5"/>
    <path d="M 745.65 600.67 
L 745.65 445.15 
" clip-path="url(#p46c99e5010)" style="fill: none; stroke: #1f77b4; stroke-width: 1.5"/>
    <path d="M 752.73 588.35 
L 752.73 456.66 
" clip-path="url(#p46c99e5010)" style="fill: none; stroke: #1f77b4; stroke-width: 1.5"/>
    <path d="M 759.82 573.25 
L 759.82 469.55 
" clip-path="url(#p46c99e5010)" style="fill: none; stroke: #1f77b4; stroke-width: 1.5"/>
    <path d="M 766.91 556.54 
L 766.91 485.40 
" clip-path="url(#p46c99e5010)" style="fill: none; stroke: #1f77b4; stroke-width: 1.5"/>
    <path d="M 773.99 540.34 
L 773.99 499.92 
" clip-path="url(#p46c99e5010)" style="fill: none; stroke: #1f77b4; stroke-width: 1.5"/>
    <path d="M 781.08 525.94 
L 781.08 509.46 
" clip-path="url(#p46c99e5010)" style="fill: none; stroke: #1f77b4; stroke-width: 1.5"/>
    <path d="M 788.17 518.89 
L 788.17 518.89 
" clip-path="url(#p46c99e5010)" style="fill: none; stroke: #1f77b4; stroke-width: 1.5"/>
    <path d="M 795.25 518.89 
L 795.25 518.89 
" clip-path="url(#p46c99e5010)" style="fill: none; stroke: #1f77b4; stroke-width: 1.5"/>
    <path d="M 802.34 518.89 
L 802.34 518.89 
" clip-path="url(#p46c99e5010)" style="fill: none; stroke: #1f77b4; stroke-width: 1.5"/>
    <path d="M 809.42 518.89 
L 809.42 518.89 
" clip-path="url(#p46c99e5010)" style="fill: none; stroke: #1f77b4; stroke-width: 1.5"/>
    <path d="M 816.51 518.89 
L 816.51 518.89 
" clip-path="url(#p46c99e5010)" style="fill: none; stroke: #1f77b4; stroke-width: 1.5"/>
    <path d="M 823.60 518.89 
L 823.60 518.89 
" clip-path="url(#p46c99e5010)" style="fill: none; stroke: #1f77b4; stroke-width: 1.5"/>
    <path d="M 830.68 518.89 
L 830.68 518.89 
" clip-path="url(#p46c99e5010)" style="fill: none; stroke: #1f77b4; stroke-width: 1.5"/>
   </g>
   <g id="line2d_129">
    <g clip-path="url(#p46c99e5010)">
     <use xlink:href="#mc7c5441340" x="483.45" y="662.09" style="fill: #1f77b4; stroke: #1f77b4"/>
     <use xlink:href="#mc7c5441340" x="490.54" y="662.08" style="fill: #1f77b4; stroke: #1f77b4"/>
     <use xlink:href="#mc7c5441340" x="497.62" y="662.06" style="fill: #1f77b4; stroke: #1f77b4"/>
     <use xlink:href="#mc7c5441340" x="504.71" y="662.04" style="fill: #1f77b4; stroke: #1f77b4"/>
     <use xlink:href="#mc7c5441340" x="511.80" y="662.01" style="fill: #1f77b4; stroke: #1f77b4"/>
     <use xlink:href="#mc7c5441340" x="518.88" y="661.98" style="fill: #1f77b4; stroke: #1f77b4"/>
     <use xlink:href="#mc7c5441340" x="525.97" y="661.94" style="fill: #1f77b4; stroke: #1f77b4"/>
     <use xlink:href="#mc7c5441340" x="533.05" y="661.90" style="fill: #1f77b4; stroke: #1f77b4"/>
     <use xlink:href="#mc7c5441340" x="540.14" y="661.84" style="fill: #1f77b4; stroke: #1f77b4"/>
     <use xlink:href="#mc7c5441340" x="547.23" y="661.78" style="fill: #1f77b4; stroke: #1f77b4"/>
     <use xlink:href="#mc7c5441340" x="554.31" y="661.70" style="fill: #1f77b4; stroke: #1f77b4"/>
     <use xlink:href="#mc7c5441340" x="561.40" y="661.60" style="fill: #1f77b4; stroke: #1f77b4"/>
     <use xlink:href="#mc7c5441340" x="568.49" y="661.49" style="fill: #1f77b4; stroke: #1f77b4"/>
     <use xlink:href="#mc7c5441340" x="575.57" y="661.35" style="fill: #1f77b4; stroke: #1f77b4"/>
     <use xlink:href="#mc7c5441340" x="582.66" y="661.18" style="fill: #1f77b4; stroke: #1f77b4"/>
     <use xlink:href="#mc7c5441340" x="589.75" y="660.98" style="fill: #1f77b4; stroke: #1f77b4"/>
     <use xlink:href="#mc7c5441340" x="596.83" y="660.74" style="fill: #1f77b4; stroke: #1f77b4"/>
     <use xlink:href="#mc7c5441340" x="603.92" y="660.44" style="fill: #1f77b4; stroke: #1f77b4"/>
     <use xlink:href="#mc7c5441340" x="611.01" y="660.09" style="fill: #1f77b4; stroke: #1f77b4"/>
     <use xlink:href="#mc7c5441340" x="618.09" y="659.66" style="fill: #1f77b4; stroke: #1f77b4"/>
     <use xlink:href="#mc7c5441340" x="625.18" y="658.85" style="fill: #1f77b4; stroke: #1f77b4"/>
     <use xlink:href="#mc7c5441340" x="632.26" y="657.98" style="fill: #1f77b4; stroke: #1f77b4"/>
     <use xlink:href="#mc7c5441340" x="639.35" y="657.12" style="fill: #1f77b4; stroke: #1f77b4"/>
     <use xlink:href="#mc7c5441340" x="646.44" y="655.96" style="fill: #1f77b4; stroke: #1f77b4"/>
     <use xlink:href="#mc7c5441340" x="653.52" y="654.80" style="fill: #1f77b4; stroke: #1f77b4"/>
     <use xlink:href="#mc7c5441340" x="660.61" y="653.65" style="fill: #1f77b4; stroke: #1f77b4"/>
     <use xlink:href="#mc7c5441340" x="667.70" y="652.78" style="fill: #1f77b4; stroke: #1f77b4"/>
     <use xlink:href="#mc7c5441340" x="674.78" y="651.91" style="fill: #1f77b4; stroke: #1f77b4"/>
     <use xlink:href="#mc7c5441340" x="681.87" y="650.06" style="fill: #1f77b4; stroke: #1f77b4"/>
     <use xlink:href="#mc7c5441340" x="688.96" y="647.98" style="fill: #1f77b4; stroke: #1f77b4"/>
     <use xlink:href="#mc7c5441340" x="696.04" y="645.26" style="fill: #1f77b4; stroke: #1f77b4"/>
     <use xlink:href="#mc7c5441340" x="703.13" y="641.56" style="fill: #1f77b4; stroke: #1f77b4"/>
     <use xlink:href="#mc7c5441340" x="710.22" y="638.09" style="fill: #1f77b4; stroke: #1f77b4"/>
     <use xlink:href="#mc7c5441340" x="717.30" y="632.94" style="fill: #1f77b4; stroke: #1f77b4"/>
     <use xlink:href="#mc7c5441340" x="724.39" y="626.46" style="fill: #1f77b4; stroke: #1f77b4"/>
     <use xlink:href="#mc7c5441340" x="731.47" y="619.87" style="fill: #1f77b4; stroke: #1f77b4"/>
     <use xlink:href="#mc7c5441340" x="738.56" y="611.37" style="fill: #1f77b4; stroke: #1f77b4"/>
     <use xlink:href="#mc7c5441340" x="745.65" y="600.67" style="fill: #1f77b4; stroke: #1f77b4"/>
     <use xlink:href="#mc7c5441340" x="752.73" y="588.35" style="fill: #1f77b4; stroke: #1f77b4"/>
     <use xlink:href="#mc7c5441340" x="759.82" y="573.25" style="fill: #1f77b4; stroke: #1f77b4"/>
     <use xlink:href="#mc7c5441340" x="766.91" y="556.54" style="fill: #1f77b4; stroke: #1f77b4"/>
     <use xlink:href="#mc7c5441340" x="773.99" y="540.34" style="fill: #1f77b4; stroke: #1f77b4"/>
     <use xlink:href="#mc7c5441340" x="781.08" y="525.94" style="fill: #1f77b4; stroke: #1f77b4"/>
     <use xlink:href="#mc7c5441340" x="788.17" y="518.89" style="fill: #1f77b4; stroke: #1f77b4"/>
     <use xlink:href="#mc7c5441340" x="795.25" y="518.89" style="fill: #1f77b4; stroke: #1f77b4"/>
     <use xlink:href="#mc7c5441340" x="802.34" y="518.89" style="fill: #1f77b4; stroke: #1f77b4"/>
     <use xlink:href="#mc7c5441340" x="809.42" y="518.89" style="fill: #1f77b4; stroke: #1f77b4"/>
     <use xlink:href="#mc7c5441340" x="816.51" y="518.89" style="fill: #1f77b4; stroke: #1f77b4"/>
     <use xlink:href="#mc7c5441340" x="823.60" y="518.89" style="fill: #1f77b4; stroke: #1f77b4"/>
     <use xlink:href="#mc7c5441340" x="830.68" y="518.89" style="fill: #1f77b4; stroke: #1f77b4"/>
    </g>
   </g>
   <g id="line2d_130">
    <g clip-path="url(#p46c99e5010)">
     <use xlink:href="#mc7c5441340" x="483.45" y="389.30" style="fill: #1f77b4; stroke: #1f77b4"/>
     <use xlink:href="#mc7c5441340" x="490.54" y="389.32" style="fill: #1f77b4; stroke: #1f77b4"/>
     <use xlink:href="#mc7c5441340" x="497.62" y="389.33" style="fill: #1f77b4; stroke: #1f77b4"/>
     <use xlink:href="#mc7c5441340" x="504.71" y="389.35" style="fill: #1f77b4; stroke: #1f77b4"/>
     <use xlink:href="#mc7c5441340" x="511.80" y="389.37" style="fill: #1f77b4; stroke: #1f77b4"/>
     <use xlink:href="#mc7c5441340" x="518.88" y="389.39" style="fill: #1f77b4; stroke: #1f77b4"/>
     <use xlink:href="#mc7c5441340" x="525.97" y="389.42" style="fill: #1f77b4; stroke: #1f77b4"/>
     <use xlink:href="#mc7c5441340" x="533.05" y="389.46" style="fill: #1f77b4; stroke: #1f77b4"/>
     <use xlink:href="#mc7c5441340" x="540.14" y="389.50" style="fill: #1f77b4; stroke: #1f77b4"/>
     <use xlink:href="#mc7c5441340" x="547.23" y="389.55" style="fill: #1f77b4; stroke: #1f77b4"/>
     <use xlink:href="#mc7c5441340" x="554.31" y="389.62" style="fill: #1f77b4; stroke: #1f77b4"/>
     <use xlink:href="#mc7c5441340" x="561.40" y="389.69" style="fill: #1f77b4; stroke: #1f77b4"/>
     <use xlink:href="#mc7c5441340" x="568.49" y="389.78" style="fill: #1f77b4; stroke: #1f77b4"/>
     <use xlink:href="#mc7c5441340" x="575.57" y="389.89" style="fill: #1f77b4; stroke: #1f77b4"/>
     <use xlink:href="#mc7c5441340" x="582.66" y="390.03" style="fill: #1f77b4; stroke: #1f77b4"/>
     <use xlink:href="#mc7c5441340" x="589.75" y="390.19" style="fill: #1f77b4; stroke: #1f77b4"/>
     <use xlink:href="#mc7c5441340" x="596.83" y="390.38" style="fill: #1f77b4; stroke: #1f77b4"/>
     <use xlink:href="#mc7c5441340" x="603.92" y="390.62" style="fill: #1f77b4; stroke: #1f77b4"/>
     <use xlink:href="#mc7c5441340" x="611.01" y="390.90" style="fill: #1f77b4; stroke: #1f77b4"/>
     <use xlink:href="#mc7c5441340" x="618.09" y="391.24" style="fill: #1f77b4; stroke: #1f77b4"/>
     <use xlink:href="#mc7c5441340" x="625.18" y="391.53" style="fill: #1f77b4; stroke: #1f77b4"/>
     <use xlink:href="#mc7c5441340" x="632.26" y="392.28" style="fill: #1f77b4; stroke: #1f77b4"/>
     <use xlink:href="#mc7c5441340" x="639.35" y="393.09" style="fill: #1f77b4; stroke: #1f77b4"/>
     <use xlink:href="#mc7c5441340" x="646.44" y="393.79" style="fill: #1f77b4; stroke: #1f77b4"/>
     <use xlink:href="#mc7c5441340" x="653.52" y="394.48" style="fill: #1f77b4; stroke: #1f77b4"/>
     <use xlink:href="#mc7c5441340" x="660.61" y="395.29" style="fill: #1f77b4; stroke: #1f77b4"/>
     <use xlink:href="#mc7c5441340" x="667.70" y="396.79" style="fill: #1f77b4; stroke: #1f77b4"/>
     <use xlink:href="#mc7c5441340" x="674.78" y="398.07" style="fill: #1f77b4; stroke: #1f77b4"/>
     <use xlink:href="#mc7c5441340" x="681.87" y="399.57" style="fill: #1f77b4; stroke: #1f77b4"/>
     <use xlink:href="#mc7c5441340" x="688.96" y="401.77" style="fill: #1f77b4; stroke: #1f77b4"/>
     <use xlink:href="#mc7c5441340" x="696.04" y="404.60" style="fill: #1f77b4; stroke: #1f77b4"/>
     <use xlink:href="#mc7c5441340" x="703.13" y="407.61" style="fill: #1f77b4; stroke: #1f77b4"/>
     <use xlink:href="#mc7c5441340" x="710.22" y="411.14" style="fill: #1f77b4; stroke: #1f77b4"/>
     <use xlink:href="#mc7c5441340" x="717.30" y="416.11" style="fill: #1f77b4; stroke: #1f77b4"/>
     <use xlink:href="#mc7c5441340" x="724.39" y="421.38" style="fill: #1f77b4; stroke: #1f77b4"/>
     <use xlink:href="#mc7c5441340" x="731.47" y="427.91" style="fill: #1f77b4; stroke: #1f77b4"/>
     <use xlink:href="#mc7c5441340" x="738.56" y="435.72" style="fill: #1f77b4; stroke: #1f77b4"/>
     <use xlink:href="#mc7c5441340" x="745.65" y="445.15" style="fill: #1f77b4; stroke: #1f77b4"/>
     <use xlink:href="#mc7c5441340" x="752.73" y="456.66" style="fill: #1f77b4; stroke: #1f77b4"/>
     <use xlink:href="#mc7c5441340" x="759.82" y="469.55" style="fill: #1f77b4; stroke: #1f77b4"/>
     <use xlink:href="#mc7c5441340" x="766.91" y="485.40" style="fill: #1f77b4; stroke: #1f77b4"/>
     <use xlink:href="#mc7c5441340" x="773.99" y="499.92" style="fill: #1f77b4; stroke: #1f77b4"/>
     <use xlink:href="#mc7c5441340" x="781.08" y="509.46" style="fill: #1f77b4; stroke: #1f77b4"/>
     <use xlink:href="#mc7c5441340" x="788.17" y="518.89" style="fill: #1f77b4; stroke: #1f77b4"/>
     <use xlink:href="#mc7c5441340" x="795.25" y="518.89" style="fill: #1f77b4; stroke: #1f77b4"/>
     <use xlink:href="#mc7c5441340" x="802.34" y="518.89" style="fill: #1f77b4; stroke: #1f77b4"/>
     <use xlink:href="#mc7c5441340" x="809.42" y="518.89" style="fill: #1f77b4; stroke: #1f77b4"/>
     <use xlink:href="#mc7c5441340" x="816.51" y="518.89" style="fill: #1f77b4; stroke: #1f77b4"/>
     <use xlink:href="#mc7c5441340" x="823.60" y="518.89" style="fill: #1f77b4; stroke: #1f77b4"/>
     <use xlink:href="#mc7c5441340" x="830.68" y="518.89" style="fill: #1f77b4; stroke: #1f77b4"/>
    </g>
   </g>
   <g id="line2d_131">
    <path d="M 769.48 675.74 
L 769.48 375.67 
" clip-path="url(#p46c99e5010)" style="fill: none; stroke-dasharray: 5.55,2.4; stroke-dashoffset: 0; stroke: #b00000; stroke-width: 1.5"/>
   </g>
   <g id="line2d_132">
    <path d="M 483.45 525.70 
L 490.54 525.70 
L 497.62 525.69 
L 504.71 525.69 
L 511.80 525.69 
L 518.88 525.69 
L 525.97 525.68 
L 533.05 525.68 
L 540.14 525.67 
L 547.23 525.67 
L 554.31 525.66 
L 561.40 525.65 
L 568.49 525.64 
L 575.57 525.62 
L 582.66 525.61 
L 589.75 525.59 
L 596.83 525.56 
L 603.92 525.53 
L 611.01 525.49 
L 618.09 525.45 
L 625.18 525.19 
L 632.26 525.13 
L 639.35 525.10 
L 646.44 524.87 
L 653.52 524.64 
L 660.61 524.47 
L 667.70 524.79 
L 674.78 524.99 
L 681.87 524.82 
L 688.96 524.87 
L 696.04 524.93 
L 703.13 524.58 
L 710.22 524.61 
L 717.30 524.53 
L 724.39 523.92 
L 731.47 523.89 
L 738.56 523.54 
L 745.65 522.91 
L 752.73 522.50 
L 759.82 521.40 
L 766.91 520.97 
L 773.99 520.13 
L 781.08 517.70 
L 788.17 518.89 
L 795.25 518.89 
L 802.34 518.89 
L 809.42 518.89 
L 816.51 518.89 
L 823.60 518.89 
L 830.68 518.89 
" clip-path="url(#p46c99e5010)" style="fill: none; stroke: #1f77b4; stroke-width: 1.5; stroke-linecap: square"/>
    <g clip-path="url(#p46c99e5010)">
     <use xlink:href="#mf14c53ed57" x="483.45" y="525.70" style="fill: #1f77b4; stroke: #1f77b4"/>
     <use xlink:href="#mf14c53ed57" x="490.54" y="525.70" style="fill: #1f77b4; stroke: #1f77b4"/>
     <use xlink:href="#mf14c53ed57" x="497.62" y="525.69" style="fill: #1f77b4; stroke: #1f77b4"/>
     <use xlink:href="#mf14c53ed57" x="504.71" y="525.69" style="fill: #1f77b4; stroke: #1f77b4"/>
     <use xlink:href="#mf14c53ed57" x="511.80" y="525.69" style="fill: #1f77b4; stroke: #1f77b4"/>
     <use xlink:href="#mf14c53ed57" x="518.88" y="525.69" style="fill: #1f77b4; stroke: #1f77b4"/>
     <use xlink:href="#mf14c53ed57" x="525.97" y="525.68" style="fill: #1f77b4; stroke: #1f77b4"/>
     <use xlink:href="#mf14c53ed57" x="533.05" y="525.68" style="fill: #1f77b4; stroke: #1f77b4"/>
     <use xlink:href="#mf14c53ed57" x="540.14" y="525.67" style="fill: #1f77b4; stroke: #1f77b4"/>
     <use xlink:href="#mf14c53ed57" x="547.23" y="525.67" style="fill: #1f77b4; stroke: #1f77b4"/>
     <use xlink:href="#mf14c53ed57" x="554.31" y="525.66" style="fill: #1f77b4; stroke: #1f77b4"/>
     <use xlink:href="#mf14c53ed57" x="561.40" y="525.65" style="fill: #1f77b4; stroke: #1f77b4"/>
     <use xlink:href="#mf14c53ed57" x="568.49" y="525.64" style="fill: #1f77b4; stroke: #1f77b4"/>
     <use xlink:href="#mf14c53ed57" x="575.57" y="525.62" style="fill: #1f77b4; stroke: #1f77b4"/>
     <use xlink:href="#mf14c53ed57" x="582.66" y="525.61" style="fill: #1f77b4; stroke: #1f77b4"/>
     <use xlink:href="#mf14c53ed57" x="589.75" y="525.59" style="fill: #1f77b4; stroke: #1f77b4"/>
     <use xlink:href="#mf14c53ed57" x="596.83" y="525.56" style="fill: #1f77b4; stroke: #1f77b4"/>
     <use xlink:href="#mf14c53ed57" x="603.92" y="525.53" style="fill: #1f77b4; stroke: #1f77b4"/>
     <use xlink:href="#mf14c53ed57" x="611.01" y="525.49" style="fill: #1f77b4; stroke: #1f77b4"/>
     <use xlink:href="#mf14c53ed57" x="618.09" y="525.45" style="fill: #1f77b4; stroke: #1f77b4"/>
     <use xlink:href="#mf14c53ed57" x="625.18" y="525.19" style="fill: #1f77b4; stroke: #1f77b4"/>
     <use xlink:href="#mf14c53ed57" x="632.26" y="525.13" style="fill: #1f77b4; stroke: #1f77b4"/>
     <use xlink:href="#mf14c53ed57" x="639.35" y="525.10" style="fill: #1f77b4; stroke: #1f77b4"/>
     <use xlink:href="#mf14c53ed57" x="646.44" y="524.87" style="fill: #1f77b4; stroke: #1f77b4"/>
     <use xlink:href="#mf14c53ed57" x="653.52" y="524.64" style="fill: #1f77b4; stroke: #1f77b4"/>
     <use xlink:href="#mf14c53ed57" x="660.61" y="524.47" style="fill: #1f77b4; stroke: #1f77b4"/>
     <use xlink:href="#mf14c53ed57" x="667.70" y="524.79" style="fill: #1f77b4; stroke: #1f77b4"/>
     <use xlink:href="#mf14c53ed57" x="674.78" y="524.99" style="fill: #1f77b4; stroke: #1f77b4"/>
     <use xlink:href="#mf14c53ed57" x="681.87" y="524.82" style="fill: #1f77b4; stroke: #1f77b4"/>
     <use xlink:href="#mf14c53ed57" x="688.96" y="524.87" style="fill: #1f77b4; stroke: #1f77b4"/>
     <use xlink:href="#mf14c53ed57" x="696.04" y="524.93" style="fill: #1f77b4; stroke: #1f77b4"/>
     <use xlink:href="#mf14c53ed57" x="703.13" y="524.58" style="fill: #1f77b4; stroke: #1f77b4"/>
     <use xlink:href="#mf14c53ed57" x="710.22" y="524.61" style="fill: #1f77b4; stroke: #1f77b4"/>
     <use xlink:href="#mf14c53ed57" x="717.30" y="524.53" style="fill: #1f77b4; stroke: #1f77b4"/>
     <use xlink:href="#mf14c53ed57" x="724.39" y="523.92" style="fill: #1f77b4; stroke: #1f77b4"/>
     <use xlink:href="#mf14c53ed57" x="731.47" y="523.89" style="fill: #1f77b4; stroke: #1f77b4"/>
     <use xlink:href="#mf14c53ed57" x="738.56" y="523.54" style="fill: #1f77b4; stroke: #1f77b4"/>
     <use xlink:href="#mf14c53ed57" x="745.65" y="522.91" style="fill: #1f77b4; stroke: #1f77b4"/>
     <use xlink:href="#mf14c53ed57" x="752.73" y="522.50" style="fill: #1f77b4; stroke: #1f77b4"/>
     <use xlink:href="#mf14c53ed57" x="759.82" y="521.40" style="fill: #1f77b4; stroke: #1f77b4"/>
     <use xlink:href="#mf14c53ed57" x="766.91" y="520.97" style="fill: #1f77b4; stroke: #1f77b4"/>
     <use xlink:href="#mf14c53ed57" x="773.99" y="520.13" style="fill: #1f77b4; stroke: #1f77b4"/>
     <use xlink:href="#mf14c53ed57" x="781.08" y="517.70" style="fill: #1f77b4; stroke: #1f77b4"/>
     <use xlink:href="#mf14c53ed57" x="788.17" y="518.89" style="fill: #1f77b4; stroke: #1f77b4"/>
     <use xlink:href="#mf14c53ed57" x="795.25" y="518.89" style="fill: #1f77b4; stroke: #1f77b4"/>
     <use xlink:href="#mf14c53ed57" x="802.34" y="518.89" style="fill: #1f77b4; stroke: #1f77b4"/>
     <use xlink:href="#mf14c53ed57" x="809.42" y="518.89" style="fill: #1f77b4; stroke: #1f77b4"/>
     <use xlink:href="#mf14c53ed57" x="816.51" y="518.89" style="fill: #1f77b4; stroke: #1f77b4"/>
     <use xlink:href="#mf14c53ed57" x="823.60" y="518.89" style="fill: #1f77b4; stroke: #1f77b4"/>
     <use xlink:href="#mf14c53ed57" x="830.68" y="518.89" style="fill: #1f77b4; stroke: #1f77b4"/>
    </g>
   </g>
   <g id="patch_18">
    <path d="M 466.12 675.74 
L 466.12 375.67 
" style="fill: none; stroke: #000000; stroke-width: 0.8; stroke-linejoin: miter; stroke-linecap: square"/>
   </g>
   <g id="patch_19">
    <path d="M 848.01 675.74 
L 848.01 375.67 
" style="fill: none; stroke: #000000; stroke-width: 0.8; stroke-linejoin: miter; stroke-linecap: square"/>
   </g>
   <g id="patch_20">
    <path d="M 466.12 675.74 
L 848.01 675.74 
" style="fill: none; stroke: #000000; stroke-width: 0.8; stroke-linejoin: miter; stroke-linecap: square"/>
   </g>
   <g id="patch_21">
    <path d="M 466.12 375.67 
L 848.01 375.67 
" style="fill: none; stroke: #000000; stroke-width: 0.8; stroke-linejoin: miter; stroke-linecap: square"/>
   </g>
   <g id="text_73">
    <text style="font-size: 12px; font-family: 'DejaVu Sans', 'Liberation Sans', sans-serif; text-anchor: middle" x="657.07" y="369.67" transform="matrix(1.0070 0 0 1.0600 -4.599 -22.612)">Coefficient Stability for T2-W</text>
   </g>
  </g>
  <g id="axes_5">
   <g id="patch_22">
    <path d="M 37.99 1033.77 
L 419.04 1033.77 
L 419.04 733.72 
L 37.99 733.72 
z
" style="fill: #ffffff"/>
   </g>
   <g id="matplotlib.axis_9">
    <g id="xtick_37">
     <g id="line2d_133">
      <g>
       <use xlink:href="#m1504cfccaf" x="55.34" y="1033.77" style="stroke: #000000; stroke-width: 0.8"/>
      </g>
     </g>
     <g id="text_74">
      <text style="font-size: 10px; font-family: 'DejaVu Sans', 'Liberation Sans', sans-serif; text-anchor: middle" x="55.34" y="1048.37" transform="rotate(-0 55.34 1048.37)">−3.0</text>
     </g>
    </g>
    <g id="xtick_38">
     <g id="line2d_134">
      <g>
       <use xlink:href="#m1504cfccaf" x="98.73" y="1033.77" style="stroke: #000000; stroke-width: 0.8"/>
      </g>
     </g>
     <g id="text_75">
      <text style="font-size: 10px; font-family: 'DejaVu Sans', 'Liberation Sans', sans-serif; text-anchor: middle" x="98.73" y="1048.37" transform="rotate(-0 98.73 1048.37)">−2.5</text>
     </g>
    </g>
    <g id="xtick_39">
     <g id="line2d_135">
      <g>
       <use xlink:href="#m1504cfccaf" x="142.13" y="1033.77" style="stroke: #000000; stroke-width: 0.8"/>
      </g>
     </g>
     <g id="text_76">
      <text style="font-size: 10px; font-family: 'DejaVu Sans', 'Liberation Sans', sans-serif; text-anchor: middle" x="142.13" y="1048.37" transform="rotate(-0 142.13 1048.37)">−2.0</text>
     </g>
    </g>
    <g id="xtick_40">
     <g id="line2d_136">
      <g>
       <use xlink:href="#m1504cfccaf" x="185.52" y="1033.77" style="stroke: #000000; stroke-width: 0.8"/>
      </g>
     </g>
     <g id="text_77">
      <text style="font-size: 10px; font-family: 'DejaVu Sans', 'Liberation Sans', sans-serif; text-anchor: middle" x="185.52" y="1048.37" transform="rotate(-0 185.52 1048.37)">−1.5</text>
     </g>
    </g>
    <g id="xtick_41">
     <g id="line2d_137">
      <g>
       <use xlink:href="#m1504cfccaf" x="228.92" y="1033.77" style="stroke: #000000; stroke-width: 0.8"/>
      </g>
     </g>
     <g id="text_78">
      <text style="font-size: 10px; font-family: 'DejaVu Sans', 'Liberation Sans', sans-serif; text-anchor: middle" x="228.92" y="1048.37" transform="rotate(-0 228.92 1048.37)">−1.0</text>
     </g>
    </g>
    <g id="xtick_42">
     <g id="line2d_138">
      <g>
       <use xlink:href="#m1504cfccaf" x="272.31" y="1033.77" style="stroke: #000000; stroke-width: 0.8"/>
      </g>
     </g>
     <g id="text_79">
      <text style="font-size: 10px; font-family: 'DejaVu Sans', 'Liberation Sans', sans-serif; text-anchor: middle" x="272.31" y="1048.37" transform="rotate(-0 272.31 1048.37)">−0.5</text>
     </g>
    </g>
    <g id="xtick_43">
     <g id="line2d_139">
      <g>
       <use xlink:href="#m1504cfccaf" x="315.71" y="1033.77" style="stroke: #000000; stroke-width: 0.8"/>
      </g>
     </g>
     <g id="text_80">
      <text style="font-size: 10px; font-family: 'DejaVu Sans', 'Liberation Sans', sans-serif; text-anchor: middle" x="315.71" y="1048.37" transform="rotate(-0 315.71 1048.37)">0.0</text>
     </g>
    </g>
    <g id="xtick_44">
     <g id="line2d_140">
      <g>
       <use xlink:href="#m1504cfccaf" x="359.10" y="1033.77" style="stroke: #000000; stroke-width: 0.8"/>
      </g>
     </g>
     <g id="text_81">
      <text style="font-size: 10px; font-family: 'DejaVu Sans', 'Liberation Sans', sans-serif; text-anchor: middle" x="359.10" y="1048.37" transform="rotate(-0 359.10 1048.37)">0.5</text>
     </g>
    </g>
    <g id="xtick_45">
     <g id="line2d_141">
      <g>
       <use xlink:href="#m1504cfccaf" x="402.50" y="1033.77" style="stroke: #000000; stroke-width: 0.8"/>
      </g>
     </g>
     <g id="text_82">
      <text style="font-size: 10px; font-family: 'DejaVu Sans', 'Liberation Sans', sans-serif; text-anchor: middle" x="402.50" y="1048.37" transform="rotate(-0 402.50 1048.37)">1.0</text>
     </g>
    </g>
    <g id="text_83">
     <text style="font-size: 10px; font-family: 'DejaVu Sans', 'Liberation Sans', sans-serif; text-anchor: middle" x="228.51" y="1062.05" transform="rotate(-0 228.51 1062.05)">log(Alpha)</text>
    </g>
   </g>
   <g id="matplotlib.axis_10">
    <g id="ytick_26">
     <g id="line2d_142">
      <g>
       <use xlink:href="#m5d545ce8f8" x="37.99" y="1025.18" style="stroke: #000000; stroke-width: 0.8"/>
      </g>
     </g>
     <g id="text_84">
      <text style="font-size: 10px; font-family: 'DejaVu Sans', 'Liberation Sans', sans-serif; text-anchor: end" x="30.99" y="1028.98" transform="rotate(-0 30.99 1028.98)">−3</text>
     </g>
    </g>
    <g id="ytick_27">
     <g id="line2d_143">
      <g>
       <use xlink:href="#m5d545ce8f8" x="37.99" y="983.45" style="stroke: #000000; stroke-width: 0.8"/>
      </g>
     </g>
     <g id="text_85">
      <text style="font-size: 10px; font-family: 'DejaVu Sans', 'Liberation Sans', sans-serif; text-anchor: end" x="30.99" y="987.25" transform="rotate(-0 30.99 987.25)">−2</text>
     </g>
    </g>
    <g id="ytick_28">
     <g id="line2d_144">
      <g>
       <use xlink:href="#m5d545ce8f8" x="37.99" y="941.72" style="stroke: #000000; stroke-width: 0.8"/>
      </g>
     </g>
     <g id="text_86">
      <text style="font-size: 10px; font-family: 'DejaVu Sans', 'Liberation Sans', sans-serif; text-anchor: end" x="30.99" y="945.52" transform="rotate(-0 30.99 945.52)">−1</text>
     </g>
    </g>
    <g id="ytick_29">
     <g id="line2d_145">
      <g>
       <use xlink:href="#m5d545ce8f8" x="37.99" y="900.00" style="stroke: #000000; stroke-width: 0.8"/>
      </g>
     </g>
     <g id="text_87">
      <text style="font-size: 10px; font-family: 'DejaVu Sans', 'Liberation Sans', sans-serif; text-anchor: end" x="30.99" y="903.80" transform="rotate(-0 30.99 903.80)">0</text>
     </g>
    </g>
    <g id="ytick_30">
     <g id="line2d_146">
      <g>
       <use xlink:href="#m5d545ce8f8" x="37.99" y="858.27" style="stroke: #000000; stroke-width: 0.8"/>
      </g>
     </g>
     <g id="text_88">
      <text style="font-size: 10px; font-family: 'DejaVu Sans', 'Liberation Sans', sans-serif; text-anchor: end" x="30.99" y="862.07" transform="rotate(-0 30.99 862.07)">1</text>
     </g>
    </g>
    <g id="ytick_31">
     <g id="line2d_147">
      <g>
       <use xlink:href="#m5d545ce8f8" x="37.99" y="816.54" style="stroke: #000000; stroke-width: 0.8"/>
      </g>
     </g>
     <g id="text_89">
      <text style="font-size: 10px; font-family: 'DejaVu Sans', 'Liberation Sans', sans-serif; text-anchor: end" x="30.99" y="820.34" transform="rotate(-0 30.99 820.34)">2</text>
     </g>
    </g>
    <g id="ytick_32">
     <g id="line2d_148">
      <g>
       <use xlink:href="#m5d545ce8f8" x="37.99" y="774.81" style="stroke: #000000; stroke-width: 0.8"/>
      </g>
     </g>
     <g id="text_90">
      <text style="font-size: 10px; font-family: 'DejaVu Sans', 'Liberation Sans', sans-serif; text-anchor: end" x="30.99" y="778.61" transform="rotate(-0 30.99 778.61)">3</text>
     </g>
    </g>
    <g id="text_91">
     <text style="font-size: 10px; font-family: 'DejaVu Sans', 'Liberation Sans', sans-serif; text-anchor: middle" x="8.62" y="883.75" transform="rotate(-90 8.62 883.75)">LASSO Coefficients</text>
    </g>
   </g>
   <g id="line2d_149">
    <path d="M 55.34 747.04 
L 62.42 747.05 
L 69.51 747.06 
L 76.59 747.06 
L 83.68 747.07 
L 90.76 747.08 
L 97.85 747.10 
L 104.93 747.12 
L 112.02 747.14 
L 119.10 747.16 
L 126.19 747.19 
L 133.27 747.23 
L 140.36 747.28 
L 147.44 747.33 
L 154.53 747.40 
L 161.61 747.48 
L 168.70 747.59 
L 175.78 747.71 
L 182.87 747.86 
L 189.95 748.05 
L 197.04 748.27 
L 204.12 748.55 
L 211.21 748.88 
L 218.29 749.30 
L 225.38 749.80 
L 232.46 750.41 
L 239.55 751.15 
L 246.63 752.07 
L 253.72 753.18 
L 260.80 754.54 
L 267.89 756.19 
L 274.97 758.21 
L 282.06 760.68 
L 289.14 763.69 
L 296.23 767.37 
L 303.31 771.86 
L 310.40 777.33 
L 317.48 784.02 
L 324.57 792.17 
L 331.65 802.13 
L 338.73 814.28 
L 345.82 829.10 
L 352.90 847.20 
L 359.99 869.29 
L 367.07 896.25 
L 374.16 899.16 
L 381.24 900.00 
L 388.33 900.00 
L 395.41 900.00 
L 402.50 900.00 
" clip-path="url(#p7f65d80952)" style="fill: none; stroke: #9467bd; stroke-width: 1.5; stroke-linecap: square"/>
   </g>
   <g id="line2d_150">
    <path d="M 55.34 765.98 
L 62.42 765.99 
L 69.51 766.01 
L 76.59 766.02 
L 83.68 766.05 
L 90.76 766.07 
L 97.85 766.10 
L 104.93 766.14 
L 112.02 766.18 
L 119.10 766.23 
L 126.19 766.30 
L 133.27 766.38 
L 140.36 766.47 
L 147.44 766.58 
L 154.53 766.72 
L 161.61 766.88 
L 168.70 767.08 
L 175.78 767.32 
L 182.87 767.61 
L 189.95 767.96 
L 197.04 768.38 
L 204.12 768.89 
L 211.21 769.50 
L 218.29 770.24 
L 225.38 771.13 
L 232.46 772.21 
L 239.55 773.51 
L 246.63 775.07 
L 253.72 776.97 
L 260.80 779.25 
L 267.89 782.01 
L 274.97 785.33 
L 282.06 789.34 
L 289.14 794.19 
L 296.23 800.03 
L 303.31 807.08 
L 310.40 815.60 
L 317.48 825.87 
L 324.57 838.26 
L 331.65 853.22 
L 338.73 871.28 
L 345.82 893.06 
L 352.90 900.00 
L 359.99 900.00 
L 367.07 900.00 
L 374.16 900.00 
L 381.24 900.00 
L 388.33 900.00 
L 395.41 900.00 
L 402.50 900.00 
" clip-path="url(#p7f65d80952)" style="fill: none; stroke: #17becf; stroke-width: 1.5; stroke-linecap: square"/>
   </g>
   <g id="line2d_151">
    <path d="M 55.34 773.82 
L 62.42 773.83 
L 69.51 773.85 
L 76.59 773.86 
L 83.68 773.88 
L 90.76 773.91 
L 97.85 773.94 
L 104.93 773.97 
L 112.02 774.01 
L 119.10 774.06 
L 126.19 774.12 
L 133.27 774.19 
L 140.36 774.28 
L 147.44 774.39 
L 154.53 774.52 
L 161.61 774.67 
L 168.70 774.86 
L 175.78 775.08 
L 182.87 775.36 
L 189.95 775.68 
L 197.04 776.08 
L 204.12 776.56 
L 211.21 777.13 
L 218.29 777.83 
L 225.38 778.67 
L 232.46 779.68 
L 239.55 780.91 
L 246.63 782.38 
L 253.72 784.17 
L 260.80 786.31 
L 267.89 788.91 
L 274.97 792.04 
L 282.06 795.82 
L 289.14 800.38 
L 296.23 805.88 
L 303.31 812.52 
L 310.40 820.53 
L 317.48 830.21 
L 324.57 841.88 
L 331.65 855.96 
L 338.73 872.96 
L 345.82 893.47 
L 352.90 900.00 
L 359.99 900.00 
L 367.07 900.00 
L 374.16 900.00 
L 381.24 900.00 
L 388.33 900.00 
L 395.41 900.00 
L 402.50 900.00 
" clip-path="url(#p7f65d80952)" style="fill: none; stroke: #ff7f0e; stroke-width: 1.5; stroke-linecap: square"/>
   </g>
   <g id="line2d_152">
    <path d="M 55.34 784.71 
L 62.42 784.72 
L 69.51 784.73 
L 76.59 784.75 
L 83.68 784.76 
L 90.76 784.79 
L 97.85 784.81 
L 104.93 784.84 
L 112.02 784.88 
L 119.10 784.93 
L 126.19 784.98 
L 133.27 785.05 
L 140.36 785.13 
L 147.44 785.23 
L 154.53 785.34 
L 161.61 785.49 
L 168.70 785.66 
L 175.78 785.86 
L 182.87 786.11 
L 189.95 786.41 
L 197.04 786.77 
L 204.12 787.21 
L 211.21 787.74 
L 218.29 788.37 
L 225.38 789.14 
L 232.46 790.06 
L 239.55 791.18 
L 246.63 792.53 
L 253.72 794.16 
L 260.80 796.12 
L 267.89 798.49 
L 274.97 801.35 
L 282.06 804.81 
L 289.14 808.97 
L 296.23 814.00 
L 303.31 820.07 
L 310.40 827.39 
L 317.48 836.23 
L 324.57 846.89 
L 331.65 859.76 
L 338.73 875.29 
L 345.82 894.03 
L 352.90 900.00 
L 359.99 900.00 
L 367.07 900.00 
L 374.16 900.00 
L 381.24 900.00 
L 388.33 900.00 
L 395.41 900.00 
L 402.50 900.00 
" clip-path="url(#p7f65d80952)" style="fill: none; stroke: #2ca02c; stroke-width: 1.5; stroke-linecap: square"/>
   </g>
   <g id="line2d_153">
    <path d="M 55.34 794.93 
L 62.42 794.94 
L 69.51 794.95 
L 76.59 794.96 
L 83.68 794.98 
L 90.76 795.00 
L 97.85 795.03 
L 104.93 795.05 
L 112.02 795.09 
L 119.10 795.13 
L 126.19 795.18 
L 133.27 795.25 
L 140.36 795.32 
L 147.44 795.41 
L 154.53 795.52 
L 161.61 795.65 
L 168.70 795.81 
L 175.78 796.00 
L 182.87 796.24 
L 189.95 796.52 
L 197.04 796.85 
L 204.12 797.26 
L 211.21 797.75 
L 218.29 798.34 
L 225.38 799.06 
L 232.46 799.92 
L 239.55 800.97 
L 246.63 802.22 
L 253.72 803.74 
L 260.80 805.57 
L 267.89 807.78 
L 274.97 810.45 
L 282.06 813.67 
L 289.14 817.56 
L 296.23 822.25 
L 303.31 827.90 
L 310.40 834.73 
L 317.48 842.97 
L 324.57 852.92 
L 331.65 864.92 
L 338.73 879.40 
L 345.82 896.88 
L 352.90 900.00 
L 359.99 900.00 
L 367.07 900.00 
L 374.16 900.00 
L 381.24 900.00 
L 388.33 900.00 
L 395.41 900.00 
L 402.50 900.00 
" clip-path="url(#p7f65d80952)" style="fill: none; stroke: #d62728; stroke-width: 1.5; stroke-linecap: square"/>
   </g>
   <g id="line2d_154">
    <path d="M 55.34 806.40 
L 62.42 806.41 
L 69.51 806.42 
L 76.59 806.43 
L 83.68 806.45 
L 90.76 806.46 
L 97.85 806.48 
L 104.93 806.51 
L 112.02 806.54 
L 119.10 806.58 
L 126.19 806.63 
L 133.27 806.68 
L 140.36 806.75 
L 147.44 806.83 
L 154.53 806.93 
L 161.61 807.04 
L 168.70 807.19 
L 175.78 807.36 
L 182.87 807.56 
L 189.95 807.81 
L 197.04 808.11 
L 204.12 808.48 
L 211.21 808.91 
L 218.29 809.44 
L 225.38 810.08 
L 232.46 810.85 
L 239.55 811.78 
L 246.63 812.90 
L 253.72 814.25 
L 260.80 815.88 
L 267.89 817.85 
L 274.97 820.23 
L 282.06 823.10 
L 289.14 826.56 
L 296.23 830.73 
L 303.31 835.78 
L 310.40 841.86 
L 317.48 849.20 
L 324.57 858.06 
L 331.65 868.75 
L 338.73 881.65 
L 345.82 897.22 
L 352.90 900.00 
L 359.99 900.00 
L 367.07 900.00 
L 374.16 900.00 
L 381.24 900.00 
L 388.33 900.00 
L 395.41 900.00 
L 402.50 900.00 
" clip-path="url(#p7f65d80952)" style="fill: none; stroke: #2ca02c; stroke-width: 1.5; stroke-linecap: square"/>
   </g>
   <g id="line2d_155">
    <path d="M 55.34 808.40 
L 62.42 808.41 
L 69.51 808.42 
L 76.59 808.43 
L 83.68 808.45 
L 90.76 808.46 
L 97.85 808.49 
L 104.93 808.51 
L 112.02 808.54 
L 119.10 808.58 
L 126.19 808.62 
L 133.27 808.68 
L 140.36 808.74 
L 147.44 808.82 
L 154.53 808.92 
L 161.61 809.03 
L 168.70 809.17 
L 175.78 809.34 
L 182.87 809.54 
L 189.95 809.78 
L 197.04 810.08 
L 204.12 810.43 
L 211.21 810.86 
L 218.29 811.38 
L 225.38 812.00 
L 232.46 812.76 
L 239.55 813.66 
L 246.63 814.76 
L 253.72 816.08 
L 260.80 817.68 
L 267.89 819.61 
L 274.97 821.93 
L 282.06 824.74 
L 289.14 828.13 
L 296.23 832.22 
L 303.31 837.15 
L 310.40 843.10 
L 317.48 850.29 
L 324.57 858.96 
L 331.65 869.42 
L 338.73 882.04 
L 345.82 897.28 
L 352.90 900.00 
L 359.99 900.00 
L 367.07 900.00 
L 374.16 900.00 
L 381.24 900.00 
L 388.33 900.00 
L 395.41 900.00 
L 402.50 900.00 
" clip-path="url(#p7f65d80952)" style="fill: none; stroke: #17becf; stroke-width: 1.5; stroke-linecap: square"/>
   </g>
   <g id="line2d_156">
    <path d="M 55.34 811.27 
L 62.42 811.28 
L 69.51 811.29 
L 76.59 811.29 
L 83.68 811.31 
L 90.76 811.32 
L 97.85 811.34 
L 104.93 811.36 
L 112.02 811.38 
L 119.10 811.41 
L 126.19 811.44 
L 133.27 811.48 
L 140.36 811.53 
L 147.44 811.60 
L 154.53 811.67 
L 161.61 811.76 
L 168.70 811.86 
L 175.78 811.99 
L 182.87 812.15 
L 189.95 812.34 
L 197.04 812.56 
L 204.12 812.83 
L 211.21 813.16 
L 218.29 813.56 
L 225.38 814.04 
L 232.46 814.62 
L 239.55 815.32 
L 246.63 816.16 
L 253.72 817.18 
L 260.80 818.41 
L 267.89 819.89 
L 274.97 821.68 
L 282.06 823.84 
L 289.14 826.45 
L 296.23 829.59 
L 303.31 833.39 
L 310.40 837.97 
L 317.48 843.50 
L 324.57 850.17 
L 331.65 858.22 
L 338.73 867.93 
L 345.82 879.65 
L 352.90 892.74 
L 359.99 899.41 
L 367.07 900.00 
L 374.16 900.00 
L 381.24 900.00 
L 388.33 900.00 
L 395.41 900.00 
L 402.50 900.00 
" clip-path="url(#p7f65d80952)" style="fill: none; stroke: #1f77b4; stroke-width: 1.5; stroke-linecap: square"/>
   </g>
   <g id="line2d_157">
    <path d="M 55.34 817.54 
L 62.42 817.54 
L 69.51 817.55 
L 76.59 817.56 
L 83.68 817.58 
L 90.76 817.59 
L 97.85 817.61 
L 104.93 817.64 
L 112.02 817.67 
L 119.10 817.70 
L 126.19 817.74 
L 133.27 817.79 
L 140.36 817.85 
L 147.44 817.92 
L 154.53 818.01 
L 161.61 818.12 
L 168.70 818.25 
L 175.78 818.40 
L 182.87 818.59 
L 189.95 818.81 
L 197.04 819.08 
L 204.12 819.41 
L 211.21 819.80 
L 218.29 820.28 
L 225.38 820.85 
L 232.46 821.55 
L 239.55 822.39 
L 246.63 823.40 
L 253.72 824.61 
L 260.80 826.09 
L 267.89 827.86 
L 274.97 830.00 
L 282.06 832.59 
L 289.14 835.71 
L 296.23 839.48 
L 303.31 844.02 
L 310.40 849.50 
L 317.48 856.12 
L 324.57 864.11 
L 331.65 873.75 
L 338.73 885.38 
L 345.82 899.42 
L 352.90 900.00 
L 359.99 900.00 
L 367.07 900.00 
L 374.16 900.00 
L 381.24 900.00 
L 388.33 900.00 
L 395.41 900.00 
L 402.50 900.00 
" clip-path="url(#p7f65d80952)" style="fill: none; stroke: #d62728; stroke-width: 1.5; stroke-linecap: square"/>
   </g>
   <g id="line2d_158">
    <path d="M 55.34 820.04 
L 62.42 820.05 
L 69.51 820.06 
L 76.59 820.07 
L 83.68 820.08 
L 90.76 820.10 
L 97.85 820.11 
L 104.93 820.14 
L 112.02 820.16 
L 119.10 820.20 
L 126.19 820.24 
L 133.27 820.29 
L 140.36 820.34 
L 147.44 820.42 
L 154.53 820.50 
L 161.61 820.60 
L 168.70 820.73 
L 175.78 820.88 
L 182.87 821.06 
L 189.95 821.27 
L 197.04 821.54 
L 204.12 821.85 
L 211.21 822.24 
L 218.29 822.70 
L 225.38 823.26 
L 232.46 823.93 
L 239.55 824.74 
L 246.63 825.72 
L 253.72 826.90 
L 260.80 828.33 
L 267.89 830.05 
L 274.97 832.13 
L 282.06 834.64 
L 289.14 837.66 
L 296.23 841.31 
L 303.31 845.72 
L 310.40 851.04 
L 317.48 857.45 
L 324.57 865.20 
L 331.65 874.54 
L 338.73 885.82 
L 345.82 899.43 
L 352.90 900.00 
L 359.99 900.00 
L 367.07 900.00 
L 374.16 900.00 
L 381.24 900.00 
L 388.33 900.00 
L 395.41 900.00 
L 402.50 900.00 
" clip-path="url(#p7f65d80952)" style="fill: none; stroke: #7f7f7f; stroke-width: 1.5; stroke-linecap: square"/>
   </g>
   <g id="line2d_159">
    <path d="M 55.34 823.33 
L 62.42 823.34 
L 69.51 823.35 
L 76.59 823.36 
L 83.68 823.37 
L 90.76 823.39 
L 97.85 823.41 
L 104.93 823.43 
L 112.02 823.45 
L 119.10 823.49 
L 126.19 823.52 
L 133.27 823.57 
L 140.36 823.63 
L 147.44 823.69 
L 154.53 823.78 
L 161.61 823.87 
L 168.70 823.99 
L 175.78 824.14 
L 182.87 824.31 
L 189.95 824.52 
L 197.04 824.77 
L 204.12 825.07 
L 211.21 825.44 
L 218.29 825.88 
L 225.38 826.42 
L 232.46 827.06 
L 239.55 827.84 
L 246.63 828.78 
L 253.72 829.91 
L 260.80 831.28 
L 267.89 832.93 
L 274.97 834.92 
L 282.06 837.33 
L 289.14 840.23 
L 296.23 843.73 
L 303.31 847.96 
L 310.40 853.05 
L 317.48 859.21 
L 324.57 866.63 
L 331.65 875.59 
L 338.73 886.41 
L 345.82 899.46 
L 352.90 900.00 
L 359.99 900.00 
L 367.07 900.00 
L 374.16 900.00 
L 381.24 900.00 
L 388.33 900.00 
L 395.41 900.00 
L 402.50 900.00 
" clip-path="url(#p7f65d80952)" style="fill: none; stroke: #e377c2; stroke-width: 1.5; stroke-linecap: square"/>
   </g>
   <g id="line2d_160">
    <path d="M 55.34 822.12 
L 62.42 822.13 
L 69.51 822.14 
L 76.59 822.15 
L 83.68 822.16 
L 90.76 822.18 
L 97.85 822.20 
L 104.93 822.22 
L 112.02 822.25 
L 119.10 822.28 
L 126.19 822.32 
L 133.27 822.37 
L 140.36 822.42 
L 147.44 822.49 
L 154.53 822.57 
L 161.61 822.67 
L 168.70 822.79 
L 175.78 822.94 
L 182.87 823.12 
L 189.95 823.33 
L 197.04 823.58 
L 204.12 823.89 
L 211.21 824.27 
L 218.29 824.71 
L 225.38 825.26 
L 232.46 825.91 
L 239.55 826.70 
L 246.63 827.66 
L 253.72 828.81 
L 260.80 830.20 
L 267.89 831.87 
L 274.97 833.90 
L 282.06 836.34 
L 289.14 839.29 
L 296.23 842.84 
L 303.31 847.13 
L 310.40 852.31 
L 317.48 858.56 
L 324.57 866.11 
L 331.65 875.21 
L 338.73 886.19 
L 345.82 899.45 
L 352.90 900.00 
L 359.99 900.00 
L 367.07 900.00 
L 374.16 900.00 
L 381.24 900.00 
L 388.33 900.00 
L 395.41 900.00 
L 402.50 900.00 
" clip-path="url(#p7f65d80952)" style="fill: none; stroke: #8c564b; stroke-width: 1.5; stroke-linecap: square"/>
   </g>
   <g id="line2d_161">
    <path d="M 55.34 824.04 
L 62.42 824.05 
L 69.51 824.06 
L 76.59 824.07 
L 83.68 824.08 
L 90.76 824.10 
L 97.85 824.12 
L 104.93 824.14 
L 112.02 824.17 
L 119.10 824.20 
L 126.19 824.24 
L 133.27 824.28 
L 140.36 824.34 
L 147.44 824.41 
L 154.53 824.49 
L 161.61 824.59 
L 168.70 824.71 
L 175.78 824.86 
L 182.87 825.03 
L 189.95 825.24 
L 197.04 825.50 
L 204.12 825.81 
L 211.21 826.18 
L 218.29 826.63 
L 225.38 827.17 
L 232.46 827.82 
L 239.55 828.61 
L 246.63 829.57 
L 253.72 830.72 
L 260.80 832.10 
L 267.89 833.78 
L 274.97 835.79 
L 282.06 838.23 
L 289.14 841.17 
L 296.23 844.72 
L 303.31 849.01 
L 310.40 854.18 
L 317.48 860.41 
L 324.57 867.94 
L 331.65 877.03 
L 338.73 887.99 
L 345.82 900.00 
L 352.90 900.00 
L 359.99 900.00 
L 367.07 900.00 
L 374.16 900.00 
L 381.24 900.00 
L 388.33 900.00 
L 395.41 900.00 
L 402.50 900.00 
" clip-path="url(#p7f65d80952)" style="fill: none; stroke: #9467bd; stroke-width: 1.5; stroke-linecap: square"/>
   </g>
   <g id="line2d_162">
    <path d="M 55.34 829.22 
L 62.42 829.22 
L 69.51 829.23 
L 76.59 829.24 
L 83.68 829.25 
L 90.76 829.27 
L 97.85 829.28 
L 104.93 829.30 
L 112.02 829.33 
L 119.10 829.36 
L 126.19 829.40 
L 133.27 829.44 
L 140.36 829.49 
L 147.44 829.56 
L 154.53 829.63 
L 161.61 829.73 
L 168.70 829.84 
L 175.78 829.97 
L 182.87 830.14 
L 189.95 830.33 
L 197.04 830.57 
L 204.12 830.86 
L 211.21 831.21 
L 218.29 831.63 
L 225.38 832.13 
L 232.46 832.74 
L 239.55 833.47 
L 246.63 834.36 
L 253.72 835.43 
L 260.80 836.73 
L 267.89 838.28 
L 274.97 840.17 
L 282.06 842.44 
L 289.14 845.18 
L 296.23 848.49 
L 303.31 852.48 
L 310.40 857.30 
L 317.48 863.11 
L 324.57 870.12 
L 331.65 878.59 
L 338.73 888.81 
L 345.82 900.00 
L 352.90 900.00 
L 359.99 900.00 
L 367.07 900.00 
L 374.16 900.00 
L 381.24 900.00 
L 388.33 900.00 
L 395.41 900.00 
L 402.50 900.00 
" clip-path="url(#p7f65d80952)" style="fill: none; stroke: #1f77b4; stroke-width: 1.5; stroke-linecap: square"/>
   </g>
   <g id="line2d_163">
    <path d="M 55.34 842.57 
L 62.42 842.57 
L 69.51 842.58 
L 76.59 842.59 
L 83.68 842.60 
L 90.76 842.61 
L 97.85 842.63 
L 104.93 842.64 
L 112.02 842.67 
L 119.10 842.69 
L 126.19 842.73 
L 133.27 842.76 
L 140.36 842.81 
L 147.44 842.87 
L 154.53 842.94 
L 161.61 843.02 
L 168.70 843.12 
L 175.78 843.24 
L 182.87 843.39 
L 189.95 843.56 
L 197.04 843.77 
L 204.12 844.03 
L 211.21 844.34 
L 218.29 844.71 
L 225.38 845.16 
L 232.46 845.70 
L 239.55 846.35 
L 246.63 847.14 
L 253.72 848.10 
L 260.80 849.25 
L 267.89 850.63 
L 274.97 852.31 
L 282.06 854.33 
L 289.14 856.77 
L 296.23 859.71 
L 303.31 863.26 
L 310.40 867.55 
L 317.48 872.72 
L 324.57 878.96 
L 331.65 886.49 
L 338.73 895.58 
L 345.82 900.00 
L 352.90 900.00 
L 359.99 900.00 
L 367.07 900.00 
L 374.16 900.00 
L 381.24 900.00 
L 388.33 900.00 
L 395.41 900.00 
L 402.50 900.00 
" clip-path="url(#p7f65d80952)" style="fill: none; stroke: #bcbd22; stroke-width: 1.5; stroke-linecap: square"/>
   </g>
   <g id="line2d_164">
    <path d="M 55.34 922.06 
L 62.42 922.06 
L 69.51 922.05 
L 76.59 922.05 
L 83.68 922.05 
L 90.76 922.04 
L 97.85 922.03 
L 104.93 922.03 
L 112.02 922.02 
L 119.10 922.01 
L 126.19 922.00 
L 133.27 921.98 
L 140.36 921.96 
L 147.44 921.94 
L 154.53 921.91 
L 161.61 921.88 
L 168.70 921.84 
L 175.78 921.79 
L 182.87 921.74 
L 189.95 921.67 
L 197.04 921.58 
L 204.12 921.48 
L 211.21 921.36 
L 218.29 921.22 
L 225.38 921.04 
L 232.46 920.83 
L 239.55 920.57 
L 246.63 920.26 
L 253.72 919.88 
L 260.80 919.43 
L 267.89 918.89 
L 274.97 918.23 
L 282.06 917.43 
L 289.14 916.48 
L 296.23 915.32 
L 303.31 913.92 
L 310.40 912.24 
L 317.48 910.20 
L 324.57 907.75 
L 331.65 904.79 
L 338.73 901.22 
L 345.82 900.00 
L 352.90 900.00 
L 359.99 900.00 
L 367.07 900.00 
L 374.16 900.00 
L 381.24 900.00 
L 388.33 900.00 
L 395.41 900.00 
L 402.50 900.00 
" clip-path="url(#p7f65d80952)" style="fill: none; stroke: #7f7f7f; stroke-width: 1.5; stroke-linecap: square"/>
   </g>
   <g id="line2d_165">
    <path d="M 55.34 975.41 
L 62.42 975.40 
L 69.51 975.39 
L 76.59 975.38 
L 83.68 975.37 
L 90.76 975.36 
L 97.85 975.34 
L 104.93 975.32 
L 112.02 975.30 
L 119.10 975.27 
L 126.19 975.23 
L 133.27 975.19 
L 140.36 975.14 
L 147.44 975.08 
L 154.53 975.00 
L 161.61 974.91 
L 168.70 974.80 
L 175.78 974.67 
L 182.87 974.51 
L 189.95 974.32 
L 197.04 974.09 
L 204.12 973.81 
L 211.21 973.47 
L 218.29 973.07 
L 225.38 972.58 
L 232.46 971.98 
L 239.55 971.27 
L 246.63 970.41 
L 253.72 969.37 
L 260.80 968.11 
L 267.89 966.60 
L 274.97 964.77 
L 282.06 962.56 
L 289.14 959.90 
L 296.23 956.68 
L 303.31 952.81 
L 310.40 948.12 
L 317.48 942.48 
L 324.57 935.66 
L 331.65 927.43 
L 338.73 917.51 
L 345.82 905.53 
L 352.90 900.00 
L 359.99 900.00 
L 367.07 900.00 
L 374.16 900.00 
L 381.24 900.00 
L 388.33 900.00 
L 395.41 900.00 
L 402.50 900.00 
" clip-path="url(#p7f65d80952)" style="fill: none; stroke: #ff7f0e; stroke-width: 1.5; stroke-linecap: square"/>
   </g>
   <g id="line2d_166">
    <path d="M 55.34 994.38 
L 62.42 994.37 
L 69.51 994.36 
L 76.59 994.35 
L 83.68 994.34 
L 90.76 994.32 
L 97.85 994.30 
L 104.93 994.27 
L 112.02 994.24 
L 119.10 994.20 
L 126.19 994.15 
L 133.27 994.09 
L 140.36 994.02 
L 147.44 993.94 
L 154.53 993.84 
L 161.61 993.72 
L 168.70 993.57 
L 175.78 993.40 
L 182.87 993.18 
L 189.95 992.93 
L 197.04 992.62 
L 204.12 992.24 
L 211.21 991.79 
L 218.29 991.24 
L 225.38 990.59 
L 232.46 989.79 
L 239.55 988.83 
L 246.63 987.68 
L 253.72 986.28 
L 260.80 984.60 
L 267.89 982.57 
L 274.97 980.11 
L 282.06 977.15 
L 289.14 973.58 
L 296.23 969.27 
L 303.31 964.07 
L 310.40 957.79 
L 317.48 950.22 
L 324.57 941.07 
L 331.65 930.04 
L 338.73 916.73 
L 345.82 900.66 
L 352.90 900.00 
L 359.99 900.00 
L 367.07 900.00 
L 374.16 900.00 
L 381.24 900.00 
L 388.33 900.00 
L 395.41 900.00 
L 402.50 900.00 
" clip-path="url(#p7f65d80952)" style="fill: none; stroke: #e377c2; stroke-width: 1.5; stroke-linecap: square"/>
   </g>
   <g id="line2d_167">
    <path d="M 55.34 995.55 
L 62.42 995.55 
L 69.51 995.54 
L 76.59 995.52 
L 83.68 995.51 
L 90.76 995.49 
L 97.85 995.47 
L 104.93 995.45 
L 112.02 995.41 
L 119.10 995.38 
L 126.19 995.33 
L 133.27 995.28 
L 140.36 995.21 
L 147.44 995.14 
L 154.53 995.04 
L 161.61 994.93 
L 168.70 994.79 
L 175.78 994.62 
L 182.87 994.42 
L 189.95 994.18 
L 197.04 993.88 
L 204.12 993.53 
L 211.21 993.10 
L 218.29 992.59 
L 225.38 991.97 
L 232.46 991.22 
L 239.55 990.31 
L 246.63 989.22 
L 253.72 987.90 
L 260.80 986.31 
L 267.89 984.39 
L 274.97 982.07 
L 282.06 979.28 
L 289.14 975.90 
L 296.23 971.83 
L 303.31 966.91 
L 310.40 960.98 
L 317.48 953.82 
L 324.57 945.19 
L 331.65 934.76 
L 338.73 922.18 
L 345.82 907.00 
L 352.90 900.00 
L 359.99 900.00 
L 367.07 900.00 
L 374.16 900.00 
L 381.24 900.00 
L 388.33 900.00 
L 395.41 900.00 
L 402.50 900.00 
" clip-path="url(#p7f65d80952)" style="fill: none; stroke: #2ca02c; stroke-width: 1.5; stroke-linecap: square"/>
   </g>
   <g id="line2d_168">
    <path d="M 55.34 1000.77 
L 62.42 1000.76 
L 69.51 1000.75 
L 76.59 1000.73 
L 83.68 1000.72 
L 90.76 1000.70 
L 97.85 1000.68 
L 104.93 1000.65 
L 112.02 1000.62 
L 119.10 1000.58 
L 126.19 1000.53 
L 133.27 1000.47 
L 140.36 1000.40 
L 147.44 1000.32 
L 154.53 1000.21 
L 161.61 1000.09 
L 168.70 999.94 
L 175.78 999.76 
L 182.87 999.54 
L 189.95 999.28 
L 197.04 998.96 
L 204.12 998.58 
L 211.21 998.12 
L 218.29 997.57 
L 225.38 996.90 
L 232.46 996.09 
L 239.55 995.11 
L 246.63 993.93 
L 253.72 992.51 
L 260.80 990.79 
L 267.89 988.72 
L 274.97 986.22 
L 282.06 983.20 
L 289.14 979.56 
L 296.23 975.16 
L 303.31 969.86 
L 310.40 963.46 
L 317.48 955.74 
L 324.57 946.41 
L 331.65 935.17 
L 338.73 921.59 
L 345.82 905.21 
L 352.90 900.00 
L 359.99 900.00 
L 367.07 900.00 
L 374.16 900.00 
L 381.24 900.00 
L 388.33 900.00 
L 395.41 900.00 
L 402.50 900.00 
" clip-path="url(#p7f65d80952)" style="fill: none; stroke: #d62728; stroke-width: 1.5; stroke-linecap: square"/>
   </g>
   <g id="line2d_169">
    <path d="M 55.34 1003.64 
L 62.42 1003.63 
L 69.51 1003.62 
L 76.59 1003.61 
L 83.68 1003.59 
L 90.76 1003.57 
L 97.85 1003.55 
L 104.93 1003.52 
L 112.02 1003.49 
L 119.10 1003.44 
L 126.19 1003.39 
L 133.27 1003.33 
L 140.36 1003.26 
L 147.44 1003.17 
L 154.53 1003.06 
L 161.61 1002.93 
L 168.70 1002.77 
L 175.78 1002.58 
L 182.87 1002.36 
L 189.95 1002.08 
L 197.04 1001.75 
L 204.12 1001.34 
L 211.21 1000.86 
L 218.29 1000.28 
L 225.38 999.57 
L 232.46 998.72 
L 239.55 997.69 
L 246.63 996.45 
L 253.72 994.95 
L 260.80 993.14 
L 267.89 990.96 
L 274.97 988.33 
L 282.06 985.15 
L 289.14 981.32 
L 296.23 976.70 
L 303.31 971.11 
L 310.40 964.38 
L 317.48 956.25 
L 324.57 946.44 
L 331.65 934.60 
L 338.73 920.31 
L 345.82 903.07 
L 352.90 900.00 
L 359.99 900.00 
L 367.07 900.00 
L 374.16 900.00 
L 381.24 900.00 
L 388.33 900.00 
L 395.41 900.00 
L 402.50 900.00 
" clip-path="url(#p7f65d80952)" style="fill: none; stroke: #e377c2; stroke-width: 1.5; stroke-linecap: square"/>
   </g>
   <g id="line2d_170">
    <path d="M 55.34 1011.20 
L 62.42 1011.19 
L 69.51 1011.17 
L 76.59 1011.16 
L 83.68 1011.14 
L 90.76 1011.12 
L 97.85 1011.10 
L 104.93 1011.07 
L 112.02 1011.03 
L 119.10 1010.99 
L 126.19 1010.94 
L 133.27 1010.88 
L 140.36 1010.80 
L 147.44 1010.71 
L 154.53 1010.60 
L 161.61 1010.46 
L 168.70 1010.30 
L 175.78 1010.11 
L 182.87 1009.88 
L 189.95 1009.59 
L 197.04 1009.25 
L 204.12 1008.84 
L 211.21 1008.34 
L 218.29 1007.74 
L 225.38 1007.02 
L 232.46 1006.15 
L 239.55 1005.09 
L 246.63 1003.82 
L 253.72 1002.29 
L 260.80 1000.44 
L 267.89 998.20 
L 274.97 995.51 
L 282.06 992.25 
L 289.14 988.32 
L 296.23 983.59 
L 303.31 977.87 
L 310.40 970.96 
L 317.48 962.64 
L 324.57 952.58 
L 331.65 940.45 
L 338.73 925.82 
L 345.82 908.15 
L 352.90 900.00 
L 359.99 900.00 
L 367.07 900.00 
L 374.16 900.00 
L 381.24 900.00 
L 388.33 900.00 
L 395.41 900.00 
L 402.50 900.00 
" clip-path="url(#p7f65d80952)" style="fill: none; stroke: #8c564b; stroke-width: 1.5; stroke-linecap: square"/>
   </g>
   <g id="line2d_171">
    <path d="M 55.34 1016.12 
L 62.42 1016.11 
L 69.51 1016.10 
L 76.59 1016.08 
L 83.68 1016.07 
L 90.76 1016.04 
L 97.85 1016.02 
L 104.93 1015.99 
L 112.02 1015.95 
L 119.10 1015.91 
L 126.19 1015.86 
L 133.27 1015.79 
L 140.36 1015.71 
L 147.44 1015.62 
L 154.53 1015.51 
L 161.61 1015.37 
L 168.70 1015.21 
L 175.78 1015.01 
L 182.87 1014.77 
L 189.95 1014.48 
L 197.04 1014.13 
L 204.12 1013.71 
L 211.21 1013.21 
L 218.29 1012.60 
L 225.38 1011.86 
L 232.46 1010.97 
L 239.55 1009.89 
L 246.63 1008.59 
L 253.72 1007.03 
L 260.80 1005.14 
L 267.89 1002.86 
L 274.97 1000.11 
L 282.06 996.79 
L 289.14 992.78 
L 296.23 987.94 
L 303.31 982.11 
L 310.40 975.06 
L 317.48 966.56 
L 324.57 956.31 
L 331.65 943.93 
L 338.73 928.99 
L 345.82 910.96 
L 352.90 900.00 
L 359.99 900.00 
L 367.07 900.00 
L 374.16 900.00 
L 381.24 900.00 
L 388.33 900.00 
L 395.41 900.00 
L 402.50 900.00 
" clip-path="url(#p7f65d80952)" style="fill: none; stroke: #ff7f0e; stroke-width: 1.5; stroke-linecap: square"/>
   </g>
   <g id="line2d_172">
    <path d="M 55.34 1017.55 
L 62.42 1017.54 
L 69.51 1017.53 
L 76.59 1017.52 
L 83.68 1017.50 
L 90.76 1017.49 
L 97.85 1017.47 
L 104.93 1017.44 
L 112.02 1017.41 
L 119.10 1017.38 
L 126.19 1017.34 
L 133.27 1017.28 
L 140.36 1017.22 
L 147.44 1017.15 
L 154.53 1017.06 
L 161.61 1016.95 
L 168.70 1016.81 
L 175.78 1016.66 
L 182.87 1016.46 
L 189.95 1016.23 
L 197.04 1015.95 
L 204.12 1015.61 
L 211.21 1015.21 
L 218.29 1014.71 
L 225.38 1014.12 
L 232.46 1013.40 
L 239.55 1012.54 
L 246.63 1011.50 
L 253.72 1010.24 
L 260.80 1008.72 
L 267.89 1006.89 
L 274.97 1004.67 
L 282.06 1002.00 
L 289.14 998.78 
L 296.23 994.89 
L 303.31 990.20 
L 310.40 984.54 
L 317.48 977.70 
L 324.57 969.46 
L 331.65 959.50 
L 338.73 947.49 
L 345.82 933.00 
L 352.90 915.51 
L 359.99 900.00 
L 367.07 900.00 
L 374.16 900.00 
L 381.24 900.00 
L 388.33 900.00 
L 395.41 900.00 
L 402.50 900.00 
" clip-path="url(#p7f65d80952)" style="fill: none; stroke: #7f7f7f; stroke-width: 1.5; stroke-linecap: square"/>
   </g>
   <g id="line2d_173">
    <path d="M 55.34 1018.46 
L 62.42 1018.45 
L 69.51 1018.44 
L 76.59 1018.42 
L 83.68 1018.41 
L 90.76 1018.39 
L 97.85 1018.36 
L 104.93 1018.33 
L 112.02 1018.30 
L 119.10 1018.26 
L 126.19 1018.21 
L 133.27 1018.15 
L 140.36 1018.07 
L 147.44 1017.98 
L 154.53 1017.88 
L 161.61 1017.75 
L 168.70 1017.59 
L 175.78 1017.40 
L 182.87 1017.17 
L 189.95 1016.90 
L 197.04 1016.57 
L 204.12 1016.17 
L 211.21 1015.69 
L 218.29 1015.10 
L 225.38 1014.40 
L 232.46 1013.55 
L 239.55 1012.53 
L 246.63 1011.29 
L 253.72 1009.80 
L 260.80 1008.01 
L 267.89 1005.83 
L 274.97 1003.21 
L 282.06 1000.05 
L 289.14 996.24 
L 296.23 991.63 
L 303.31 986.08 
L 310.40 979.37 
L 317.48 971.28 
L 324.57 961.51 
L 331.65 949.73 
L 338.73 935.51 
L 345.82 918.35 
L 352.90 900.00 
L 359.99 900.00 
L 367.07 900.00 
L 374.16 900.00 
L 381.24 900.00 
L 388.33 900.00 
L 395.41 900.00 
L 402.50 900.00 
" clip-path="url(#p7f65d80952)" style="fill: none; stroke: #17becf; stroke-width: 1.5; stroke-linecap: square"/>
   </g>
   <g id="line2d_174">
    <path d="M 55.34 1019.88 
L 62.42 1019.87 
L 69.51 1019.86 
L 76.59 1019.84 
L 83.68 1019.82 
L 90.76 1019.80 
L 97.85 1019.78 
L 104.93 1019.75 
L 112.02 1019.72 
L 119.10 1019.67 
L 126.19 1019.62 
L 133.27 1019.56 
L 140.36 1019.49 
L 147.44 1019.40 
L 154.53 1019.29 
L 161.61 1019.16 
L 168.70 1019.00 
L 175.78 1018.81 
L 182.87 1018.58 
L 189.95 1018.30 
L 197.04 1017.96 
L 204.12 1017.56 
L 211.21 1017.07 
L 218.29 1016.48 
L 225.38 1015.77 
L 232.46 1014.91 
L 239.55 1013.88 
L 246.63 1012.63 
L 253.72 1011.12 
L 260.80 1009.30 
L 267.89 1007.10 
L 274.97 1004.45 
L 282.06 1001.25 
L 289.14 997.39 
L 296.23 992.73 
L 303.31 987.11 
L 310.40 980.32 
L 317.48 972.13 
L 324.57 962.25 
L 331.65 950.33 
L 338.73 935.93 
L 345.82 918.57 
L 352.90 900.00 
L 359.99 900.00 
L 367.07 900.00 
L 374.16 900.00 
L 381.24 900.00 
L 388.33 900.00 
L 395.41 900.00 
L 402.50 900.00 
" clip-path="url(#p7f65d80952)" style="fill: none; stroke: #1f77b4; stroke-width: 1.5; stroke-linecap: square"/>
   </g>
   <g id="line2d_175">
    <path d="M 55.34 833.09 
L 62.42 833.10 
L 69.51 833.11 
L 76.59 833.12 
L 83.68 833.13 
L 90.76 833.14 
L 97.85 833.16 
L 104.93 833.18 
L 112.02 833.20 
L 119.10 833.23 
L 126.19 833.26 
L 133.27 833.31 
L 140.36 833.36 
L 147.44 833.42 
L 154.53 833.49 
L 161.61 833.58 
L 168.70 833.68 
L 175.78 833.81 
L 182.87 833.97 
L 189.95 834.15 
L 197.04 834.38 
L 204.12 834.65 
L 211.21 834.98 
L 218.29 835.37 
L 225.38 835.85 
L 232.46 836.43 
L 239.55 837.12 
L 246.63 837.96 
L 253.72 838.97 
L 260.80 840.19 
L 267.89 841.67 
L 274.97 843.45 
L 282.06 845.59 
L 289.14 848.18 
L 296.23 851.31 
L 303.31 855.08 
L 310.40 859.64 
L 317.48 865.13 
L 324.57 871.76 
L 331.65 879.76 
L 338.73 889.42 
L 345.82 900.00 
L 352.90 900.00 
L 359.99 900.00 
L 367.07 900.00 
L 374.16 900.00 
L 381.24 900.00 
L 388.33 900.00 
L 395.41 900.00 
L 402.50 900.00 
" clip-path="url(#p7f65d80952)" style="fill: none; stroke: #e377c2; stroke-width: 1.5; stroke-linecap: square"/>
   </g>
   <g id="line2d_176">
    <path d="M 340.62 1033.77 
L 340.62 733.72 
" clip-path="url(#p7f65d80952)" style="fill: none; stroke-dasharray: 5.55,2.4; stroke-dashoffset: 0; stroke: #ff0000; stroke-width: 1.5"/>
   </g>
   <g id="patch_23">
    <path d="M 37.99 1033.77 
L 37.99 733.72 
" style="fill: none; stroke: #000000; stroke-width: 0.8; stroke-linejoin: miter; stroke-linecap: square"/>
   </g>
   <g id="patch_24">
    <path d="M 419.04 1033.77 
L 419.04 733.72 
" style="fill: none; stroke: #000000; stroke-width: 0.8; stroke-linejoin: miter; stroke-linecap: square"/>
   </g>
   <g id="patch_25">
    <path d="M 37.99 1033.77 
L 419.04 1033.77 
" style="fill: none; stroke: #000000; stroke-width: 0.8; stroke-linejoin: miter; stroke-linecap: square"/>
   </g>
   <g id="patch_26">
    <path d="M 37.99 733.72 
L 419.04 733.72 
" style="fill: none; stroke: #000000; stroke-width: 0.8; stroke-linejoin: miter; stroke-linecap: square"/>
   </g>
   <g id="text_92">
    <text style="font-size: 12px; font-family: 'DejaVu Sans', 'Liberation Sans', sans-serif; text-anchor: middle" x="228.51" y="727.72" transform="matrix(1.0070 0 0 1.0600 -1.600 -44.095)">LASSO for DCE</text>
   </g>
  </g>
  <g id="axes_6">
   <g id="patch_27">
    <path d="M 466.12 1033.77 
L 848.01 1033.77 
L 848.01 733.72 
L 466.12 733.72 
z
" style="fill: #ffffff"/>
   </g>
   <g id="matplotlib.axis_11">
    <g id="xtick_46">
     <g id="line2d_177">
      <g>
       <use xlink:href="#m1504cfccaf" x="483.45" y="1033.77" style="stroke: #000000; stroke-width: 0.8"/>
      </g>
     </g>
     <g id="text_93">
      <text style="font-size: 10px; font-family: 'DejaVu Sans', 'Liberation Sans', sans-serif; text-anchor: middle" x="483.45" y="1048.37" transform="rotate(-0 483.45 1048.37)">−3.0</text>
     </g>
    </g>
    <g id="xtick_47">
     <g id="line2d_178">
      <g>
       <use xlink:href="#m1504cfccaf" x="526.85" y="1033.77" style="stroke: #000000; stroke-width: 0.8"/>
      </g>
     </g>
     <g id="text_94">
      <text style="font-size: 10px; font-family: 'DejaVu Sans', 'Liberation Sans', sans-serif; text-anchor: middle" x="526.85" y="1048.37" transform="rotate(-0 526.85 1048.37)">−2.5</text>
     </g>
    </g>
    <g id="xtick_48">
     <g id="line2d_179">
      <g>
       <use xlink:href="#m1504cfccaf" x="570.26" y="1033.77" style="stroke: #000000; stroke-width: 0.8"/>
      </g>
     </g>
     <g id="text_95">
      <text style="font-size: 10px; font-family: 'DejaVu Sans', 'Liberation Sans', sans-serif; text-anchor: middle" x="570.26" y="1048.37" transform="rotate(-0 570.26 1048.37)">−2.0</text>
     </g>
    </g>
    <g id="xtick_49">
     <g id="line2d_180">
      <g>
       <use xlink:href="#m1504cfccaf" x="613.66" y="1033.77" style="stroke: #000000; stroke-width: 0.8"/>
      </g>
     </g>
     <g id="text_96">
      <text style="font-size: 10px; font-family: 'DejaVu Sans', 'Liberation Sans', sans-serif; text-anchor: middle" x="613.66" y="1048.37" transform="rotate(-0 613.66 1048.37)">−1.5</text>
     </g>
    </g>
    <g id="xtick_50">
     <g id="line2d_181">
      <g>
       <use xlink:href="#m1504cfccaf" x="657.07" y="1033.77" style="stroke: #000000; stroke-width: 0.8"/>
      </g>
     </g>
     <g id="text_97">
      <text style="font-size: 10px; font-family: 'DejaVu Sans', 'Liberation Sans', sans-serif; text-anchor: middle" x="657.07" y="1048.37" transform="rotate(-0 657.07 1048.37)">−1.0</text>
     </g>
    </g>
    <g id="xtick_51">
     <g id="line2d_182">
      <g>
       <use xlink:href="#m1504cfccaf" x="700.47" y="1033.77" style="stroke: #000000; stroke-width: 0.8"/>
      </g>
     </g>
     <g id="text_98">
      <text style="font-size: 10px; font-family: 'DejaVu Sans', 'Liberation Sans', sans-serif; text-anchor: middle" x="700.47" y="1048.37" transform="rotate(-0 700.47 1048.37)">−0.5</text>
     </g>
    </g>
    <g id="xtick_52">
     <g id="line2d_183">
      <g>
       <use xlink:href="#m1504cfccaf" x="743.88" y="1033.77" style="stroke: #000000; stroke-width: 0.8"/>
      </g>
     </g>
     <g id="text_99">
      <text style="font-size: 10px; font-family: 'DejaVu Sans', 'Liberation Sans', sans-serif; text-anchor: middle" x="743.88" y="1048.37" transform="rotate(-0 743.88 1048.37)">0.0</text>
     </g>
    </g>
    <g id="xtick_53">
     <g id="line2d_184">
      <g>
       <use xlink:href="#m1504cfccaf" x="787.28" y="1033.77" style="stroke: #000000; stroke-width: 0.8"/>
      </g>
     </g>
     <g id="text_100">
      <text style="font-size: 10px; font-family: 'DejaVu Sans', 'Liberation Sans', sans-serif; text-anchor: middle" x="787.28" y="1048.37" transform="rotate(-0 787.28 1048.37)">0.5</text>
     </g>
    </g>
    <g id="xtick_54">
     <g id="line2d_185">
      <g>
       <use xlink:href="#m1504cfccaf" x="830.68" y="1033.77" style="stroke: #000000; stroke-width: 0.8"/>
      </g>
     </g>
     <g id="text_101">
      <text style="font-size: 10px; font-family: 'DejaVu Sans', 'Liberation Sans', sans-serif; text-anchor: middle" x="830.68" y="1048.37" transform="rotate(-0 830.68 1048.37)">1.0</text>
     </g>
    </g>
    <g id="text_102">
     <text style="font-size: 10px; font-family: 'DejaVu Sans', 'Liberation Sans', sans-serif; text-anchor: middle" x="657.07" y="1062.05" transform="rotate(-0 657.07 1062.05)">log(Alpha)</text>
    </g>
   </g>
   <g id="matplotlib.axis_12">
    <g id="ytick_33">
     <g id="line2d_186">
      <g>
       <use xlink:href="#m5d545ce8f8" x="466.12" y="1022.25" style="stroke: #000000; stroke-width: 0.8"/>
      </g>
     </g>
     <g id="text_103">
      <text style="font-size: 10px; font-family: 'DejaVu Sans', 'Liberation Sans', sans-serif; text-anchor: end" x="459.12" y="1026.05" transform="rotate(-0 459.12 1026.05)">−2</text>
     </g>
    </g>
    <g id="ytick_34">
     <g id="line2d_187">
      <g>
       <use xlink:href="#m5d545ce8f8" x="466.12" y="963.84" style="stroke: #000000; stroke-width: 0.8"/>
      </g>
     </g>
     <g id="text_104">
      <text style="font-size: 10px; font-family: 'DejaVu Sans', 'Liberation Sans', sans-serif; text-anchor: end" x="459.12" y="967.63" transform="rotate(-0 459.12 967.63)">−1</text>
     </g>
    </g>
    <g id="ytick_35">
     <g id="line2d_188">
      <g>
       <use xlink:href="#m5d545ce8f8" x="466.12" y="905.42" style="stroke: #000000; stroke-width: 0.8"/>
      </g>
     </g>
     <g id="text_105">
      <text style="font-size: 10px; font-family: 'DejaVu Sans', 'Liberation Sans', sans-serif; text-anchor: end" x="459.12" y="909.22" transform="rotate(-0 459.12 909.22)">0</text>
     </g>
    </g>
    <g id="ytick_36">
     <g id="line2d_189">
      <g>
       <use xlink:href="#m5d545ce8f8" x="466.12" y="847.00" style="stroke: #000000; stroke-width: 0.8"/>
      </g>
     </g>
     <g id="text_106">
      <text style="font-size: 10px; font-family: 'DejaVu Sans', 'Liberation Sans', sans-serif; text-anchor: end" x="459.12" y="850.80" transform="rotate(-0 459.12 850.80)">1</text>
     </g>
    </g>
    <g id="ytick_37">
     <g id="line2d_190">
      <g>
       <use xlink:href="#m5d545ce8f8" x="466.12" y="788.59" style="stroke: #000000; stroke-width: 0.8"/>
      </g>
     </g>
     <g id="text_107">
      <text style="font-size: 10px; font-family: 'DejaVu Sans', 'Liberation Sans', sans-serif; text-anchor: end" x="459.12" y="792.39" transform="rotate(-0 459.12 792.39)">2</text>
     </g>
    </g>
    <g id="text_108">
     <text style="font-size: 10px; font-family: 'DejaVu Sans', 'Liberation Sans', sans-serif; text-anchor: middle" x="437.63" y="883.75" transform="rotate(-90 437.63 883.75)">Mean ± SD of Coefficients</text>
    </g>
   </g>
   <g id="LineCollection_3">
    <path d="M 483.45 1020.13 
L 483.45 747.36 
" clip-path="url(#pc2aef0c935)" style="fill: none; stroke: #1f77b4; stroke-width: 1.5"/>
    <path d="M 490.54 1020.12 
L 490.54 747.37 
" clip-path="url(#pc2aef0c935)" style="fill: none; stroke: #1f77b4; stroke-width: 1.5"/>
    <path d="M 497.62 1020.10 
L 497.62 747.39 
" clip-path="url(#pc2aef0c935)" style="fill: none; stroke: #1f77b4; stroke-width: 1.5"/>
    <path d="M 504.71 1020.09 
L 504.71 747.40 
" clip-path="url(#pc2aef0c935)" style="fill: none; stroke: #1f77b4; stroke-width: 1.5"/>
    <path d="M 511.80 1020.07 
L 511.80 747.42 
" clip-path="url(#pc2aef0c935)" style="fill: none; stroke: #1f77b4; stroke-width: 1.5"/>
    <path d="M 518.88 1020.04 
L 518.88 747.45 
" clip-path="url(#pc2aef0c935)" style="fill: none; stroke: #1f77b4; stroke-width: 1.5"/>
    <path d="M 525.97 1020.01 
L 525.97 747.48 
" clip-path="url(#pc2aef0c935)" style="fill: none; stroke: #1f77b4; stroke-width: 1.5"/>
    <path d="M 533.05 1019.98 
L 533.05 747.51 
" clip-path="url(#pc2aef0c935)" style="fill: none; stroke: #1f77b4; stroke-width: 1.5"/>
    <path d="M 540.14 1019.93 
L 540.14 747.55 
" clip-path="url(#pc2aef0c935)" style="fill: none; stroke: #1f77b4; stroke-width: 1.5"/>
    <path d="M 547.23 1019.88 
L 547.23 747.60 
" clip-path="url(#pc2aef0c935)" style="fill: none; stroke: #1f77b4; stroke-width: 1.5"/>
    <path d="M 554.31 1019.81 
L 554.31 747.66 
" clip-path="url(#pc2aef0c935)" style="fill: none; stroke: #1f77b4; stroke-width: 1.5"/>
    <path d="M 561.40 1019.74 
L 561.40 747.73 
" clip-path="url(#pc2aef0c935)" style="fill: none; stroke: #1f77b4; stroke-width: 1.5"/>
    <path d="M 568.49 1019.64 
L 568.49 747.82 
" clip-path="url(#pc2aef0c935)" style="fill: none; stroke: #1f77b4; stroke-width: 1.5"/>
    <path d="M 575.57 1019.53 
L 575.57 747.93 
" clip-path="url(#pc2aef0c935)" style="fill: none; stroke: #1f77b4; stroke-width: 1.5"/>
    <path d="M 582.66 1019.40 
L 582.66 748.05 
" clip-path="url(#pc2aef0c935)" style="fill: none; stroke: #1f77b4; stroke-width: 1.5"/>
    <path d="M 589.75 1019.23 
L 589.75 748.21 
" clip-path="url(#pc2aef0c935)" style="fill: none; stroke: #1f77b4; stroke-width: 1.5"/>
    <path d="M 596.83 1019.04 
L 596.83 748.39 
" clip-path="url(#pc2aef0c935)" style="fill: none; stroke: #1f77b4; stroke-width: 1.5"/>
    <path d="M 603.92 1018.80 
L 603.92 748.62 
" clip-path="url(#pc2aef0c935)" style="fill: none; stroke: #1f77b4; stroke-width: 1.5"/>
    <path d="M 611.01 1018.51 
L 611.01 748.89 
" clip-path="url(#pc2aef0c935)" style="fill: none; stroke: #1f77b4; stroke-width: 1.5"/>
    <path d="M 618.09 1018.16 
L 618.09 749.21 
" clip-path="url(#pc2aef0c935)" style="fill: none; stroke: #1f77b4; stroke-width: 1.5"/>
    <path d="M 625.18 1017.58 
L 625.18 749.74 
" clip-path="url(#pc2aef0c935)" style="fill: none; stroke: #1f77b4; stroke-width: 1.5"/>
    <path d="M 632.26 1016.99 
L 632.26 750.73 
" clip-path="url(#pc2aef0c935)" style="fill: none; stroke: #1f77b4; stroke-width: 1.5"/>
    <path d="M 639.35 1016.41 
L 639.35 751.73 
" clip-path="url(#pc2aef0c935)" style="fill: none; stroke: #1f77b4; stroke-width: 1.5"/>
    <path d="M 646.44 1015.83 
L 646.44 752.54 
" clip-path="url(#pc2aef0c935)" style="fill: none; stroke: #1f77b4; stroke-width: 1.5"/>
    <path d="M 653.52 1015.24 
L 653.52 753.25 
" clip-path="url(#pc2aef0c935)" style="fill: none; stroke: #1f77b4; stroke-width: 1.5"/>
    <path d="M 660.61 1014.66 
L 660.61 754.53 
" clip-path="url(#pc2aef0c935)" style="fill: none; stroke: #1f77b4; stroke-width: 1.5"/>
    <path d="M 667.70 1013.90 
L 667.70 756.05 
" clip-path="url(#pc2aef0c935)" style="fill: none; stroke: #1f77b4; stroke-width: 1.5"/>
    <path d="M 674.78 1012.79 
L 674.78 757.57 
" clip-path="url(#pc2aef0c935)" style="fill: none; stroke: #1f77b4; stroke-width: 1.5"/>
    <path d="M 681.87 1011.39 
L 681.87 759.79 
" clip-path="url(#pc2aef0c935)" style="fill: none; stroke: #1f77b4; stroke-width: 1.5"/>
    <path d="M 688.96 1009.75 
L 688.96 762.59 
" clip-path="url(#pc2aef0c935)" style="fill: none; stroke: #1f77b4; stroke-width: 1.5"/>
    <path d="M 696.04 1007.71 
L 696.04 765.51 
" clip-path="url(#pc2aef0c935)" style="fill: none; stroke: #1f77b4; stroke-width: 1.5"/>
    <path d="M 703.13 1004.84 
L 703.13 769.02 
" clip-path="url(#pc2aef0c935)" style="fill: none; stroke: #1f77b4; stroke-width: 1.5"/>
    <path d="M 710.22 1001.81 
L 710.22 773.34 
" clip-path="url(#pc2aef0c935)" style="fill: none; stroke: #1f77b4; stroke-width: 1.5"/>
    <path d="M 717.30 998.42 
L 717.30 779.12 
" clip-path="url(#pc2aef0c935)" style="fill: none; stroke: #1f77b4; stroke-width: 1.5"/>
    <path d="M 724.39 993.16 
L 724.39 785.67 
" clip-path="url(#pc2aef0c935)" style="fill: none; stroke: #1f77b4; stroke-width: 1.5"/>
    <path d="M 731.47 988.37 
L 731.47 793.67 
" clip-path="url(#pc2aef0c935)" style="fill: none; stroke: #1f77b4; stroke-width: 1.5"/>
    <path d="M 738.56 981.65 
L 738.56 803.02 
" clip-path="url(#pc2aef0c935)" style="fill: none; stroke: #1f77b4; stroke-width: 1.5"/>
    <path d="M 745.65 973.71 
L 745.65 814.47 
" clip-path="url(#pc2aef0c935)" style="fill: none; stroke: #1f77b4; stroke-width: 1.5"/>
    <path d="M 752.73 964.36 
L 752.73 827.73 
" clip-path="url(#pc2aef0c935)" style="fill: none; stroke: #1f77b4; stroke-width: 1.5"/>
    <path d="M 759.82 953.44 
L 759.82 844.26 
" clip-path="url(#pc2aef0c935)" style="fill: none; stroke: #1f77b4; stroke-width: 1.5"/>
    <path d="M 766.91 941.05 
L 766.91 862.13 
" clip-path="url(#pc2aef0c935)" style="fill: none; stroke: #1f77b4; stroke-width: 1.5"/>
    <path d="M 773.99 928.73 
L 773.99 880.48 
" clip-path="url(#pc2aef0c935)" style="fill: none; stroke: #1f77b4; stroke-width: 1.5"/>
    <path d="M 781.08 917.92 
L 781.08 888.65 
" clip-path="url(#pc2aef0c935)" style="fill: none; stroke: #1f77b4; stroke-width: 1.5"/>
    <path d="M 788.17 912.02 
L 788.17 895.55 
" clip-path="url(#pc2aef0c935)" style="fill: none; stroke: #1f77b4; stroke-width: 1.5"/>
    <path d="M 795.25 905.42 
L 795.25 905.42 
" clip-path="url(#pc2aef0c935)" style="fill: none; stroke: #1f77b4; stroke-width: 1.5"/>
    <path d="M 802.34 905.42 
L 802.34 905.42 
" clip-path="url(#pc2aef0c935)" style="fill: none; stroke: #1f77b4; stroke-width: 1.5"/>
    <path d="M 809.42 905.42 
L 809.42 905.42 
" clip-path="url(#pc2aef0c935)" style="fill: none; stroke: #1f77b4; stroke-width: 1.5"/>
    <path d="M 816.51 905.42 
L 816.51 905.42 
" clip-path="url(#pc2aef0c935)" style="fill: none; stroke: #1f77b4; stroke-width: 1.5"/>
    <path d="M 823.60 905.42 
L 823.60 905.42 
" clip-path="url(#pc2aef0c935)" style="fill: none; stroke: #1f77b4; stroke-width: 1.5"/>
    <path d="M 830.68 905.42 
L 830.68 905.42 
" clip-path="url(#pc2aef0c935)" style="fill: none; stroke: #1f77b4; stroke-width: 1.5"/>
   </g>
   <g id="line2d_191">
    <g clip-path="url(#pc2aef0c935)">
     <use xlink:href="#mc7c5441340" x="483.45" y="1020.13" style="fill: #1f77b4; stroke: #1f77b4"/>
     <use xlink:href="#mc7c5441340" x="490.54" y="1020.12" style="fill: #1f77b4; stroke: #1f77b4"/>
     <use xlink:href="#mc7c5441340" x="497.62" y="1020.10" style="fill: #1f77b4; stroke: #1f77b4"/>
     <use xlink:href="#mc7c5441340" x="504.71" y="1020.09" style="fill: #1f77b4; stroke: #1f77b4"/>
     <use xlink:href="#mc7c5441340" x="511.80" y="1020.07" style="fill: #1f77b4; stroke: #1f77b4"/>
     <use xlink:href="#mc7c5441340" x="518.88" y="1020.04" style="fill: #1f77b4; stroke: #1f77b4"/>
     <use xlink:href="#mc7c5441340" x="525.97" y="1020.01" style="fill: #1f77b4; stroke: #1f77b4"/>
     <use xlink:href="#mc7c5441340" x="533.05" y="1019.98" style="fill: #1f77b4; stroke: #1f77b4"/>
     <use xlink:href="#mc7c5441340" x="540.14" y="1019.93" style="fill: #1f77b4; stroke: #1f77b4"/>
     <use xlink:href="#mc7c5441340" x="547.23" y="1019.88" style="fill: #1f77b4; stroke: #1f77b4"/>
     <use xlink:href="#mc7c5441340" x="554.31" y="1019.81" style="fill: #1f77b4; stroke: #1f77b4"/>
     <use xlink:href="#mc7c5441340" x="561.40" y="1019.74" style="fill: #1f77b4; stroke: #1f77b4"/>
     <use xlink:href="#mc7c5441340" x="568.49" y="1019.64" style="fill: #1f77b4; stroke: #1f77b4"/>
     <use xlink:href="#mc7c5441340" x="575.57" y="1019.53" style="fill: #1f77b4; stroke: #1f77b4"/>
     <use xlink:href="#mc7c5441340" x="582.66" y="1019.40" style="fill: #1f77b4; stroke: #1f77b4"/>
     <use xlink:href="#mc7c5441340" x="589.75" y="1019.23" style="fill: #1f77b4; stroke: #1f77b4"/>
     <use xlink:href="#mc7c5441340" x="596.83" y="1019.04" style="fill: #1f77b4; stroke: #1f77b4"/>
     <use xlink:href="#mc7c5441340" x="603.92" y="1018.80" style="fill: #1f77b4; stroke: #1f77b4"/>
     <use xlink:href="#mc7c5441340" x="611.01" y="1018.51" style="fill: #1f77b4; stroke: #1f77b4"/>
     <use xlink:href="#mc7c5441340" x="618.09" y="1018.16" style="fill: #1f77b4; stroke: #1f77b4"/>
     <use xlink:href="#mc7c5441340" x="625.18" y="1017.58" style="fill: #1f77b4; stroke: #1f77b4"/>
     <use xlink:href="#mc7c5441340" x="632.26" y="1016.99" style="fill: #1f77b4; stroke: #1f77b4"/>
     <use xlink:href="#mc7c5441340" x="639.35" y="1016.41" style="fill: #1f77b4; stroke: #1f77b4"/>
     <use xlink:href="#mc7c5441340" x="646.44" y="1015.83" style="fill: #1f77b4; stroke: #1f77b4"/>
     <use xlink:href="#mc7c5441340" x="653.52" y="1015.24" style="fill: #1f77b4; stroke: #1f77b4"/>
     <use xlink:href="#mc7c5441340" x="660.61" y="1014.66" style="fill: #1f77b4; stroke: #1f77b4"/>
     <use xlink:href="#mc7c5441340" x="667.70" y="1013.90" style="fill: #1f77b4; stroke: #1f77b4"/>
     <use xlink:href="#mc7c5441340" x="674.78" y="1012.79" style="fill: #1f77b4; stroke: #1f77b4"/>
     <use xlink:href="#mc7c5441340" x="681.87" y="1011.39" style="fill: #1f77b4; stroke: #1f77b4"/>
     <use xlink:href="#mc7c5441340" x="688.96" y="1009.75" style="fill: #1f77b4; stroke: #1f77b4"/>
     <use xlink:href="#mc7c5441340" x="696.04" y="1007.71" style="fill: #1f77b4; stroke: #1f77b4"/>
     <use xlink:href="#mc7c5441340" x="703.13" y="1004.84" style="fill: #1f77b4; stroke: #1f77b4"/>
     <use xlink:href="#mc7c5441340" x="710.22" y="1001.81" style="fill: #1f77b4; stroke: #1f77b4"/>
     <use xlink:href="#mc7c5441340" x="717.30" y="998.42" style="fill: #1f77b4; stroke: #1f77b4"/>
     <use xlink:href="#mc7c5441340" x="724.39" y="993.16" style="fill: #1f77b4; stroke: #1f77b4"/>
     <use xlink:href="#mc7c5441340" x="731.47" y="988.37" style="fill: #1f77b4; stroke: #1f77b4"/>
     <use xlink:href="#mc7c5441340" x="738.56" y="981.65" style="fill: #1f77b4; stroke: #1f77b4"/>
     <use xlink:href="#mc7c5441340" x="745.65" y="973.71" style="fill: #1f77b4; stroke: #1f77b4"/>
     <use xlink:href="#mc7c5441340" x="752.73" y="964.36" style="fill: #1f77b4; stroke: #1f77b4"/>
     <use xlink:href="#mc7c5441340" x="759.82" y="953.44" style="fill: #1f77b4; stroke: #1f77b4"/>
     <use xlink:href="#mc7c5441340" x="766.91" y="941.05" style="fill: #1f77b4; stroke: #1f77b4"/>
     <use xlink:href="#mc7c5441340" x="773.99" y="928.73" style="fill: #1f77b4; stroke: #1f77b4"/>
     <use xlink:href="#mc7c5441340" x="781.08" y="917.92" style="fill: #1f77b4; stroke: #1f77b4"/>
     <use xlink:href="#mc7c5441340" x="788.17" y="912.02" style="fill: #1f77b4; stroke: #1f77b4"/>
     <use xlink:href="#mc7c5441340" x="795.25" y="905.42" style="fill: #1f77b4; stroke: #1f77b4"/>
     <use xlink:href="#mc7c5441340" x="802.34" y="905.42" style="fill: #1f77b4; stroke: #1f77b4"/>
     <use xlink:href="#mc7c5441340" x="809.42" y="905.42" style="fill: #1f77b4; stroke: #1f77b4"/>
     <use xlink:href="#mc7c5441340" x="816.51" y="905.42" style="fill: #1f77b4; stroke: #1f77b4"/>
     <use xlink:href="#mc7c5441340" x="823.60" y="905.42" style="fill: #1f77b4; stroke: #1f77b4"/>
     <use xlink:href="#mc7c5441340" x="830.68" y="905.42" style="fill: #1f77b4; stroke: #1f77b4"/>
    </g>
   </g>
   <g id="line2d_192">
    <g clip-path="url(#pc2aef0c935)">
     <use xlink:href="#mc7c5441340" x="483.45" y="747.36" style="fill: #1f77b4; stroke: #1f77b4"/>
     <use xlink:href="#mc7c5441340" x="490.54" y="747.37" style="fill: #1f77b4; stroke: #1f77b4"/>
     <use xlink:href="#mc7c5441340" x="497.62" y="747.39" style="fill: #1f77b4; stroke: #1f77b4"/>
     <use xlink:href="#mc7c5441340" x="504.71" y="747.40" style="fill: #1f77b4; stroke: #1f77b4"/>
     <use xlink:href="#mc7c5441340" x="511.80" y="747.42" style="fill: #1f77b4; stroke: #1f77b4"/>
     <use xlink:href="#mc7c5441340" x="518.88" y="747.45" style="fill: #1f77b4; stroke: #1f77b4"/>
     <use xlink:href="#mc7c5441340" x="525.97" y="747.48" style="fill: #1f77b4; stroke: #1f77b4"/>
     <use xlink:href="#mc7c5441340" x="533.05" y="747.51" style="fill: #1f77b4; stroke: #1f77b4"/>
     <use xlink:href="#mc7c5441340" x="540.14" y="747.55" style="fill: #1f77b4; stroke: #1f77b4"/>
     <use xlink:href="#mc7c5441340" x="547.23" y="747.60" style="fill: #1f77b4; stroke: #1f77b4"/>
     <use xlink:href="#mc7c5441340" x="554.31" y="747.66" style="fill: #1f77b4; stroke: #1f77b4"/>
     <use xlink:href="#mc7c5441340" x="561.40" y="747.73" style="fill: #1f77b4; stroke: #1f77b4"/>
     <use xlink:href="#mc7c5441340" x="568.49" y="747.82" style="fill: #1f77b4; stroke: #1f77b4"/>
     <use xlink:href="#mc7c5441340" x="575.57" y="747.93" style="fill: #1f77b4; stroke: #1f77b4"/>
     <use xlink:href="#mc7c5441340" x="582.66" y="748.05" style="fill: #1f77b4; stroke: #1f77b4"/>
     <use xlink:href="#mc7c5441340" x="589.75" y="748.21" style="fill: #1f77b4; stroke: #1f77b4"/>
     <use xlink:href="#mc7c5441340" x="596.83" y="748.39" style="fill: #1f77b4; stroke: #1f77b4"/>
     <use xlink:href="#mc7c5441340" x="603.92" y="748.62" style="fill: #1f77b4; stroke: #1f77b4"/>
     <use xlink:href="#mc7c5441340" x="611.01" y="748.89" style="fill: #1f77b4; stroke: #1f77b4"/>
     <use xlink:href="#mc7c5441340" x="618.09" y="749.21" style="fill: #1f77b4; stroke: #1f77b4"/>
     <use xlink:href="#mc7c5441340" x="625.18" y="749.74" style="fill: #1f77b4; stroke: #1f77b4"/>
     <use xlink:href="#mc7c5441340" x="632.26" y="750.73" style="fill: #1f77b4; stroke: #1f77b4"/>
     <use xlink:href="#mc7c5441340" x="639.35" y="751.73" style="fill: #1f77b4; stroke: #1f77b4"/>
     <use xlink:href="#mc7c5441340" x="646.44" y="752.54" style="fill: #1f77b4; stroke: #1f77b4"/>
     <use xlink:href="#mc7c5441340" x="653.52" y="753.25" style="fill: #1f77b4; stroke: #1f77b4"/>
     <use xlink:href="#mc7c5441340" x="660.61" y="754.53" style="fill: #1f77b4; stroke: #1f77b4"/>
     <use xlink:href="#mc7c5441340" x="667.70" y="756.05" style="fill: #1f77b4; stroke: #1f77b4"/>
     <use xlink:href="#mc7c5441340" x="674.78" y="757.57" style="fill: #1f77b4; stroke: #1f77b4"/>
     <use xlink:href="#mc7c5441340" x="681.87" y="759.79" style="fill: #1f77b4; stroke: #1f77b4"/>
     <use xlink:href="#mc7c5441340" x="688.96" y="762.59" style="fill: #1f77b4; stroke: #1f77b4"/>
     <use xlink:href="#mc7c5441340" x="696.04" y="765.51" style="fill: #1f77b4; stroke: #1f77b4"/>
     <use xlink:href="#mc7c5441340" x="703.13" y="769.02" style="fill: #1f77b4; stroke: #1f77b4"/>
     <use xlink:href="#mc7c5441340" x="710.22" y="773.34" style="fill: #1f77b4; stroke: #1f77b4"/>
     <use xlink:href="#mc7c5441340" x="717.30" y="779.12" style="fill: #1f77b4; stroke: #1f77b4"/>
     <use xlink:href="#mc7c5441340" x="724.39" y="785.67" style="fill: #1f77b4; stroke: #1f77b4"/>
     <use xlink:href="#mc7c5441340" x="731.47" y="793.67" style="fill: #1f77b4; stroke: #1f77b4"/>
     <use xlink:href="#mc7c5441340" x="738.56" y="803.02" style="fill: #1f77b4; stroke: #1f77b4"/>
     <use xlink:href="#mc7c5441340" x="745.65" y="814.47" style="fill: #1f77b4; stroke: #1f77b4"/>
     <use xlink:href="#mc7c5441340" x="752.73" y="827.73" style="fill: #1f77b4; stroke: #1f77b4"/>
     <use xlink:href="#mc7c5441340" x="759.82" y="844.26" style="fill: #1f77b4; stroke: #1f77b4"/>
     <use xlink:href="#mc7c5441340" x="766.91" y="862.13" style="fill: #1f77b4; stroke: #1f77b4"/>
     <use xlink:href="#mc7c5441340" x="773.99" y="880.48" style="fill: #1f77b4; stroke: #1f77b4"/>
     <use xlink:href="#mc7c5441340" x="781.08" y="888.65" style="fill: #1f77b4; stroke: #1f77b4"/>
     <use xlink:href="#mc7c5441340" x="788.17" y="895.55" style="fill: #1f77b4; stroke: #1f77b4"/>
     <use xlink:href="#mc7c5441340" x="795.25" y="905.42" style="fill: #1f77b4; stroke: #1f77b4"/>
     <use xlink:href="#mc7c5441340" x="802.34" y="905.42" style="fill: #1f77b4; stroke: #1f77b4"/>
     <use xlink:href="#mc7c5441340" x="809.42" y="905.42" style="fill: #1f77b4; stroke: #1f77b4"/>
     <use xlink:href="#mc7c5441340" x="816.51" y="905.42" style="fill: #1f77b4; stroke: #1f77b4"/>
     <use xlink:href="#mc7c5441340" x="823.60" y="905.42" style="fill: #1f77b4; stroke: #1f77b4"/>
     <use xlink:href="#mc7c5441340" x="830.68" y="905.42" style="fill: #1f77b4; stroke: #1f77b4"/>
    </g>
   </g>
   <g id="line2d_193">
    <path d="M 769.48 1033.77 
L 769.48 733.72 
" clip-path="url(#pc2aef0c935)" style="fill: none; stroke-dasharray: 5.55,2.4; stroke-dashoffset: 0; stroke: #b00000; stroke-width: 1.5"/>
   </g>
   <g id="line2d_194">
    <path d="M 483.45 883.75 
L 490.54 883.75 
L 497.62 883.75 
L 504.71 883.75 
L 511.80 883.75 
L 518.88 883.74 
L 525.97 883.74 
L 533.05 883.74 
L 540.14 883.74 
L 547.23 883.74 
L 554.31 883.74 
L 561.40 883.74 
L 568.49 883.73 
L 575.57 883.73 
L 582.66 883.73 
L 589.75 883.72 
L 596.83 883.71 
L 603.92 883.71 
L 611.01 883.70 
L 618.09 883.69 
L 625.18 883.66 
L 632.26 883.86 
L 639.35 884.07 
L 646.44 884.19 
L 653.52 884.24 
L 660.61 884.59 
L 667.70 884.97 
L 674.78 885.18 
L 681.87 885.59 
L 688.96 886.17 
L 696.04 886.61 
L 703.13 886.93 
L 710.22 887.57 
L 717.30 888.77 
L 724.39 889.41 
L 731.47 891.02 
L 738.56 892.33 
L 745.65 894.09 
L 752.73 896.04 
L 759.82 898.85 
L 766.91 901.59 
L 773.99 904.60 
L 781.08 903.29 
L 788.17 903.78 
L 795.25 905.42 
L 802.34 905.42 
L 809.42 905.42 
L 816.51 905.42 
L 823.60 905.42 
L 830.68 905.42 
" clip-path="url(#pc2aef0c935)" style="fill: none; stroke: #1f77b4; stroke-width: 1.5; stroke-linecap: square"/>
    <g clip-path="url(#pc2aef0c935)">
     <use xlink:href="#mf14c53ed57" x="483.45" y="883.75" style="fill: #1f77b4; stroke: #1f77b4"/>
     <use xlink:href="#mf14c53ed57" x="490.54" y="883.75" style="fill: #1f77b4; stroke: #1f77b4"/>
     <use xlink:href="#mf14c53ed57" x="497.62" y="883.75" style="fill: #1f77b4; stroke: #1f77b4"/>
     <use xlink:href="#mf14c53ed57" x="504.71" y="883.75" style="fill: #1f77b4; stroke: #1f77b4"/>
     <use xlink:href="#mf14c53ed57" x="511.80" y="883.75" style="fill: #1f77b4; stroke: #1f77b4"/>
     <use xlink:href="#mf14c53ed57" x="518.88" y="883.74" style="fill: #1f77b4; stroke: #1f77b4"/>
     <use xlink:href="#mf14c53ed57" x="525.97" y="883.74" style="fill: #1f77b4; stroke: #1f77b4"/>
     <use xlink:href="#mf14c53ed57" x="533.05" y="883.74" style="fill: #1f77b4; stroke: #1f77b4"/>
     <use xlink:href="#mf14c53ed57" x="540.14" y="883.74" style="fill: #1f77b4; stroke: #1f77b4"/>
     <use xlink:href="#mf14c53ed57" x="547.23" y="883.74" style="fill: #1f77b4; stroke: #1f77b4"/>
     <use xlink:href="#mf14c53ed57" x="554.31" y="883.74" style="fill: #1f77b4; stroke: #1f77b4"/>
     <use xlink:href="#mf14c53ed57" x="561.40" y="883.74" style="fill: #1f77b4; stroke: #1f77b4"/>
     <use xlink:href="#mf14c53ed57" x="568.49" y="883.73" style="fill: #1f77b4; stroke: #1f77b4"/>
     <use xlink:href="#mf14c53ed57" x="575.57" y="883.73" style="fill: #1f77b4; stroke: #1f77b4"/>
     <use xlink:href="#mf14c53ed57" x="582.66" y="883.73" style="fill: #1f77b4; stroke: #1f77b4"/>
     <use xlink:href="#mf14c53ed57" x="589.75" y="883.72" style="fill: #1f77b4; stroke: #1f77b4"/>
     <use xlink:href="#mf14c53ed57" x="596.83" y="883.71" style="fill: #1f77b4; stroke: #1f77b4"/>
     <use xlink:href="#mf14c53ed57" x="603.92" y="883.71" style="fill: #1f77b4; stroke: #1f77b4"/>
     <use xlink:href="#mf14c53ed57" x="611.01" y="883.70" style="fill: #1f77b4; stroke: #1f77b4"/>
     <use xlink:href="#mf14c53ed57" x="618.09" y="883.69" style="fill: #1f77b4; stroke: #1f77b4"/>
     <use xlink:href="#mf14c53ed57" x="625.18" y="883.66" style="fill: #1f77b4; stroke: #1f77b4"/>
     <use xlink:href="#mf14c53ed57" x="632.26" y="883.86" style="fill: #1f77b4; stroke: #1f77b4"/>
     <use xlink:href="#mf14c53ed57" x="639.35" y="884.07" style="fill: #1f77b4; stroke: #1f77b4"/>
     <use xlink:href="#mf14c53ed57" x="646.44" y="884.19" style="fill: #1f77b4; stroke: #1f77b4"/>
     <use xlink:href="#mf14c53ed57" x="653.52" y="884.24" style="fill: #1f77b4; stroke: #1f77b4"/>
     <use xlink:href="#mf14c53ed57" x="660.61" y="884.59" style="fill: #1f77b4; stroke: #1f77b4"/>
     <use xlink:href="#mf14c53ed57" x="667.70" y="884.97" style="fill: #1f77b4; stroke: #1f77b4"/>
     <use xlink:href="#mf14c53ed57" x="674.78" y="885.18" style="fill: #1f77b4; stroke: #1f77b4"/>
     <use xlink:href="#mf14c53ed57" x="681.87" y="885.59" style="fill: #1f77b4; stroke: #1f77b4"/>
     <use xlink:href="#mf14c53ed57" x="688.96" y="886.17" style="fill: #1f77b4; stroke: #1f77b4"/>
     <use xlink:href="#mf14c53ed57" x="696.04" y="886.61" style="fill: #1f77b4; stroke: #1f77b4"/>
     <use xlink:href="#mf14c53ed57" x="703.13" y="886.93" style="fill: #1f77b4; stroke: #1f77b4"/>
     <use xlink:href="#mf14c53ed57" x="710.22" y="887.57" style="fill: #1f77b4; stroke: #1f77b4"/>
     <use xlink:href="#mf14c53ed57" x="717.30" y="888.77" style="fill: #1f77b4; stroke: #1f77b4"/>
     <use xlink:href="#mf14c53ed57" x="724.39" y="889.41" style="fill: #1f77b4; stroke: #1f77b4"/>
     <use xlink:href="#mf14c53ed57" x="731.47" y="891.02" style="fill: #1f77b4; stroke: #1f77b4"/>
     <use xlink:href="#mf14c53ed57" x="738.56" y="892.33" style="fill: #1f77b4; stroke: #1f77b4"/>
     <use xlink:href="#mf14c53ed57" x="745.65" y="894.09" style="fill: #1f77b4; stroke: #1f77b4"/>
     <use xlink:href="#mf14c53ed57" x="752.73" y="896.04" style="fill: #1f77b4; stroke: #1f77b4"/>
     <use xlink:href="#mf14c53ed57" x="759.82" y="898.85" style="fill: #1f77b4; stroke: #1f77b4"/>
     <use xlink:href="#mf14c53ed57" x="766.91" y="901.59" style="fill: #1f77b4; stroke: #1f77b4"/>
     <use xlink:href="#mf14c53ed57" x="773.99" y="904.60" style="fill: #1f77b4; stroke: #1f77b4"/>
     <use xlink:href="#mf14c53ed57" x="781.08" y="903.29" style="fill: #1f77b4; stroke: #1f77b4"/>
     <use xlink:href="#mf14c53ed57" x="788.17" y="903.78" style="fill: #1f77b4; stroke: #1f77b4"/>
     <use xlink:href="#mf14c53ed57" x="795.25" y="905.42" style="fill: #1f77b4; stroke: #1f77b4"/>
     <use xlink:href="#mf14c53ed57" x="802.34" y="905.42" style="fill: #1f77b4; stroke: #1f77b4"/>
     <use xlink:href="#mf14c53ed57" x="809.42" y="905.42" style="fill: #1f77b4; stroke: #1f77b4"/>
     <use xlink:href="#mf14c53ed57" x="816.51" y="905.42" style="fill: #1f77b4; stroke: #1f77b4"/>
     <use xlink:href="#mf14c53ed57" x="823.60" y="905.42" style="fill: #1f77b4; stroke: #1f77b4"/>
     <use xlink:href="#mf14c53ed57" x="830.68" y="905.42" style="fill: #1f77b4; stroke: #1f77b4"/>
    </g>
   </g>
   <g id="patch_28">
    <path d="M 466.12 1033.77 
L 466.12 733.72 
" style="fill: none; stroke: #000000; stroke-width: 0.8; stroke-linejoin: miter; stroke-linecap: square"/>
   </g>
   <g id="patch_29">
    <path d="M 848.01 1033.77 
L 848.01 733.72 
" style="fill: none; stroke: #000000; stroke-width: 0.8; stroke-linejoin: miter; stroke-linecap: square"/>
   </g>
   <g id="patch_30">
    <path d="M 466.12 1033.77 
L 848.01 1033.77 
" style="fill: none; stroke: #000000; stroke-width: 0.8; stroke-linejoin: miter; stroke-linecap: square"/>
   </g>
   <g id="patch_31">
    <path d="M 466.12 733.72 
L 848.01 733.72 
" style="fill: none; stroke: #000000; stroke-width: 0.8; stroke-linejoin: miter; stroke-linecap: square"/>
   </g>
   <g id="text_109">
    <text style="font-size: 12px; font-family: 'DejaVu Sans', 'Liberation Sans', sans-serif; text-anchor: middle" x="657.07" y="727.72" transform="matrix(1.0070 0 0 1.0600 -4.599 -44.095)">Coefficient Stability for DCE</text>
   </g>
  </g>
 </g>
 <defs>
  <clipPath id="p4a0992211f">
   <rect x="37.99" y="17.76" width="381.04" height="299.97"/>
  </clipPath>
  <clipPath id="pb48d941c94">
   <rect x="466.12" y="17.76" width="381.88" height="299.97"/>
  </clipPath>
  <clipPath id="p260a30c363">
   <rect x="37.99" y="375.67" width="381.04" height="300.07"/>
  </clipPath>
  <clipPath id="p46c99e5010">
   <rect x="466.12" y="375.67" width="381.88" height="300.07"/>
  </clipPath>
  <clipPath id="p7f65d80952">
   <rect x="37.99" y="733.72" width="381.04" height="300.04"/>
  </clipPath>
  <clipPath id="pc2aef0c935">
   <rect x="466.12" y="733.72" width="381.88" height="300.04"/>
  </clipPath>
 </defs>
</svg>
</g></svg>
</body></html>
